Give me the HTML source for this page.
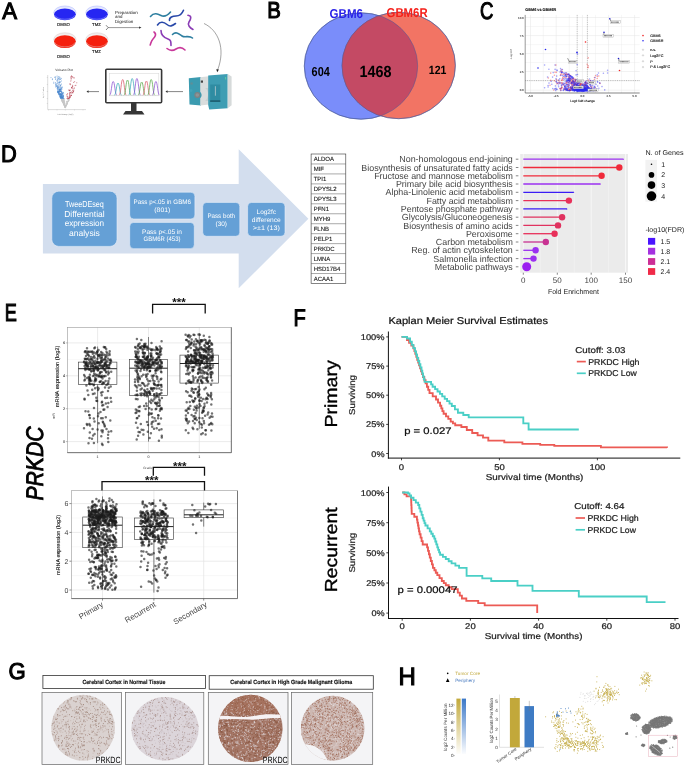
<!DOCTYPE html>
<html><head><meta charset="utf-8"><style>
html,body{margin:0;padding:0;background:#fff;}
body{width:685px;height:768px;overflow:hidden;}
svg{display:block;font-family:"Liberation Sans", sans-serif;will-change:transform;text-rendering:geometricPrecision;}
</style></head><body>
<svg width="685" height="768" viewBox="0 0 685 768">
<rect width="685" height="768" fill="#fff"/>
<text x="2.20" y="18.70" font-size="23.5" fill="#000" textLength="14.8" lengthAdjust="spacingAndGlyphs" stroke="#000" stroke-width="1.1" >A</text>
<text x="267.20" y="18.40" font-size="23" fill="#000" textLength="13.6" lengthAdjust="spacingAndGlyphs" stroke="#000" stroke-width="1.1" >B</text>
<text x="480.00" y="19.00" font-size="24" fill="#000" textLength="13.4" lengthAdjust="spacingAndGlyphs" stroke="#000" stroke-width="1.1" >C</text>
<text x="0.90" y="161.80" font-size="24" fill="#000" textLength="15.8" lengthAdjust="spacingAndGlyphs" stroke="#000" stroke-width="1.1" >D</text>
<text x="4.80" y="321.20" font-size="24.5" fill="#000" textLength="12.1" lengthAdjust="spacingAndGlyphs" stroke="#000" stroke-width="1.1" >E</text>
<text x="293.40" y="326.00" font-size="24" fill="#000" textLength="12.3" lengthAdjust="spacingAndGlyphs" stroke="#000" stroke-width="1.1" >F</text>
<text x="8.60" y="678.90" font-size="23" fill="#000" textLength="17.2" lengthAdjust="spacingAndGlyphs" stroke="#000" stroke-width="1.1" >G</text>
<text x="398.40" y="684.70" font-size="25" fill="#000" textLength="17.3" lengthAdjust="spacingAndGlyphs" stroke="#000" stroke-width="1.1" >H</text>
<ellipse cx="64.9" cy="12.6" rx="11.1" ry="6.6" fill="#e4e8ff" stroke="#b4bcff" stroke-width="0.6"/>
<ellipse cx="64.9" cy="14.4" rx="10.9" ry="5.9" fill="#2626f2"/>
<path d="M54.7 15.200000000000001 A 10.4 5.0 0 0 0 75.10000000000001 15.200000000000001" fill="none" stroke="#b4bcff" stroke-width="0.5" opacity="0.9"/>
<ellipse cx="96.9" cy="12.6" rx="11.1" ry="6.6" fill="#e4e8ff" stroke="#b4bcff" stroke-width="0.6"/>
<ellipse cx="96.9" cy="14.4" rx="10.9" ry="5.9" fill="#2626f2"/>
<path d="M86.7 15.200000000000001 A 10.4 5.0 0 0 0 107.10000000000001 15.200000000000001" fill="none" stroke="#b4bcff" stroke-width="0.5" opacity="0.9"/>
<ellipse cx="64.9" cy="39.4" rx="11.1" ry="6.6" fill="#f2eeee" stroke="#dccfcf" stroke-width="0.6"/>
<ellipse cx="64.9" cy="41.6" rx="10.9" ry="6.4" fill="#f5200e"/>
<path d="M54.7 42.4 A 10.4 5.5 0 0 0 75.10000000000001 42.4" fill="none" stroke="#dccfcf" stroke-width="0.5" opacity="0.9"/>
<ellipse cx="96.9" cy="39.4" rx="11.1" ry="6.6" fill="#f2eeee" stroke="#dccfcf" stroke-width="0.6"/>
<ellipse cx="96.9" cy="41.6" rx="10.9" ry="6.4" fill="#f5200e"/>
<path d="M86.7 42.4 A 10.4 5.5 0 0 0 107.10000000000001 42.4" fill="none" stroke="#dccfcf" stroke-width="0.5" opacity="0.9"/>
<text x="63.50" y="26.30" font-size="4.3" fill="#222" text-anchor="middle" stroke="#222" stroke-width="0.15" >DMSO</text>
<text x="96.50" y="26.30" font-size="4.3" fill="#222" text-anchor="middle" stroke="#222" stroke-width="0.15" >TMZ</text>
<text x="63.50" y="57.70" font-size="4.3" fill="#222" text-anchor="middle" stroke="#222" stroke-width="0.15" >DMSO</text>
<text x="96.50" y="52.80" font-size="4.3" fill="#222" text-anchor="middle" stroke="#222" stroke-width="0.15" >TMZ</text>
<path d="M106 25.2 L108.2 27.6 L106 30" fill="none" stroke="#333" stroke-width="0.6"/>
<line x1="108.2" y1="27.6" x2="139.5" y2="27.6" stroke="#333" stroke-width="0.5"/>
<path d="M139 26.4 L141.5 27.6 L139 28.8 Z" fill="#333"/>
<text x="115.00" y="13.50" font-size="4.4" fill="#111" >Preparation</text>
<text x="115.00" y="18.30" font-size="4.4" fill="#111" >and</text>
<text x="115.00" y="23.10" font-size="4.4" fill="#111" >Digestion</text>
<path d="M150.5 16.5 C154 12, 158 14, 161 15.5 S 167 16, 170.5 12" fill="none" stroke="#2e7fa0" stroke-width="1.6" stroke-linecap="round"/>
<path d="M169.5 20.5 C169 17, 173 16, 176 16 S 182 14, 183.5 10.3" fill="none" stroke="#2747a8" stroke-width="1.6" stroke-linecap="round"/>
<path d="M188 15.3 C192 16, 191 19, 189 22 S 190 28, 193 29.5" fill="none" stroke="#8a3cb5" stroke-width="1.6" stroke-linecap="round"/>
<path d="M157.5 25 C160 21, 164 22, 167 24.5 S 172 26, 175.5 23.5" fill="none" stroke="#2747a8" stroke-width="1.6" stroke-linecap="round"/>
<path d="M154 32 C157 34, 155 37, 153 39 S 151 43, 150.2 45" fill="none" stroke="#c8389a" stroke-width="1.6" stroke-linecap="round"/>
<path d="M161 30.5 C161 36, 165 38, 168 39 S 171 42, 171 45.5" fill="none" stroke="#8a3cb5" stroke-width="1.6" stroke-linecap="round"/>
<path d="M172.5 34.5 C176 31, 179 34, 182 36 S 189 35, 192.5 38" fill="none" stroke="#2e7fa0" stroke-width="1.6" stroke-linecap="round"/>
<path d="M167 48.5 C170 51, 173 51, 176 49 S 182 47, 185 50" fill="none" stroke="#c8389a" stroke-width="1.6" stroke-linecap="round"/>
<path d="M204 23.5 C 218 30, 226 48, 217.6 70" fill="none" stroke="#333" stroke-width="0.45"/>
<path d="M216.2 69.2 L217.3 72.2 L218.9 69.6 Z" fill="#222"/>
<path d="M188.8 78.2 L201 77 L201 105.5 L189.5 104.5 Z" fill="#3b9bb0"/>
<path d="M200.2 77.3 L209 76.2 L209 104.6 L200.2 105.6 Z" fill="#d9dddd"/>
<path d="M205 88 C 209 90, 209 98, 205 101 L 209 101 L 209 88 Z" fill="#c9cfd0"/>
<path d="M208.2 75.4 L227.7 74.0 L227.7 108.2 L209.2 109.4 L208.2 105 Z" fill="#3e9db3"/>
<path d="M227.7 74.0 L231.6 76.6 L231.6 105.2 L227.7 108.2 Z" fill="#d6dada"/>
<rect x="210.2" y="84.5" width="10.1" height="17.5" fill="#2f8ca2"/>
<rect x="214.9" y="86.2" width="0.9" height="9.5" fill="#a9c4ca"/>
<rect x="210.2" y="100.2" width="10.1" height="1.8" fill="#1e6274"/>
<circle cx="197.3" cy="95" r="4.3" fill="#3b9bb0"/>
<circle cx="197.3" cy="95" r="3.0" fill="#7d8284"/>
<circle cx="197.3" cy="95" r="1.8" fill="#8e9496"/>
<circle cx="191.6" cy="83.5" r="1.3" fill="#5e8f99"/>
<circle cx="191" cy="90.5" r="1.5" fill="#43a2b6"/>
<rect x="200.8" y="80.5" width="2.2" height="2.2" fill="#444"/>
<rect x="225.2" y="77" width="0.9" height="2.5" fill="#5fd0a0"/>
<line x1="167" y1="91.6" x2="183" y2="91.6" stroke="#666" stroke-width="0.8"/>
<path d="M167.5 90.3 L165.5 91.6 L167.5 92.9 Z" fill="#333"/>
<line x1="88" y1="91.6" x2="99" y2="91.6" stroke="#666" stroke-width="0.8"/>
<path d="M88.5 90.3 L86.5 91.6 L88.5 92.9 Z" fill="#333"/>
<rect x="105.8" y="69.2" width="55.8" height="33.6" rx="1" fill="#fff" stroke="#363636" stroke-width="1.6"/>
<rect x="109.4" y="73.4" width="49.4" height="22.4" fill="#fff" stroke="#d4d4d4" stroke-width="0.5"/>
<rect x="131" y="103" width="5.5" height="8" fill="#363636"/>
<path d="M123 114.6 L125.5 111 L142 111 L144.5 114.6 Z" fill="#363636"/>
<path d="M109.6 95.2 C 111.4 95.2, 111.6 81.5, 113.2 81.5 S 115.0 95.2, 116.8 95.2" fill="none" stroke="#8a4fd0" stroke-width="0.75"/>
<path d="M114.4 95.2 C 116.2 95.2, 116.4 83.0, 118.0 83.0 S 119.8 95.2, 121.5 95.2" fill="none" stroke="#3aa8b8" stroke-width="0.75"/>
<path d="M119.1 95.2 C 120.9 95.2, 121.1 79.5, 122.7 79.5 S 124.5 95.2, 126.3 95.2" fill="none" stroke="#d85a6a" stroke-width="0.75"/>
<path d="M123.9 95.2 C 125.7 95.2, 125.9 80.0, 127.5 80.0 S 129.2 95.2, 131.1 95.2" fill="none" stroke="#5aa84a" stroke-width="0.75"/>
<path d="M128.6 95.2 C 130.4 95.2, 130.6 78.5, 132.2 78.5 S 134.0 95.2, 135.8 95.2" fill="none" stroke="#3aa8b8" stroke-width="0.75"/>
<path d="M133.3 95.2 C 135.1 95.2, 135.3 78.5, 136.9 78.5 S 138.8 95.2, 140.5 95.2" fill="none" stroke="#8a4fd0" stroke-width="0.75"/>
<path d="M138.1 95.2 C 139.9 95.2, 140.1 82.0, 141.7 82.0 S 143.5 95.2, 145.3 95.2" fill="none" stroke="#5aa84a" stroke-width="0.75"/>
<path d="M142.8 95.2 C 144.6 95.2, 144.8 81.0, 146.4 81.0 S 148.2 95.2, 150.0 95.2" fill="none" stroke="#d85a6a" stroke-width="0.75"/>
<path d="M147.6 95.2 C 149.4 95.2, 149.6 79.5, 151.2 79.5 S 153.0 95.2, 154.8 95.2" fill="none" stroke="#5aa84a" stroke-width="0.75"/>
<path d="M152.3 95.2 C 154.1 95.2, 154.3 81.5, 155.9 81.5 S 157.8 95.2, 159.5 95.2" fill="none" stroke="#8a4fd0" stroke-width="0.75"/>
<line x1="109.6" y1="95.3" x2="158.6" y2="95.3" stroke="#c8c8c8" stroke-width="0.4"/>
<text x="64.10" y="71.20" font-size="3.2" fill="#333" text-anchor="middle" >Volcano Plot</text>
<line x1="47.7" y1="75" x2="47.7" y2="109.6" stroke="#cfcfcf" stroke-width="0.7"/>
<line x1="47.7" y1="109.6" x2="86" y2="109.6" stroke="#cfcfcf" stroke-width="0.7"/>
<line x1="46.8" y1="77.5" x2="47.7" y2="77.5" stroke="#999" stroke-width="0.3"/>
<line x1="46.8" y1="84.5" x2="47.7" y2="84.5" stroke="#999" stroke-width="0.3"/>
<line x1="46.8" y1="91.5" x2="47.7" y2="91.5" stroke="#999" stroke-width="0.3"/>
<line x1="46.8" y1="98.5" x2="47.7" y2="98.5" stroke="#999" stroke-width="0.3"/>
<line x1="46.8" y1="103.5" x2="47.7" y2="103.5" stroke="#999" stroke-width="0.3"/>
<line x1="48.5" y1="109.6" x2="48.5" y2="110.4" stroke="#999" stroke-width="0.3"/>
<line x1="57" y1="109.6" x2="57" y2="110.4" stroke="#999" stroke-width="0.3"/>
<line x1="65.4" y1="109.6" x2="65.4" y2="110.4" stroke="#999" stroke-width="0.3"/>
<line x1="74.5" y1="109.6" x2="74.5" y2="110.4" stroke="#999" stroke-width="0.3"/>
<line x1="83" y1="109.6" x2="83" y2="110.4" stroke="#999" stroke-width="0.3"/>
<text transform="translate(43.80,92.50) rotate(-90)" font-size="1.8" fill="#777" text-anchor="middle" >log10 P value</text>
<text x="65.40" y="114.80" font-size="1.9" fill="#777" text-anchor="middle" >Fold change (log2)</text>
<path d="M56.2 86.2h0M60.7 85.1h0M57.5 91.5h0M63.0 97.4h0M62.5 98.3h0M64.0 98.5h0M53.8 82.2h0M63.2 97.2h0M63.6 96.1h0M61.7 96.4h0M62.6 98.4h0M59.1 89.2h0M63.0 98.5h0M59.9 89.6h0M61.6 97.9h0M61.5 92.7h0M61.9 98.8h0M62.2 98.8h0M61.1 98.1h0M63.0 93.3h0M55.7 85.1h0M56.2 84.3h0M61.2 94.2h0M57.4 88.1h0M55.6 82.7h0M59.5 79.8h0M57.1 88.7h0M58.8 91.7h0M58.4 86.7h0M60.6 98.1h0M62.7 99.0h0M59.0 84.2h0M58.9 92.3h0M61.8 94.7h0M60.8 85.1h0M58.6 88.2h0M60.3 85.6h0M60.1 89.1h0M56.8 80.8h0M60.3 96.5h0M62.1 98.7h0M61.8 97.1h0M62.7 98.5h0M60.2 96.3h0M60.9 90.6h0M61.1 91.8h0M63.3 98.9h0M58.9 78.6h0M57.7 87.1h0M62.0 94.9h0M62.5 97.1h0M58.9 76.5h0M57.4 85.7h0M59.1 91.6h0M61.9 97.5h0M59.2 94.4h0M60.4 88.2h0M58.2 82.2h0M62.6 98.2h0M60.4 93.5h0M60.7 96.5h0M60.9 89.6h0M59.8 94.1h0M57.9 91.7h0M57.7 78.1h0M58.0 91.0h0M59.2 93.1h0M55.8 77.0h0M56.5 85.9h0M55.5 79.1h0M59.1 82.5h0M60.8 94.2h0M60.1 91.6h0M62.2 87.2h0M61.2 98.6h0M58.9 94.1h0M60.3 94.6h0M54.9 77.4h0M59.7 91.5h0M60.5 94.9h0M61.3 98.2h0M61.1 97.8h0M61.4 81.0h0M61.6 98.2h0M60.1 97.3h0M53.8 83.3h0M59.2 79.0h0M61.8 94.8h0M57.6 87.3h0M62.4 99.0h0M58.9 93.4h0M59.1 91.3h0M60.7 95.0h0M58.7 92.4h0M60.2 96.8h0M63.3 96.9h0M60.8 87.1h0M55.6 86.9h0M59.8 91.8h0M60.4 94.7h0M61.0 98.5h0M62.1 89.0h0M60.5 82.0h0M60.5 79.5h0M57.7 86.4h0M59.4 90.6h0M62.0 97.2h0M61.4 95.4h0M56.7 83.8h0M60.4 86.1h0M60.2 96.4h0M56.9 87.0h0M59.8 89.4h0M55.8 79.1h0M62.2 98.7h0M63.1 96.9h0M62.7 98.2h0M55.1 77.1h0M57.9 90.9h0M58.7 91.4h0M59.2 93.8h0M63.7 93.9h0M57.9 92.7h0M59.3 89.0h0M56.4 86.1h0M51.0 77.6h0M60.4 91.3h0M62.4 98.0h0M58.4 92.6h0M57.6 80.9h0M60.1 82.0h0M59.1 90.5h0M63.3 96.1h0M63.2 96.3h0M60.3 89.8h0M58.1 87.3h0M62.9 95.3h0M61.0 96.0h0M61.8 96.1h0M62.4 93.5h0M58.3 91.5h0M60.5 97.5h0M59.2 92.3h0M62.0 92.8h0M61.2 98.3h0M58.4 93.2h0M59.1 91.0h0M62.2 95.3h0M59.6 89.9h0M59.8 96.3h0M61.5 89.2h0M52.5 78.9h0M61.1 94.7h0M62.1 92.2h0M61.0 94.7h0M57.6 91.2h0M60.9 93.8h0M62.1 97.5h0M61.4 97.3h0M59.2 85.1h0M60.7 89.8h0M61.5 97.2h0M60.7 94.2h0M59.9 77.3h0M61.1 97.0h0M61.9 93.9h0M61.8 96.9h0M59.2 77.9h0M59.7 94.0h0M59.2 95.1h0M63.4 95.4h0M58.5 92.4h0M58.1 89.2h0M61.7 98.1h0M62.0 96.4h0M60.4 97.3h0M58.9 93.7h0M61.8 97.8h0M60.3 90.5h0M58.8 93.9h0M59.5 95.3h0M60.3 89.4h0M60.8 94.9h0M61.2 91.8h0M60.8 97.0h0M59.2 82.8h0M60.7 94.8h0M60.7 97.1h0M59.3 82.0h0M62.3 95.0h0M52.3 79.6h0M58.8 89.5h0M62.1 87.2h0M61.5 88.1h0M59.4 90.0h0M62.1 96.0h0M61.8 96.1h0M60.9 95.8h0M62.2 98.3h0M60.1 87.9h0M58.1 77.2h0M59.0 94.4h0M63.2 98.7h0M57.7 92.5h0M62.4 97.1h0M61.1 91.3h0M61.0 91.5h0M57.1 76.1h0M61.3 96.4h0M61.5 84.1h0M61.9 97.4h0M59.9 91.5h0M60.2 95.8h0M59.5 94.5h0M63.0 92.4h0M59.4 86.9h0M60.2 97.1h0M63.0 98.8h0M56.0 85.1h0M63.1 98.6h0M57.5 79.4h0M58.7 87.8h0M62.2 93.7h0M62.1 97.2h0M60.9 78.3h0M61.1 88.8h0M57.5 88.2h0M59.5 89.4h0M61.4 93.9h0M61.5 88.0h0M58.0 80.1h0M60.8 94.7h0M57.4 83.7h0M57.3 82.2h0M61.2 78.7h0M61.6 91.0h0M63.2 92.5h0M61.0 97.6h0M62.5 96.8h0M62.6 93.8h0M62.6 98.1h0M58.2 85.2h0M61.7 92.1h0M59.9 94.8h0M61.8 93.8h0M59.5 82.1h0M60.4 89.5h0M59.0 83.8h0M58.4 91.2h0M62.0 94.6h0M60.4 91.6h0M58.9 92.2h0M57.4 89.6h0M58.5 78.8h0M60.1 93.6h0M60.0 90.7h0M55.5 84.0h0M63.3 98.0h0M59.0 87.1h0M57.8 92.6h0M61.8 97.8h0" stroke="#4a88d0" stroke-width="0.84" stroke-linecap="round" stroke-opacity="0.85" fill="none"/>
<path d="M71.4 95.2h0M73.4 91.5h0M67.1 96.5h0M69.9 90.6h0M67.8 96.7h0M69.0 98.5h0M71.5 76.3h0M69.5 90.4h0M72.9 92.8h0M69.2 97.7h0M69.4 97.0h0M72.1 77.4h0M71.8 87.3h0M70.3 96.8h0M72.0 87.9h0M72.5 92.8h0M69.8 90.4h0M72.4 86.4h0M68.7 98.8h0M69.5 92.3h0M69.3 96.8h0M70.8 78.1h0M74.7 81.7h0M68.2 98.2h0M72.7 76.6h0M73.8 90.7h0M66.9 94.8h0M69.7 98.2h0M70.8 76.9h0M75.1 85.6h0M73.7 82.4h0M67.0 98.4h0M70.3 97.2h0M69.5 95.4h0M68.4 90.1h0M67.8 97.8h0M70.8 81.1h0M69.4 97.3h0M69.8 84.1h0M74.6 88.0h0M70.5 95.8h0M68.4 98.7h0M73.3 77.8h0M72.8 86.3h0M76.8 82.8h0M70.4 92.4h0M74.3 77.9h0M69.9 93.6h0M69.9 94.6h0M69.6 93.9h0M72.8 92.4h0M75.9 85.3h0M72.7 85.3h0M72.8 90.6h0M71.0 95.6h0M70.7 92.8h0M71.9 88.2h0M73.0 90.0h0M71.5 87.5h0M71.4 95.5h0M70.0 89.9h0M70.2 83.8h0M72.8 88.0h0M67.4 98.9h0M68.1 98.4h0M67.7 93.6h0M73.9 88.8h0M70.7 84.7h0M71.4 78.3h0M71.1 79.9h0M71.6 76.0h0M73.2 91.7h0M71.7 91.9h0M67.0 94.9h0M71.3 93.0h0" stroke="#b23444" stroke-width="0.84" stroke-linecap="round" stroke-opacity="0.85" fill="none"/>
<path d="M64.9 106.1h0M66.2 105.4h0M68.2 101.4h0M64.2 103.9h0M65.0 106.5h0M66.6 102.0h0M63.8 104.0h0M63.9 103.4h0M62.5 100.1h0M62.9 99.7h0M64.7 105.2h0M62.2 101.0h0M63.1 103.1h0M64.5 101.2h0M64.7 106.2h0M63.6 102.8h0M65.7 106.7h0M61.3 99.6h0M68.6 101.0h0M65.2 106.9h0M63.1 100.1h0M63.9 104.7h0M64.1 104.7h0M64.7 105.8h0M63.3 101.7h0M63.6 101.4h0M63.1 101.1h0M65.0 106.7h0M67.0 102.2h0M68.2 101.0h0M62.5 99.7h0M65.1 106.8h0M65.7 107.0h0M67.2 104.0h0M66.1 105.6h0M64.2 102.4h0M62.9 102.1h0M66.7 101.6h0M64.1 103.8h0M63.7 101.8h0M63.8 102.8h0M66.9 103.8h0M63.3 102.0h0M67.6 101.8h0M69.3 99.8h0M67.3 103.5h0M64.2 102.1h0M65.8 106.4h0M64.1 105.0h0M65.3 107.4h0M65.2 107.1h0M68.4 99.5h0M64.6 104.3h0M63.9 102.9h0M61.9 99.4h0M62.1 101.1h0M63.5 102.5h0M66.2 105.0h0M66.3 101.8h0M66.1 103.1h0M63.2 102.4h0M65.1 106.4h0M63.4 102.4h0M67.0 103.4h0M64.3 102.1h0M63.7 101.6h0M63.1 101.7h0M64.9 105.7h0M64.2 101.3h0M64.0 104.6h0M63.3 99.9h0M61.9 99.7h0M68.6 99.3h0M64.9 106.6h0M64.9 106.2h0M64.0 104.4h0M68.6 100.6h0M64.3 105.4h0M64.6 105.3h0M63.6 103.0h0M62.7 101.8h0M64.3 105.1h0M64.5 105.0h0M63.5 101.2h0M65.2 106.5h0M64.8 106.3h0M62.8 101.8h0M63.0 102.5h0M63.7 102.8h0M64.4 105.0h0M65.8 106.8h0M62.6 101.8h0M62.5 100.3h0M64.9 106.7h0M64.9 106.1h0M65.4 107.6h0M61.6 99.6h0M64.8 105.4h0M66.6 105.0h0M64.5 105.8h0M63.2 103.0h0M68.6 100.6h0M64.9 106.0h0M63.6 103.7h0M64.2 104.4h0M65.1 106.6h0M64.4 105.5h0M66.1 103.9h0M67.6 103.0h0M64.8 105.5h0M65.3 107.3h0M66.9 104.6h0M63.8 102.7h0M64.3 100.4h0M64.7 105.3h0M68.7 100.0h0M65.1 106.8h0M63.5 101.7h0M64.9 106.1h0M65.3 107.3h0M64.3 104.4h0M66.1 103.6h0M66.3 105.5h0M63.4 100.9h0M63.4 99.8h0M65.3 107.4h0M61.4 99.4h0M63.4 102.0h0M63.3 101.3h0M64.3 105.5h0M62.6 101.2h0M64.8 105.8h0M64.3 105.4h0M63.6 103.1h0M65.2 107.2h0M65.0 105.6h0M65.8 105.4h0M66.2 105.4h0M62.7 100.3h0M64.5 104.8h0M64.6 105.7h0M63.4 103.3h0M62.3 101.2h0M63.7 101.2h0M69.0 100.5h0M61.9 99.3h0M63.8 104.3h0M64.3 102.0h0M62.2 101.1h0M68.7 100.9h0M63.9 104.3h0M63.9 99.3h0M63.4 103.1h0M64.7 104.9h0M64.2 103.8h0M62.6 101.3h0M63.3 103.3h0M64.7 104.4h0M64.1 103.8h0M65.4 107.3h0M67.0 102.8h0M61.9 99.7h0M62.4 99.8h0M63.6 102.9h0M63.1 101.5h0M64.0 104.6h0M61.7 100.2h0M63.7 102.9h0M64.4 105.0h0M64.7 105.3h0M62.3 101.5h0M65.0 106.8h0M64.9 106.3h0M65.0 106.8h0M64.4 99.2h0M64.8 105.9h0M65.7 106.4h0M63.6 103.3h0M64.6 103.5h0M62.9 100.3h0M63.8 101.8h0M62.1 100.6h0M66.4 105.3h0M65.8 106.7h0M64.5 104.7h0M65.4 107.4h0M66.2 105.4h0M67.0 104.1h0M63.7 104.0h0M61.5 99.5h0M67.7 101.2h0M64.5 105.5h0M64.7 105.9h0M64.6 104.7h0M65.4 107.5h0M65.2 107.1h0M63.6 101.7h0M64.4 103.7h0M66.4 105.2h0M63.4 101.1h0M63.4 103.5h0M63.7 103.0h0M69.6 99.3h0M63.9 104.7h0M67.6 101.8h0M65.0 106.5h0M63.3 101.6h0M64.8 106.0h0M62.1 101.1h0M63.1 102.4h0M63.8 101.5h0M64.7 105.6h0M65.4 107.6h0M64.9 106.3h0M65.2 106.8h0M63.6 103.1h0M65.2 107.0h0M62.7 102.4h0M63.1 101.2h0M64.5 104.0h0M64.7 105.6h0M65.2 106.9h0M64.1 104.6h0M65.2 107.2h0M62.3 100.4h0M65.4 107.5h0M67.6 99.4h0M64.8 105.9h0M67.5 102.0h0M62.7 100.2h0M63.8 103.3h0M64.8 106.2h0M68.6 99.5h0M64.1 104.5h0M63.8 100.3h0M62.1 100.2h0M63.9 104.1h0M64.7 103.2h0M62.8 101.9h0M64.4 105.2h0M64.9 106.4h0M62.2 99.1h0M62.6 100.9h0M64.7 106.1h0M62.2 101.2h0M65.3 106.5h0M63.1 102.9h0M63.7 102.9h0M67.0 101.0h0M65.4 107.4h0M67.1 103.4h0M66.5 105.4h0M63.5 102.1h0M67.5 102.7h0M62.4 100.7h0M63.6 103.0h0M64.5 105.8h0M62.7 101.8h0M66.9 103.8h0M62.7 101.9h0M64.9 106.5h0M67.1 101.5h0M65.4 107.5h0M63.6 102.3h0M64.4 105.1h0M63.9 103.9h0M64.1 104.8h0M65.5 107.4h0M65.9 106.5h0M62.7 101.3h0M65.4 107.4h0M64.1 100.4h0M64.6 104.0h0M65.0 106.0h0M62.3 100.4h0M68.7 101.1h0M65.0 106.6h0M64.7 105.0h0M65.1 106.8h0M66.1 105.2h0M64.4 105.2h0M63.6 103.3h0M63.7 100.4h0M64.0 101.2h0M64.7 104.5h0M63.7 99.2h0M65.5 107.3h0M67.2 102.8h0M68.7 100.5h0M63.8 100.1h0M63.0 99.6h0M64.1 104.7h0M64.6 104.5h0M67.1 103.3h0M63.8 104.3h0M65.4 107.6h0M61.8 100.2h0M62.2 100.8h0M64.4 105.3h0M64.9 106.6h0M64.2 101.8h0M64.4 103.4h0M62.0 99.4h0M63.4 103.1h0M64.1 103.4h0M67.0 104.1h0M63.4 103.7h0M64.8 105.8h0M65.0 104.8h0M65.9 105.3h0M64.2 104.1h0M67.4 102.8h0M64.9 105.5h0M64.9 106.0h0M66.7 104.2h0M67.8 102.3h0M63.5 101.1h0" stroke="#c9c9c9" stroke-width="0.84" stroke-linecap="round" stroke-opacity="0.85" fill="none"/>
<ellipse cx="361" cy="66" rx="56.7" ry="53.2" fill="#7a8dfa" stroke="#4b5a9a" stroke-width="0.5"/>
<ellipse cx="398.7" cy="65.5" rx="56.7" ry="53.2" fill="#f27464" stroke="#4b5a9a" stroke-width="0.5"/>
<clipPath id="cpB"><ellipse cx="361" cy="66" rx="56.7" ry="53.2"/></clipPath>
<ellipse cx="398.7" cy="65.5" rx="56.7" ry="53.2" fill="#c44a64" clip-path="url(#cpB)"/>
<ellipse cx="361" cy="66" rx="56.7" ry="53.2" fill="none" stroke="#4b5a9a" stroke-width="0.5"/>
<ellipse cx="398.7" cy="65.5" rx="56.7" ry="53.2" fill="none" stroke="#4b5a9a" stroke-width="0.5"/>
<text x="329.60" y="18.20" font-size="12.8" fill="#2a22e8" font-weight="bold" textLength="33.4" lengthAdjust="spacingAndGlyphs" >GBM6</text>
<text x="386.60" y="17.40" font-size="12.8" fill="#f5201a" font-weight="bold" textLength="41" lengthAdjust="spacingAndGlyphs" >GBM6R</text>
<text x="311.60" y="76.00" font-size="13" fill="#000" font-weight="bold" textLength="18.2" lengthAdjust="spacingAndGlyphs" >604</text>
<text x="359.40" y="76.60" font-size="16.2" fill="#000" font-weight="bold" textLength="32" lengthAdjust="spacingAndGlyphs" >1468</text>
<text x="428.80" y="73.60" font-size="12" fill="#000" font-weight="bold" textLength="17.6" lengthAdjust="spacingAndGlyphs" >121</text>
<rect x="525.2" y="14.9" width="114.5" height="78.1" fill="#fff"/>
<line x1="530.5" y1="14.9" x2="530.5" y2="93.0" stroke="#e4e4e4" stroke-width="0.5"/>
<line x1="543.3" y1="14.9" x2="543.3" y2="93.0" stroke="#e4e4e4" stroke-width="0.3"/>
<line x1="556.2" y1="14.9" x2="556.2" y2="93.0" stroke="#e4e4e4" stroke-width="0.5"/>
<line x1="569.3" y1="14.9" x2="569.3" y2="93.0" stroke="#e4e4e4" stroke-width="0.3"/>
<line x1="582.4" y1="14.9" x2="582.4" y2="93.0" stroke="#e4e4e4" stroke-width="0.5"/>
<line x1="595.5" y1="14.9" x2="595.5" y2="93.0" stroke="#e4e4e4" stroke-width="0.3"/>
<line x1="608.6" y1="14.9" x2="608.6" y2="93.0" stroke="#e4e4e4" stroke-width="0.5"/>
<line x1="621.5" y1="14.9" x2="621.5" y2="93.0" stroke="#e4e4e4" stroke-width="0.3"/>
<line x1="634.6" y1="14.9" x2="634.6" y2="93.0" stroke="#e4e4e4" stroke-width="0.5"/>
<line x1="525.2" y1="17.5" x2="639.7" y2="17.5" stroke="#e4e4e4" stroke-width="0.5"/>
<line x1="525.2" y1="26.5" x2="639.7" y2="26.5" stroke="#e4e4e4" stroke-width="0.3"/>
<line x1="525.2" y1="35.6" x2="639.7" y2="35.6" stroke="#e4e4e4" stroke-width="0.5"/>
<line x1="525.2" y1="44.6" x2="639.7" y2="44.6" stroke="#e4e4e4" stroke-width="0.3"/>
<line x1="525.2" y1="53.6" x2="639.7" y2="53.6" stroke="#e4e4e4" stroke-width="0.5"/>
<line x1="525.2" y1="62.5" x2="639.7" y2="62.5" stroke="#e4e4e4" stroke-width="0.3"/>
<line x1="525.2" y1="71.5" x2="639.7" y2="71.5" stroke="#e4e4e4" stroke-width="0.5"/>
<line x1="525.2" y1="80.8" x2="639.7" y2="80.8" stroke="#e4e4e4" stroke-width="0.3"/>
<line x1="525.2" y1="90.2" x2="639.7" y2="90.2" stroke="#e4e4e4" stroke-width="0.5"/>
<line x1="525.2" y1="14.9" x2="525.2" y2="93.0" stroke="#333" stroke-width="0.5"/>
<line x1="525.2" y1="93.0" x2="639.7" y2="93.0" stroke="#333" stroke-width="0.6"/>
<text x="523.70" y="18.50" font-size="2.9" fill="#333" text-anchor="end" stroke="#333" stroke-width="0.08" >10.0</text>
<text x="523.70" y="36.60" font-size="2.9" fill="#333" text-anchor="end" stroke="#333" stroke-width="0.08" >7.5</text>
<text x="523.70" y="54.60" font-size="2.9" fill="#333" text-anchor="end" stroke="#333" stroke-width="0.08" >5.0</text>
<text x="523.70" y="72.50" font-size="2.9" fill="#333" text-anchor="end" stroke="#333" stroke-width="0.08" >2.5</text>
<text x="523.70" y="91.20" font-size="2.9" fill="#333" text-anchor="end" stroke="#333" stroke-width="0.08" >0.0</text>
<text x="530.50" y="97.20" font-size="2.9" fill="#333" text-anchor="middle" stroke="#333" stroke-width="0.08" >-5.0</text>
<text x="556.20" y="97.20" font-size="2.9" fill="#333" text-anchor="middle" stroke="#333" stroke-width="0.08" >-2.5</text>
<text x="582.40" y="97.20" font-size="2.9" fill="#333" text-anchor="middle" stroke="#333" stroke-width="0.08" >0.0</text>
<text x="608.60" y="97.20" font-size="2.9" fill="#333" text-anchor="middle" stroke="#333" stroke-width="0.08" >2.5</text>
<text x="634.60" y="97.20" font-size="2.9" fill="#333" text-anchor="middle" stroke="#333" stroke-width="0.08" >5.0</text>
<text x="582.50" y="101.80" font-size="3.2" fill="#111" text-anchor="middle" stroke="#111" stroke-width="0.1" >Log2 fold change</text>
<text transform="translate(511.5,54) rotate(-90)" font-size="2.6" fill="#333" text-anchor="middle">-Log10 P</text>
<text x="525.30" y="10.60" font-size="4.0" fill="#111" font-weight="bold" textLength="31" lengthAdjust="spacingAndGlyphs" stroke="#111" stroke-width="0.1" >GBM6 vs GBM6R</text>
<line x1="577.2" y1="14.9" x2="577.2" y2="93.0" stroke="#555" stroke-width="0.4" stroke-dasharray="1,0.8"/>
<line x1="587.4" y1="14.9" x2="587.4" y2="93.0" stroke="#555" stroke-width="0.4" stroke-dasharray="1,0.8"/>
<line x1="525.2" y1="80.6" x2="639.7" y2="80.6" stroke="#555" stroke-width="0.4" stroke-dasharray="1,0.8"/>
<path d="M586.6 90.0h0M591.4 82.0h0M565.9 88.4h0M562.0 80.3h0M572.6 85.0h0M574.0 87.2h0M573.5 81.0h0M578.6 82.9h0M595.2 90.6h0M573.2 80.6h0M579.7 89.9h0M577.6 82.9h0M576.5 82.5h0M582.8 88.9h0M571.3 88.5h0M591.6 87.9h0M600.0 83.4h0M569.3 89.9h0M554.4 75.2h0M566.7 74.2h0M583.2 87.8h0M575.4 89.0h0M569.3 88.9h0M597.2 78.5h0M576.2 88.8h0M585.6 82.9h0M568.0 86.7h0M548.3 78.0h0M586.5 90.1h0M573.2 79.2h0M560.7 90.4h0M572.2 79.3h0M575.2 89.4h0M571.6 84.5h0M573.0 87.6h0M562.3 71.6h0M564.2 74.0h0M556.6 79.5h0M568.7 77.6h0M568.1 88.8h0" stroke="#f02525" stroke-width="1.60" stroke-linecap="round" stroke-opacity="0.42" fill="none"/><path d="M564.3 85.4h0M571.3 82.3h0M573.0 84.0h0M575.9 80.3h0M575.0 88.8h0M572.2 81.5h0M581.8 88.3h0M583.5 84.4h0M570.7 87.4h0M580.2 84.4h0M575.3 79.3h0M573.9 88.7h0M576.4 84.9h0M581.3 83.9h0M562.9 79.0h0M579.6 84.5h0M585.5 89.2h0M598.8 76.0h0M560.8 74.2h0M570.4 90.5h0M562.7 77.5h0M566.8 81.9h0M568.9 74.5h0M574.1 90.2h0M585.7 87.7h0M590.2 81.0h0M574.0 88.1h0M556.4 72.3h0M585.2 82.3h0M571.2 88.2h0M573.5 85.3h0M575.5 83.9h0M565.7 87.5h0M577.0 82.8h0M567.0 76.6h0M586.9 86.9h0M593.0 89.8h0M570.9 79.4h0M579.1 88.5h0M563.4 84.2h0" stroke="#f02525" stroke-width="1.60" stroke-linecap="round" stroke-opacity="0.42" fill="none"/><path d="M561.7 73.8h0M584.7 88.9h0M567.6 84.6h0M590.2 81.1h0M585.8 85.1h0M555.9 81.7h0M575.1 79.8h0M577.5 87.3h0M585.6 90.3h0M586.5 83.5h0M553.7 90.0h0M562.4 87.6h0M576.1 84.5h0M592.0 88.7h0M573.0 78.5h0M575.4 81.5h0M572.2 82.0h0M578.1 88.0h0M574.7 89.9h0M580.4 84.5h0M567.2 74.6h0M570.9 89.8h0M563.8 89.1h0M582.2 90.6h0M560.4 75.4h0M569.7 78.4h0M568.4 86.4h0M561.8 86.1h0M584.8 84.8h0M587.9 83.3h0M569.7 77.9h0M578.3 89.3h0M582.2 90.2h0M561.9 88.0h0M576.7 87.0h0M554.2 80.8h0M575.7 89.7h0M569.4 89.7h0M592.5 83.4h0M597.3 76.5h0" stroke="#f02525" stroke-width="1.60" stroke-linecap="round" stroke-opacity="0.42" fill="none"/><path d="M570.3 90.3h0M572.6 89.1h0M568.4 82.7h0M571.6 83.1h0M572.6 81.9h0M574.6 83.9h0M574.3 84.6h0M570.7 87.7h0M574.9 88.2h0M574.4 87.2h0M590.5 86.3h0M562.1 79.0h0M575.8 80.6h0M579.9 87.1h0M589.4 90.2h0M565.1 77.6h0M565.9 83.3h0M550.0 85.2h0M572.7 88.7h0M586.2 88.9h0M561.9 80.2h0M579.5 85.8h0M574.4 89.9h0M594.4 79.5h0M588.2 80.0h0M578.9 86.5h0M573.8 78.4h0M575.8 84.2h0M576.6 89.4h0M566.7 90.1h0M585.0 87.9h0M578.8 81.7h0M555.9 65.1h0M582.5 84.8h0M576.5 86.9h0M575.6 84.8h0M582.1 90.4h0M584.5 89.6h0M579.4 87.7h0M568.9 79.8h0" stroke="#f02525" stroke-width="1.60" stroke-linecap="round" stroke-opacity="0.42" fill="none"/><path d="M574.2 88.8h0M572.6 86.4h0M566.0 73.4h0M576.3 80.7h0M556.9 83.8h0M585.9 86.3h0M568.1 90.2h0M579.6 85.8h0M570.1 82.9h0M585.2 84.8h0M572.0 89.0h0M565.5 74.6h0M580.6 88.7h0M560.8 71.6h0M550.7 73.1h0M564.6 89.8h0M570.3 80.4h0M561.2 83.1h0M570.7 90.4h0M580.6 83.8h0M572.9 87.1h0M580.7 89.4h0M573.6 82.3h0M588.3 86.9h0M569.9 75.5h0M581.1 89.2h0M571.4 83.8h0M580.7 90.3h0M586.1 82.7h0M577.7 83.8h0M564.0 77.0h0M559.7 88.5h0M570.6 88.4h0M580.3 85.3h0M573.4 82.9h0M561.1 88.7h0M570.5 75.5h0M591.9 86.8h0M562.3 83.8h0M585.3 82.1h0" stroke="#f02525" stroke-width="1.60" stroke-linecap="round" stroke-opacity="0.42" fill="none"/><path d="M569.8 78.4h0M561.5 87.7h0M582.2 87.7h0M571.1 86.6h0M568.9 81.0h0M568.8 90.1h0M580.9 83.9h0M563.2 74.5h0M555.0 72.2h0M581.8 90.5h0M582.1 84.1h0M579.6 82.5h0M574.1 82.1h0M576.6 84.8h0M573.2 86.1h0M557.7 83.2h0M582.6 90.2h0M569.1 79.0h0M573.9 82.4h0M560.7 88.9h0M584.0 87.9h0M595.1 87.8h0M567.9 74.5h0M578.7 81.5h0M584.0 86.0h0M568.7 85.1h0M571.9 80.6h0M578.4 81.2h0M594.5 77.5h0M576.4 87.1h0M568.5 90.2h0M588.3 89.7h0M562.1 82.5h0M569.4 81.2h0M579.8 89.8h0M588.6 87.2h0M573.6 87.2h0M595.6 75.6h0M573.9 85.5h0M559.6 82.1h0" stroke="#f02525" stroke-width="1.60" stroke-linecap="round" stroke-opacity="0.42" fill="none"/><path d="M584.5 85.5h0M569.5 76.5h0M577.6 86.9h0M580.1 85.4h0M558.4 80.5h0M577.2 89.5h0M584.8 84.7h0M596.6 90.4h0M577.8 86.0h0M578.0 83.3h0M577.6 82.2h0M582.9 88.1h0M585.5 90.1h0M550.7 80.4h0M574.4 81.8h0M566.6 82.9h0M580.9 86.8h0M575.4 86.9h0M579.5 86.8h0M574.5 90.5h0M561.8 69.8h0M559.0 83.1h0M579.1 88.8h0M588.3 67.5h0M588.2 65.8h0M587.7 67.4h0M587.2 64.3h0M588.2 57.9h0" stroke="#f02525" stroke-width="1.60" stroke-linecap="round" stroke-opacity="0.42" fill="none"/>
<path d="M561.0 70.4h0M578.7 86.3h0M579.8 85.6h0M585.4 82.1h0M577.5 90.4h0M582.2 88.0h0M558.9 79.9h0M607.6 70.2h0M569.0 75.9h0M585.5 90.2h0M583.0 83.9h0M576.8 85.1h0M581.0 89.9h0M591.2 89.5h0M576.5 80.1h0M583.0 88.8h0M577.2 82.0h0M585.2 90.0h0M586.8 88.7h0M582.3 88.5h0M586.8 85.4h0M563.5 76.2h0M583.4 84.3h0M602.0 86.6h0M581.3 89.1h0M567.0 88.2h0M569.3 85.6h0M572.0 76.7h0M560.9 90.4h0M565.9 90.4h0M547.6 77.0h0M556.8 89.3h0M607.6 73.0h0M573.1 80.4h0M557.4 83.1h0M592.6 85.5h0M561.5 72.2h0M566.9 81.0h0M566.9 89.6h0M573.6 81.5h0" stroke="#2525f0" stroke-width="1.60" stroke-linecap="round" stroke-opacity="0.42" fill="none"/><path d="M554.9 89.1h0M582.2 90.5h0M566.6 78.6h0M575.5 84.0h0M574.5 87.5h0M588.0 86.4h0M565.5 85.4h0M578.2 83.1h0M566.2 88.7h0M569.7 77.7h0M577.1 84.5h0M585.6 88.2h0M570.8 86.7h0M566.3 79.8h0M565.8 76.0h0M567.8 90.5h0M567.8 79.2h0M560.6 82.9h0M590.6 89.4h0M567.3 80.3h0M564.3 73.5h0M584.5 83.0h0M570.2 80.0h0M568.4 80.5h0M579.9 82.4h0M597.6 82.0h0M596.4 89.6h0M576.6 87.5h0M556.9 70.0h0M572.7 77.8h0M579.0 89.0h0M573.1 87.4h0M565.9 75.3h0M587.9 88.9h0M555.0 65.0h0M567.9 82.2h0M587.6 87.0h0M572.0 83.3h0M570.7 76.3h0M573.0 89.4h0" stroke="#2525f0" stroke-width="1.60" stroke-linecap="round" stroke-opacity="0.42" fill="none"/><path d="M586.9 82.8h0M565.0 87.7h0M565.1 89.2h0M586.6 89.7h0M574.5 84.7h0M568.1 87.9h0M573.3 82.7h0M562.3 75.6h0M582.4 88.9h0M569.0 87.8h0M579.0 88.9h0M564.5 83.7h0M581.9 86.1h0M556.0 78.9h0M576.9 85.3h0M577.5 82.3h0M599.6 82.7h0M584.8 88.3h0M573.4 81.9h0M572.6 78.5h0M574.4 82.3h0M566.8 80.6h0M566.4 72.7h0M573.3 81.2h0M592.6 81.4h0M573.8 86.9h0M564.6 87.0h0M562.4 69.5h0M556.7 76.1h0M574.4 84.4h0M598.5 73.0h0M574.0 83.6h0M598.9 88.3h0M581.6 89.7h0M571.6 77.0h0M572.1 83.8h0M568.5 80.3h0M581.3 88.9h0M576.3 89.3h0M589.5 79.0h0" stroke="#2525f0" stroke-width="1.60" stroke-linecap="round" stroke-opacity="0.42" fill="none"/><path d="M596.0 84.4h0M548.9 69.2h0M570.7 75.9h0M570.2 81.6h0M568.9 84.2h0M564.5 75.9h0M568.8 74.2h0M573.7 89.5h0M566.4 76.8h0M569.0 80.0h0M581.3 86.6h0M574.7 88.1h0M567.4 74.7h0M578.3 88.5h0M570.4 89.7h0M573.4 84.0h0M583.5 85.3h0M579.5 83.8h0M578.4 84.8h0M568.2 78.5h0M587.4 85.3h0M566.0 87.5h0M582.7 85.9h0M588.3 83.2h0M597.3 74.9h0M569.9 76.1h0M582.4 89.6h0M578.5 83.0h0M561.4 87.6h0M581.1 90.5h0M568.4 82.3h0M571.2 83.2h0M578.5 83.9h0M576.8 90.0h0M588.9 88.6h0M572.0 76.9h0M560.8 75.3h0M582.1 84.9h0M560.0 72.0h0M589.7 84.9h0" stroke="#2525f0" stroke-width="1.60" stroke-linecap="round" stroke-opacity="0.42" fill="none"/><path d="M570.4 78.7h0M569.1 79.1h0M577.8 88.2h0M585.0 90.3h0M583.2 88.7h0M590.9 80.5h0M597.5 81.8h0M566.8 90.0h0M561.4 85.7h0M587.0 87.4h0M575.4 82.7h0M579.9 83.5h0M551.8 84.3h0M548.1 87.0h0M595.0 77.6h0M573.5 85.0h0M569.6 75.5h0M578.0 85.8h0M567.8 88.5h0M583.3 87.6h0M587.5 86.4h0M563.3 90.5h0M567.7 85.0h0M577.6 84.2h0M571.0 77.0h0M576.9 85.7h0M560.6 68.6h0M584.5 85.6h0M584.3 88.3h0M555.1 69.4h0M573.4 89.0h0M585.9 87.8h0M566.6 88.7h0M587.8 83.5h0M573.4 88.6h0M569.3 82.0h0M562.4 84.0h0M596.8 89.1h0M590.2 84.5h0M603.4 73.2h0" stroke="#2525f0" stroke-width="1.60" stroke-linecap="round" stroke-opacity="0.42" fill="none"/><path d="M556.0 88.3h0M568.9 87.4h0M573.2 77.5h0M569.4 80.4h0M566.6 84.6h0M575.2 88.7h0M572.1 77.2h0M563.4 78.7h0M576.7 82.8h0M544.6 65.0h0M577.7 87.0h0M552.6 77.1h0M564.9 83.2h0M572.9 81.3h0M577.9 83.7h0M565.1 88.9h0M563.4 89.9h0M584.9 83.1h0M563.3 83.0h0M555.4 86.0h0M552.8 88.6h0M564.8 88.8h0M597.7 86.0h0M579.1 82.3h0M567.1 86.2h0M565.7 74.4h0M579.2 89.3h0M573.1 78.7h0M567.5 79.7h0M563.2 72.7h0M589.2 88.0h0M567.3 89.5h0M572.0 88.5h0M556.7 82.2h0M559.6 83.4h0M569.1 78.3h0M553.2 72.6h0M568.0 84.0h0M579.0 88.9h0M555.5 86.0h0" stroke="#2525f0" stroke-width="1.60" stroke-linecap="round" stroke-opacity="0.42" fill="none"/><path d="M571.6 82.6h0M574.5 84.1h0M577.2 90.5h0M580.3 87.5h0M572.9 89.9h0M594.2 82.7h0M564.8 86.4h0M565.2 89.4h0M578.5 89.5h0M582.0 85.0h0M575.8 86.0h0M570.6 90.3h0M576.5 82.6h0M582.9 87.8h0M568.0 73.9h0M572.3 86.5h0M571.4 78.3h0M583.8 88.0h0M566.5 84.6h0M576.7 89.1h0M577.3 87.9h0M586.6 81.0h0M576.6 86.9h0M594.3 86.4h0M558.4 85.0h0M575.2 90.4h0M577.6 85.4h0M583.7 85.9h0M573.1 88.3h0M579.4 88.2h0M573.3 86.0h0M580.9 89.6h0M574.8 87.1h0M579.4 89.6h0M584.9 90.3h0M578.8 85.6h0M582.0 84.6h0M573.3 88.7h0M590.9 83.3h0M565.1 72.7h0" stroke="#2525f0" stroke-width="1.60" stroke-linecap="round" stroke-opacity="0.42" fill="none"/><path d="M585.5 85.4h0M564.8 86.2h0M577.1 89.6h0M574.6 85.2h0M559.8 78.7h0M561.4 84.8h0M593.4 81.0h0M594.6 88.7h0M569.9 83.7h0M568.4 78.5h0M588.3 89.7h0M584.8 84.4h0M593.4 87.6h0M565.2 74.9h0M590.6 84.1h0M570.4 78.2h0M567.5 81.2h0M604.7 89.9h0M571.2 79.2h0M572.2 82.6h0M572.1 88.0h0M580.7 87.2h0M577.8 89.0h0M575.7 90.2h0M566.0 86.4h0M561.7 72.3h0M577.7 87.5h0M577.5 88.0h0M575.0 84.9h0M579.2 87.5h0M557.2 70.5h0M563.4 84.2h0M567.6 90.5h0M548.1 85.5h0M568.2 86.0h0M599.9 83.3h0M572.6 87.5h0M569.8 81.6h0M568.5 76.6h0M560.3 88.7h0" stroke="#2525f0" stroke-width="1.60" stroke-linecap="round" stroke-opacity="0.42" fill="none"/><path d="M574.1 82.4h0M564.6 79.7h0M571.7 82.2h0M574.3 83.7h0M580.3 87.2h0M571.8 85.6h0M544.6 87.7h0M566.5 75.7h0M575.0 79.5h0M561.9 72.3h0M574.4 85.6h0M571.6 89.9h0M590.1 81.3h0M575.5 80.9h0M594.3 82.9h0M558.8 82.6h0M556.9 89.4h0M558.6 86.7h0M587.2 89.0h0M582.6 86.8h0M577.0 83.7h0M569.0 74.4h0M564.1 88.4h0M556.3 81.4h0M583.8 87.1h0M564.7 86.9h0M588.7 88.0h0M569.6 80.4h0M549.0 83.1h0M583.7 86.5h0M555.1 88.7h0M583.4 88.2h0M596.1 90.4h0M565.1 78.5h0M576.6 80.2h0M585.6 83.4h0M574.0 82.2h0M585.7 87.4h0M579.5 89.1h0M582.5 86.8h0" stroke="#2525f0" stroke-width="1.60" stroke-linecap="round" stroke-opacity="0.42" fill="none"/><path d="M588.3 88.3h0M572.2 89.4h0M555.6 90.4h0M566.5 81.7h0M589.4 87.7h0M587.0 89.7h0M571.4 88.1h0M576.4 85.0h0M570.4 75.8h0M561.9 72.4h0M586.1 84.1h0M591.3 89.1h0M579.8 88.5h0M575.5 83.6h0M577.8 89.8h0M568.5 80.3h0M585.8 82.1h0M583.1 87.9h0M594.5 90.0h0M551.2 81.4h0M563.1 85.1h0M565.2 81.7h0M576.1 82.0h0M581.7 88.9h0M565.9 89.5h0M579.3 88.2h0M566.0 76.5h0M576.1 74.9h0M576.1 70.7h0M576.9 79.8h0M577.0 52.7h0M577.5 74.6h0M576.9 52.2h0M577.2 64.6h0M577.1 81.5h0M577.5 54.2h0" stroke="#2525f0" stroke-width="1.60" stroke-linecap="round" stroke-opacity="0.42" fill="none"/>
<path d="M589.6 89.4h0M588.9 89.8h0M584.7 90.3h0M584.5 87.0h0M573.0 90.5h0M579.0 90.1h0M574.1 90.6h0M580.9 88.2h0M581.7 90.1h0M583.1 90.2h0M578.0 89.9h0M573.3 89.3h0M576.7 90.7h0M588.2 89.1h0M586.1 90.5h0M588.4 90.3h0M585.2 89.7h0M586.7 89.9h0M578.2 88.5h0M586.9 90.2h0M578.3 85.9h0M580.2 90.3h0M581.8 90.4h0M579.7 89.2h0M579.7 90.7h0M581.3 88.6h0M577.5 90.1h0M588.1 89.6h0M570.9 87.8h0M578.2 90.0h0M579.5 89.1h0M583.2 90.7h0M579.7 90.8h0M591.5 89.3h0M577.5 90.3h0M580.4 90.6h0M590.6 88.8h0M580.5 90.7h0M583.6 90.5h0M579.7 89.8h0M581.1 89.0h0M581.4 89.7h0M591.6 89.3h0M576.6 90.2h0M590.1 90.4h0M580.6 88.4h0M582.4 90.4h0M579.3 90.8h0M579.4 90.4h0M582.1 90.4h0" stroke="#2a2af0" stroke-width="1.70" stroke-linecap="round" stroke-opacity="0.65" fill="none"/><path d="M586.6 90.4h0M586.9 90.4h0M582.0 88.2h0M588.5 90.6h0M588.8 89.6h0M575.8 89.8h0M582.3 89.5h0M577.1 87.7h0M583.5 90.7h0M579.3 87.4h0M577.5 90.5h0M589.2 90.0h0M577.7 87.2h0M588.5 89.9h0M578.9 90.5h0M581.2 87.1h0M591.6 89.5h0M590.1 90.7h0M584.7 89.8h0M581.7 90.6h0M587.0 88.2h0M582.6 90.7h0M582.0 90.8h0M581.4 89.7h0M590.1 88.4h0M582.2 88.9h0M581.0 89.9h0M582.7 90.5h0M578.6 89.9h0M582.2 90.5h0M581.6 90.0h0M578.2 90.7h0M576.9 86.3h0M583.4 89.8h0M585.6 90.3h0M585.9 89.3h0M594.9 87.1h0M578.1 87.6h0M589.9 90.8h0M574.4 90.0h0M576.9 89.6h0M579.0 89.6h0M584.8 89.9h0M582.1 86.8h0M585.2 88.3h0M583.4 86.9h0M584.1 88.6h0M583.1 89.3h0M576.7 89.0h0M582.2 88.7h0" stroke="#2a2af0" stroke-width="1.70" stroke-linecap="round" stroke-opacity="0.65" fill="none"/><path d="M584.7 88.8h0M582.9 86.2h0M585.3 90.3h0M578.7 90.3h0M591.0 90.4h0M583.7 89.7h0M578.7 89.4h0M582.2 90.0h0M583.9 90.6h0M592.6 90.6h0M582.8 88.9h0M588.3 90.3h0M583.4 90.4h0M589.8 89.9h0M582.6 90.5h0M592.6 90.5h0M581.6 89.2h0M586.9 89.4h0M584.4 90.7h0M577.2 89.0h0M583.0 90.1h0M586.2 85.1h0M579.9 87.8h0M586.1 85.0h0M581.0 88.9h0M584.6 88.9h0M578.5 90.2h0M590.0 90.4h0M576.5 90.0h0M578.6 88.7h0M588.5 90.2h0M583.4 90.7h0M585.2 90.5h0M581.6 88.2h0M593.5 90.3h0M580.2 87.5h0M587.6 87.2h0M588.7 90.5h0M587.6 88.1h0M588.3 89.2h0M587.9 90.2h0M581.3 90.6h0M581.3 90.7h0M594.0 90.5h0M582.1 90.3h0M584.2 90.5h0M587.1 89.8h0M587.0 89.8h0M583.4 87.1h0M577.2 90.7h0" stroke="#2a2af0" stroke-width="1.70" stroke-linecap="round" stroke-opacity="0.65" fill="none"/><path d="M583.2 90.3h0M584.8 89.0h0M587.9 90.6h0M580.4 90.3h0M579.3 88.8h0M581.3 86.3h0M576.7 88.5h0M584.5 90.0h0M587.0 86.0h0M593.5 90.8h0M583.3 90.7h0M578.2 90.6h0M586.5 90.5h0M589.8 90.8h0M584.5 89.9h0M591.2 89.5h0M580.0 90.8h0M583.6 90.3h0M586.5 89.6h0M583.9 90.2h0M576.4 90.3h0M584.0 90.2h0M587.6 90.1h0M578.8 89.8h0M578.8 87.7h0M584.0 90.5h0M591.4 88.1h0M579.3 90.6h0M569.3 90.4h0M582.2 90.6h0M582.3 89.7h0M579.5 90.6h0M586.6 90.7h0M581.7 89.3h0M579.5 89.9h0M587.9 87.6h0M578.3 90.8h0M582.5 89.9h0M582.2 89.6h0M589.1 90.0h0M587.6 90.0h0M585.9 89.5h0M586.7 90.1h0M582.2 90.7h0M584.0 88.6h0M579.6 88.8h0M582.6 89.9h0M593.1 90.1h0M572.2 90.0h0M579.0 90.0h0" stroke="#2a2af0" stroke-width="1.70" stroke-linecap="round" stroke-opacity="0.65" fill="none"/><path d="M580.6 89.9h0M591.7 90.3h0M584.0 88.6h0M586.0 88.8h0M593.4 89.4h0M581.5 88.8h0M580.9 88.8h0M574.6 90.6h0M584.5 90.5h0M579.2 87.6h0M588.5 90.3h0M583.7 88.8h0M574.9 87.4h0M576.3 89.5h0M589.4 90.7h0M585.7 85.8h0M585.7 90.5h0M580.0 89.3h0M583.6 89.6h0M569.2 90.6h0M582.7 88.3h0M581.3 89.0h0M585.0 89.7h0M573.6 87.2h0M579.4 90.2h0M578.7 90.3h0M585.7 88.8h0M583.3 90.5h0M578.3 89.3h0M576.2 89.9h0M581.4 90.5h0M586.4 89.5h0M578.5 90.3h0M572.5 87.5h0M586.3 87.0h0M580.9 89.6h0M590.9 90.3h0M581.0 90.4h0M577.5 90.8h0M582.2 88.3h0M577.7 89.1h0M581.7 90.4h0M584.9 90.5h0M588.8 90.3h0M584.3 90.3h0M583.6 89.9h0M589.3 90.1h0M580.8 90.1h0M583.4 86.8h0M588.3 90.6h0" stroke="#2a2af0" stroke-width="1.70" stroke-linecap="round" stroke-opacity="0.65" fill="none"/><path d="M576.4 89.0h0M585.9 89.8h0M575.9 87.9h0M574.3 90.4h0M567.2 89.9h0M578.8 90.5h0M583.1 90.6h0M581.3 89.8h0M581.9 89.2h0M590.4 90.3h0M583.7 89.3h0M576.1 90.0h0M580.9 90.0h0M583.8 86.9h0M584.2 90.7h0M581.9 90.4h0M581.2 90.6h0M578.2 90.1h0M575.9 90.2h0M579.5 89.5h0M580.2 90.7h0M577.0 89.3h0M584.0 90.0h0M584.1 90.8h0M587.1 90.0h0M585.0 90.7h0M591.8 90.0h0M580.3 89.7h0M577.5 90.6h0M595.3 90.3h0M584.6 89.9h0M592.2 90.1h0M575.0 90.4h0M588.8 88.8h0M581.6 90.2h0M577.9 90.1h0M579.0 89.6h0M584.1 90.1h0M580.2 90.0h0M590.6 90.0h0M586.7 90.2h0M579.4 87.9h0M591.1 90.2h0M581.7 89.4h0M582.7 89.2h0M579.0 87.1h0M579.0 90.1h0M577.1 89.5h0M584.1 89.8h0M590.9 85.9h0" stroke="#2a2af0" stroke-width="1.70" stroke-linecap="round" stroke-opacity="0.65" fill="none"/>
<circle cx="609.8" cy="18.8" r="0.8" fill="#2525f0"/>
<circle cx="604" cy="32.3" r="0.8" fill="#2525f0"/>
<circle cx="618.5" cy="58.5" r="0.8" fill="#2525f0"/>
<circle cx="619.5" cy="70.5" r="0.8" fill="#f02525"/>
<circle cx="545.5" cy="49.5" r="0.8" fill="#2525f0"/>
<circle cx="538" cy="68" r="0.8" fill="#2525f0"/>
<circle cx="585.5" cy="42" r="0.8" fill="#f02525"/>
<circle cx="577" cy="52.5" r="0.8" fill="#2525f0"/>
<line x1="609.8" y1="18.8" x2="611.0" y2="21.400000000000002" stroke="#111" stroke-width="0.45"/>
<rect x="610.2" y="20.8" width="10" height="2.7" fill="#fafafa" stroke="#888" stroke-width="0.3"/>
<line x1="611.1" y1="22.150000000000002" x2="619.0" y2="22.150000000000002" stroke="#444" stroke-width="1.0" stroke-dasharray="0.9,0.3"/>
<line x1="604" y1="32.3" x2="603.8" y2="35.0" stroke="#111" stroke-width="0.45"/>
<rect x="603" y="34.4" width="10.3" height="2.7" fill="#fafafa" stroke="#888" stroke-width="0.3"/>
<line x1="603.9" y1="35.75" x2="612.0999999999999" y2="35.75" stroke="#444" stroke-width="1.0" stroke-dasharray="0.9,0.3"/>
<line x1="618.5" y1="58.5" x2="619.5" y2="61.0" stroke="#111" stroke-width="0.45"/>
<rect x="618.7" y="60.4" width="10.9" height="2.7" fill="#fafafa" stroke="#888" stroke-width="0.3"/>
<line x1="619.6" y1="61.75" x2="628.4" y2="61.75" stroke="#444" stroke-width="1.0" stroke-dasharray="0.9,0.3"/>
<line x1="567.6" y1="58.2" x2="569.0" y2="61.0" stroke="#111" stroke-width="0.45"/>
<rect x="568.2" y="60.4" width="8.7" height="2.7" fill="#fafafa" stroke="#888" stroke-width="0.3"/>
<line x1="569.1" y1="61.75" x2="575.7" y2="61.75" stroke="#444" stroke-width="1.0" stroke-dasharray="0.9,0.3"/>
<rect x="576.2" y="79.7" width="7.3" height="2.7" fill="#fafafa" stroke="#888" stroke-width="0.3"/>
<line x1="577.1" y1="81.05" x2="582.3" y2="81.05" stroke="#444" stroke-width="1.0" stroke-dasharray="0.9,0.3"/>
<rect x="588.3" y="81.3" width="6.9" height="2.7" fill="#fafafa" stroke="#888" stroke-width="0.3"/>
<line x1="589.1999999999999" y1="82.64999999999999" x2="593.9999999999999" y2="82.64999999999999" stroke="#444" stroke-width="1.0" stroke-dasharray="0.9,0.3"/>
<rect x="573.3" y="86" width="10.2" height="2.7" fill="#fafafa" stroke="#888" stroke-width="0.3"/>
<line x1="574.1999999999999" y1="87.35" x2="582.3" y2="87.35" stroke="#444" stroke-width="1.0" stroke-dasharray="0.9,0.3"/>
<rect x="587.9" y="88.9" width="10.2" height="2.7" fill="#fafafa" stroke="#888" stroke-width="0.3"/>
<line x1="588.8" y1="90.25" x2="596.9" y2="90.25" stroke="#444" stroke-width="1.0" stroke-dasharray="0.9,0.3"/>
<circle cx="643" cy="35.6" r="0.8" fill="#f02525"/>
<text x="650.20" y="36.80" font-size="3.7" fill="#111" stroke="#111" stroke-width="0.12" >GBM6</text>
<circle cx="643" cy="40.8" r="0.8" fill="#2525f0"/>
<text x="650.20" y="42.00" font-size="3.7" fill="#111" stroke="#111" stroke-width="0.12" >GBM6R</text>
<circle cx="643" cy="49.7" r="0.7" fill="none" stroke="#888" stroke-width="0.3"/>
<text x="650.20" y="50.90" font-size="3.7" fill="#111" stroke="#111" stroke-width="0.12" >n.s.</text>
<circle cx="643" cy="55.4" r="0.7" fill="none" stroke="#888" stroke-width="0.3"/>
<text x="650.20" y="56.60" font-size="3.7" fill="#111" stroke="#111" stroke-width="0.12" >Log2FC</text>
<circle cx="643" cy="61.3" r="0.7" fill="none" stroke="#888" stroke-width="0.3"/>
<text x="650.20" y="62.50" font-size="3.7" fill="#111" stroke="#111" stroke-width="0.12" >P</text>
<circle cx="643" cy="67.1" r="0.7" fill="none" stroke="#888" stroke-width="0.3"/>
<text x="650.20" y="68.30" font-size="3.7" fill="#111" stroke="#111" stroke-width="0.12" >P &amp; Log2FC</text>
<path d="M42.9 184 L238.7 184 L238.7 149.2 L308.4 218.7 L238.7 288.3 L238.7 253.6 L42.9 253.6 Z" fill="#d3deee"/>
<rect x="51.8" y="191.2" width="65.2" height="55.2" rx="7" fill="#65a0d6" stroke="#e8eef8" stroke-width="0.6"/>
<text x="84.40" y="207.00" font-size="8.6" fill="#fff" text-anchor="middle" textLength="39" lengthAdjust="spacingAndGlyphs" >TweeDEseq</text>
<text x="84.40" y="216.70" font-size="8.6" fill="#fff" text-anchor="middle" textLength="40.5" lengthAdjust="spacingAndGlyphs" >Differential</text>
<text x="84.40" y="226.20" font-size="8.6" fill="#fff" text-anchor="middle" textLength="39.5" lengthAdjust="spacingAndGlyphs" >expression</text>
<text x="84.40" y="235.60" font-size="8.6" fill="#fff" text-anchor="middle" textLength="31" lengthAdjust="spacingAndGlyphs" >analysis</text>
<rect x="129.7" y="192.2" width="65.2" height="26.8" rx="4" fill="#65a0d6" stroke="#e8eef8" stroke-width="0.6"/>
<text x="162.30" y="204.40" font-size="6.5" fill="#fff" text-anchor="middle" textLength="57.4" lengthAdjust="spacingAndGlyphs" >Pass p&lt;.05 in GBM6</text>
<text x="162.30" y="212.20" font-size="6.5" fill="#fff" text-anchor="middle" textLength="16" lengthAdjust="spacingAndGlyphs" >(801)</text>
<rect x="129.7" y="222.4" width="64.6" height="26.3" rx="4" fill="#65a0d6" stroke="#e8eef8" stroke-width="0.6"/>
<text x="162.00" y="233.50" font-size="6.5" fill="#fff" text-anchor="middle" textLength="40" lengthAdjust="spacingAndGlyphs" >Pass p&lt;.05 in</text>
<text x="162.00" y="241.20" font-size="6.5" fill="#fff" text-anchor="middle" textLength="37" lengthAdjust="spacingAndGlyphs" >GBM6R (453)</text>
<rect x="202.7" y="202.4" width="37.1" height="33.9" rx="4" fill="#65a0d6" stroke="#e8eef8" stroke-width="0.6"/>
<text x="221.25" y="218.20" font-size="6.5" fill="#fff" text-anchor="middle" textLength="27.7" lengthAdjust="spacingAndGlyphs" >Pass both</text>
<text x="221.25" y="226.00" font-size="6.5" fill="#fff" text-anchor="middle" textLength="11.5" lengthAdjust="spacingAndGlyphs" >(30)</text>
<rect x="247.6" y="202.4" width="37.4" height="33.9" rx="4" fill="#65a0d6" stroke="#e8eef8" stroke-width="0.6"/>
<text x="266.30" y="214.20" font-size="6.5" fill="#fff" text-anchor="middle" textLength="19.5" lengthAdjust="spacingAndGlyphs" >Log2fc</text>
<text x="266.30" y="222.00" font-size="6.5" fill="#fff" text-anchor="middle" textLength="29" lengthAdjust="spacingAndGlyphs" >difference</text>
<text x="266.30" y="229.80" font-size="6.5" fill="#fff" text-anchor="middle" textLength="27" lengthAdjust="spacingAndGlyphs" >&gt;±1 (13)</text>
<rect x="311.1" y="154.0" width="34.7" height="129.48000000000002" fill="#fff" stroke="#333" stroke-width="0.6"/>
<text x="313.70" y="161.10" font-size="6.0" fill="#111" stroke="#111" stroke-width="0.1" >ALDOA</text>
<line x1="311.1" y1="163.96" x2="345.8" y2="163.96" stroke="#555" stroke-width="0.5"/>
<text x="313.70" y="171.06" font-size="6.0" fill="#111" stroke="#111" stroke-width="0.1" >MIF</text>
<line x1="311.1" y1="173.92" x2="345.8" y2="173.92" stroke="#555" stroke-width="0.5"/>
<text x="313.70" y="181.02" font-size="6.0" fill="#111" stroke="#111" stroke-width="0.1" >TPI1</text>
<line x1="311.1" y1="183.88" x2="345.8" y2="183.88" stroke="#555" stroke-width="0.5"/>
<text x="313.70" y="190.98" font-size="6.0" fill="#111" stroke="#111" stroke-width="0.1" >DPYSL2</text>
<line x1="311.1" y1="193.84" x2="345.8" y2="193.84" stroke="#555" stroke-width="0.5"/>
<text x="313.70" y="200.94" font-size="6.0" fill="#111" stroke="#111" stroke-width="0.1" >DPYSL3</text>
<line x1="311.1" y1="203.80" x2="345.8" y2="203.80" stroke="#555" stroke-width="0.5"/>
<text x="313.70" y="210.90" font-size="6.0" fill="#111" stroke="#111" stroke-width="0.1" >PFN1</text>
<line x1="311.1" y1="213.76" x2="345.8" y2="213.76" stroke="#555" stroke-width="0.5"/>
<text x="313.70" y="220.86" font-size="6.0" fill="#111" stroke="#111" stroke-width="0.1" >MYH9</text>
<line x1="311.1" y1="223.72" x2="345.8" y2="223.72" stroke="#555" stroke-width="0.5"/>
<text x="313.70" y="230.82" font-size="6.0" fill="#111" stroke="#111" stroke-width="0.1" >FLNB</text>
<line x1="311.1" y1="233.68" x2="345.8" y2="233.68" stroke="#555" stroke-width="0.5"/>
<text x="313.70" y="240.78" font-size="6.0" fill="#111" stroke="#111" stroke-width="0.1" >PELP1</text>
<line x1="311.1" y1="243.64" x2="345.8" y2="243.64" stroke="#555" stroke-width="0.5"/>
<text x="313.70" y="250.74" font-size="6.0" fill="#111" stroke="#111" stroke-width="0.1" >PRKDC</text>
<line x1="311.1" y1="253.60" x2="345.8" y2="253.60" stroke="#555" stroke-width="0.5"/>
<text x="313.70" y="260.70" font-size="6.0" fill="#111" stroke="#111" stroke-width="0.1" >LMNA</text>
<line x1="311.1" y1="263.56" x2="345.8" y2="263.56" stroke="#555" stroke-width="0.5"/>
<text x="313.70" y="270.66" font-size="6.0" fill="#111" stroke="#111" stroke-width="0.1" >HSD17B4</text>
<line x1="311.1" y1="273.52" x2="345.8" y2="273.52" stroke="#555" stroke-width="0.5"/>
<text x="313.70" y="280.62" font-size="6.0" fill="#111" stroke="#111" stroke-width="0.1" >ACAA1</text>
<rect x="520.2" y="154.0" width="107.79999999999995" height="118.69999999999999" fill="#ebebeb"/>
<line x1="523.3" y1="154.0" x2="523.3" y2="272.7" stroke="#fff" stroke-width="0.6"/>
<line x1="557.3" y1="154.0" x2="557.3" y2="272.7" stroke="#fff" stroke-width="0.6"/>
<line x1="591.2" y1="154.0" x2="591.2" y2="272.7" stroke="#fff" stroke-width="0.6"/>
<line x1="625.5" y1="154.0" x2="625.5" y2="272.7" stroke="#fff" stroke-width="0.6"/>
<line x1="540.3" y1="154.0" x2="540.3" y2="272.7" stroke="#fff" stroke-width="0.3"/>
<line x1="574.3" y1="154.0" x2="574.3" y2="272.7" stroke="#fff" stroke-width="0.3"/>
<line x1="608.4" y1="154.0" x2="608.4" y2="272.7" stroke="#fff" stroke-width="0.3"/>
<line x1="523.3" y1="159.2" x2="623.4" y2="159.2" stroke="#9b30f0" stroke-width="1.3"/>
<circle cx="623.4" cy="159.2" r="0.5" fill="#9b30f0"/>
<line x1="515.8" y1="159.2" x2="518.4" y2="159.2" stroke="#333" stroke-width="0.6"/>
<text x="512.80" y="162.30" font-size="8.9" fill="#444" text-anchor="end" >Non-homologous end-joining</text>
<line x1="523.3" y1="167.5" x2="619.3" y2="167.5" stroke="#f02a3a" stroke-width="1.3"/>
<circle cx="619.3" cy="167.5" r="3.2" fill="#f02a3a"/>
<line x1="515.8" y1="167.5" x2="518.4" y2="167.5" stroke="#333" stroke-width="0.6"/>
<text x="512.80" y="170.58" font-size="8.9" fill="#444" text-anchor="end" >Biosynthesis of unsaturated fatty acids</text>
<line x1="523.3" y1="175.8" x2="601.6" y2="175.8" stroke="#f02a3a" stroke-width="1.3"/>
<circle cx="601.6" cy="175.8" r="3.2" fill="#f02a3a"/>
<line x1="515.8" y1="175.8" x2="518.4" y2="175.8" stroke="#333" stroke-width="0.6"/>
<text x="512.80" y="178.86" font-size="8.9" fill="#444" text-anchor="end" >Fructose and mannose metabolism</text>
<line x1="523.3" y1="184.0" x2="600.3" y2="184.0" stroke="#9b30f0" stroke-width="1.3"/>
<circle cx="600.3" cy="184.0" r="0.5" fill="#9b30f0"/>
<line x1="515.8" y1="184.0" x2="518.4" y2="184.0" stroke="#333" stroke-width="0.6"/>
<text x="512.80" y="187.14" font-size="8.9" fill="#444" text-anchor="end" >Primary bile acid biosynthesis</text>
<line x1="523.3" y1="192.3" x2="573.7" y2="192.3" stroke="#3a1cf5" stroke-width="1.3"/>
<circle cx="573.7" cy="192.3" r="0.5" fill="#3a1cf5"/>
<line x1="515.8" y1="192.3" x2="518.4" y2="192.3" stroke="#333" stroke-width="0.6"/>
<text x="512.80" y="195.42" font-size="8.9" fill="#444" text-anchor="end" >Alpha-Linolenic acid metabolism</text>
<line x1="523.3" y1="200.6" x2="568.9" y2="200.6" stroke="#e8305a" stroke-width="1.3"/>
<circle cx="568.9" cy="200.6" r="3.2" fill="#e8305a"/>
<line x1="515.8" y1="200.6" x2="518.4" y2="200.6" stroke="#333" stroke-width="0.6"/>
<text x="512.80" y="203.70" font-size="8.9" fill="#444" text-anchor="end" >Fatty acid metabolism</text>
<line x1="523.3" y1="208.9" x2="566.9" y2="208.9" stroke="#3a1cf5" stroke-width="1.3"/>
<circle cx="566.9" cy="208.9" r="0.5" fill="#3a1cf5"/>
<line x1="515.8" y1="208.9" x2="518.4" y2="208.9" stroke="#333" stroke-width="0.6"/>
<text x="512.80" y="211.98" font-size="8.9" fill="#444" text-anchor="end" >Pentose phosphate pathway</text>
<line x1="523.3" y1="217.2" x2="562.1" y2="217.2" stroke="#e0325f" stroke-width="1.3"/>
<circle cx="562.1" cy="217.2" r="3.2" fill="#e0325f"/>
<line x1="515.8" y1="217.2" x2="518.4" y2="217.2" stroke="#333" stroke-width="0.6"/>
<text x="512.80" y="220.26" font-size="8.9" fill="#444" text-anchor="end" >Glycolysis/Gluconeogenesis</text>
<line x1="523.3" y1="225.4" x2="558.0" y2="225.4" stroke="#e0325f" stroke-width="1.3"/>
<circle cx="558.0" cy="225.4" r="3.2" fill="#e0325f"/>
<line x1="515.8" y1="225.4" x2="518.4" y2="225.4" stroke="#333" stroke-width="0.6"/>
<text x="512.80" y="228.54" font-size="8.9" fill="#444" text-anchor="end" >Biosynthesis of amino acids</text>
<line x1="523.3" y1="233.7" x2="554.6" y2="233.7" stroke="#e8305a" stroke-width="1.3"/>
<circle cx="554.6" cy="233.7" r="3.2" fill="#e8305a"/>
<line x1="515.8" y1="233.7" x2="518.4" y2="233.7" stroke="#333" stroke-width="0.6"/>
<text x="512.80" y="236.82" font-size="8.9" fill="#444" text-anchor="end" >Peroxisome</text>
<line x1="523.3" y1="242.0" x2="545.8" y2="242.0" stroke="#c83292" stroke-width="1.3"/>
<circle cx="545.8" cy="242.0" r="3.2" fill="#c83292"/>
<line x1="515.8" y1="242.0" x2="518.4" y2="242.0" stroke="#333" stroke-width="0.6"/>
<text x="512.80" y="245.10" font-size="8.9" fill="#444" text-anchor="end" >Carbon metabolism</text>
<line x1="523.3" y1="250.3" x2="535.6" y2="250.3" stroke="#9b30f0" stroke-width="1.3"/>
<circle cx="535.6" cy="250.3" r="3.2" fill="#9b30f0"/>
<line x1="515.8" y1="250.3" x2="518.4" y2="250.3" stroke="#333" stroke-width="0.6"/>
<text x="512.80" y="253.38" font-size="8.9" fill="#444" text-anchor="end" >Reg. of actin cytoskeleton</text>
<line x1="523.3" y1="258.6" x2="533.5" y2="258.6" stroke="#9b30f0" stroke-width="1.3"/>
<circle cx="533.5" cy="258.6" r="3.2" fill="#9b30f0"/>
<line x1="515.8" y1="258.6" x2="518.4" y2="258.6" stroke="#333" stroke-width="0.6"/>
<text x="512.80" y="261.66" font-size="8.9" fill="#444" text-anchor="end" >Salmonella infection</text>
<line x1="523.3" y1="266.8" x2="526.7" y2="266.8" stroke="#9b1ef0" stroke-width="1.3"/>
<circle cx="526.7" cy="266.8" r="4.5" fill="#9b1ef0"/>
<line x1="515.8" y1="266.8" x2="518.4" y2="266.8" stroke="#333" stroke-width="0.6"/>
<text x="512.80" y="269.94" font-size="8.9" fill="#444" text-anchor="end" >Metabolic pathways</text>
<line x1="523.3" y1="272.7" x2="523.3" y2="274.7" stroke="#333" stroke-width="0.6"/>
<text x="523.30" y="283.40" font-size="8" fill="#444" text-anchor="middle" >0</text>
<line x1="557.3" y1="272.7" x2="557.3" y2="274.7" stroke="#333" stroke-width="0.6"/>
<text x="557.30" y="283.40" font-size="8" fill="#444" text-anchor="middle" >50</text>
<line x1="591.2" y1="272.7" x2="591.2" y2="274.7" stroke="#333" stroke-width="0.6"/>
<text x="591.20" y="283.40" font-size="8" fill="#444" text-anchor="middle" >100</text>
<line x1="625.5" y1="272.7" x2="625.5" y2="274.7" stroke="#333" stroke-width="0.6"/>
<text x="625.50" y="283.40" font-size="8" fill="#444" text-anchor="middle" >150</text>
<text x="573.40" y="293.70" font-size="7.1" fill="#222" text-anchor="middle" textLength="51" lengthAdjust="spacingAndGlyphs" >Fold Enrichment</text>
<text x="645.40" y="155.40" font-size="7.0" fill="#222" textLength="38.3" lengthAdjust="spacingAndGlyphs" >N. of Genes</text>
<rect x="645.4" y="159.8" width="11.6" height="41.9" fill="#f2f2f2"/>
<circle cx="651.5" cy="164.2" r="0.8" fill="#000"/>
<text x="661.30" y="166.70" font-size="7.0" fill="#222" >1</text>
<circle cx="651.5" cy="174.9" r="2.8" fill="#000"/>
<text x="661.30" y="177.40" font-size="7.0" fill="#222" >2</text>
<circle cx="651.5" cy="185.1" r="3.8" fill="#000"/>
<text x="661.30" y="187.60" font-size="7.0" fill="#222" >3</text>
<circle cx="651.5" cy="196.1" r="4.8" fill="#000"/>
<text x="661.30" y="198.60" font-size="7.0" fill="#222" >4</text>
<text x="645.40" y="231.70" font-size="7.0" fill="#222" textLength="39" lengthAdjust="spacingAndGlyphs" >-log10(FDR)</text>
<rect x="648" y="237.9" width="7.2" height="6.8" fill="#4a14ff"/>
<text x="660.50" y="243.80" font-size="7.0" fill="#222" >1.5</text>
<rect x="648" y="247.79999999999998" width="7.2" height="6.8" fill="#a432e0"/>
<text x="660.50" y="253.70" font-size="7.0" fill="#222" >1.8</text>
<rect x="648" y="258.1" width="7.2" height="6.8" fill="#cc2e96"/>
<text x="660.50" y="264.00" font-size="7.0" fill="#222" >2.1</text>
<rect x="648" y="268.1" width="7.2" height="6.8" fill="#f02a48"/>
<text x="660.50" y="274.00" font-size="7.0" fill="#222" >2.4</text>
<rect x="67.4" y="327.4" width="163.9" height="125.30000000000001" fill="#fff"/>
<line x1="67.4" y1="425.2" x2="231.3" y2="425.2" stroke="#f0f0f0" stroke-width="0.5"/>
<line x1="67.4" y1="392.2" x2="231.3" y2="392.2" stroke="#f0f0f0" stroke-width="0.5"/>
<line x1="67.4" y1="359.4" x2="231.3" y2="359.4" stroke="#f0f0f0" stroke-width="0.5"/>
<line x1="67.4" y1="441.6" x2="231.3" y2="441.6" stroke="#e2e2e2" stroke-width="0.7"/>
<line x1="67.4" y1="408.7" x2="231.3" y2="408.7" stroke="#e2e2e2" stroke-width="0.7"/>
<line x1="67.4" y1="375.8" x2="231.3" y2="375.8" stroke="#e2e2e2" stroke-width="0.7"/>
<line x1="67.4" y1="342.9" x2="231.3" y2="342.9" stroke="#e2e2e2" stroke-width="0.7"/>
<line x1="97.6" y1="327.4" x2="97.6" y2="452.7" stroke="#e2e2e2" stroke-width="0.7"/>
<line x1="148.5" y1="327.4" x2="148.5" y2="452.7" stroke="#e2e2e2" stroke-width="0.7"/>
<line x1="199.3" y1="327.4" x2="199.3" y2="452.7" stroke="#e2e2e2" stroke-width="0.7"/>
<line x1="97.6" y1="346.5" x2="97.6" y2="443.2" stroke="#333" stroke-width="0.6"/>
<rect x="78.3" y="362.1" width="38.6" height="22.4" fill="#fff" stroke="#333" stroke-width="0.6"/>
<line x1="78.3" y1="368.7" x2="116.89999999999999" y2="368.7" stroke="#222" stroke-width="1.0"/>
<line x1="148.5" y1="337.0" x2="148.5" y2="441.6" stroke="#333" stroke-width="0.6"/>
<rect x="129.5" y="359.5" width="38.0" height="35.9" fill="#fff" stroke="#333" stroke-width="0.6"/>
<line x1="129.5" y1="368.2" x2="167.5" y2="368.2" stroke="#222" stroke-width="1.0"/>
<line x1="199.3" y1="333.0" x2="199.3" y2="428.9" stroke="#333" stroke-width="0.6"/>
<rect x="179.95000000000002" y="355.1" width="38.7" height="28.0" fill="#fff" stroke="#333" stroke-width="0.6"/>
<line x1="179.95000000000002" y1="363.5" x2="218.65" y2="363.5" stroke="#222" stroke-width="1.0"/>
<path d="M194.4 362.7h0M149.2 391.8h0M146.8 363.9h0M155.6 403.3h0M158.0 423.9h0M90.0 380.8h0M200.2 363.3h0M139.1 362.7h0M193.6 345.6h0M205.7 350.4h0M210.7 349.0h0M136.1 386.2h0M89.0 380.7h0M193.4 370.2h0M158.5 415.6h0M152.7 390.8h0M156.8 385.6h0M208.8 350.1h0M198.6 407.6h0M84.9 368.6h0" stroke="#1c1c1c" stroke-width="2.50" stroke-linecap="round" stroke-opacity="0.62" fill="none"/><path d="M207.6 414.4h0M135.6 362.2h0M153.8 383.2h0M193.5 378.2h0M161.4 393.0h0M92.8 353.8h0M196.5 408.3h0M101.8 357.5h0M142.6 363.7h0M203.8 335.8h0M203.1 399.0h0M145.6 409.0h0M155.3 370.6h0M200.0 365.0h0M142.7 350.0h0M154.2 399.2h0M103.1 422.5h0M95.5 367.3h0M98.6 355.3h0M185.9 366.1h0" stroke="#1c1c1c" stroke-width="2.50" stroke-linecap="round" stroke-opacity="0.62" fill="none"/><path d="M105.6 375.9h0M206.9 365.1h0M87.0 358.9h0M143.3 346.1h0M146.8 357.6h0M84.8 358.8h0M189.2 380.3h0M203.3 349.4h0M161.9 366.5h0M88.7 377.0h0M106.0 371.7h0M197.6 360.1h0M188.7 346.1h0M187.5 370.5h0M152.8 363.2h0M98.2 366.2h0M207.7 381.5h0M98.7 423.2h0M208.3 374.4h0M206.7 356.7h0" stroke="#1c1c1c" stroke-width="2.50" stroke-linecap="round" stroke-opacity="0.62" fill="none"/><path d="M100.7 376.9h0M95.2 378.0h0M197.5 360.1h0M104.8 426.4h0M158.4 361.8h0M201.8 427.5h0M109.7 351.2h0M193.0 362.4h0M206.7 362.2h0M85.8 363.7h0M84.0 428.2h0M207.7 344.0h0M139.3 363.6h0M202.0 348.8h0M137.3 395.3h0M191.6 415.0h0M194.9 419.1h0M204.0 355.4h0M144.9 346.3h0M202.8 370.8h0" stroke="#1c1c1c" stroke-width="2.50" stroke-linecap="round" stroke-opacity="0.62" fill="none"/><path d="M199.5 365.1h0M155.6 373.3h0M97.3 351.6h0M149.7 393.3h0M101.7 354.7h0M203.6 356.7h0M146.2 377.0h0M209.0 424.7h0M147.6 356.7h0M208.3 395.6h0M188.9 382.2h0M160.9 368.4h0M159.3 423.8h0M147.3 385.5h0M191.6 367.1h0M209.8 349.6h0M188.4 433.0h0M212.6 373.3h0M207.0 402.5h0M98.3 362.4h0" stroke="#1c1c1c" stroke-width="2.50" stroke-linecap="round" stroke-opacity="0.62" fill="none"/><path d="M137.8 349.1h0M149.9 367.6h0M138.5 344.3h0M206.0 356.9h0M156.2 363.7h0M99.8 365.5h0M194.3 355.7h0M146.8 370.3h0M105.1 359.1h0M94.0 384.4h0M145.7 374.7h0M187.4 357.2h0M147.6 357.2h0M208.0 343.6h0M139.0 416.0h0M195.8 362.3h0M93.8 362.2h0M147.7 362.7h0M194.3 360.3h0M154.6 361.2h0" stroke="#1c1c1c" stroke-width="2.50" stroke-linecap="round" stroke-opacity="0.62" fill="none"/><path d="M150.9 387.9h0M91.8 363.9h0M161.9 398.0h0M104.2 375.9h0M137.2 369.9h0M207.2 393.5h0M92.9 368.5h0M155.8 370.7h0M101.3 361.4h0M185.9 415.6h0M157.1 353.6h0M155.5 350.2h0M210.1 361.4h0M138.5 358.7h0M205.6 434.6h0M205.9 430.2h0M94.6 434.1h0M91.4 380.8h0M203.7 411.3h0M107.1 361.2h0" stroke="#1c1c1c" stroke-width="2.50" stroke-linecap="round" stroke-opacity="0.62" fill="none"/><path d="M144.6 365.5h0M156.3 408.8h0M205.2 366.4h0M205.4 430.2h0M143.1 365.1h0M212.0 413.4h0M212.9 357.3h0M209.1 358.5h0M110.3 363.3h0M195.6 377.6h0M158.6 397.0h0M149.4 366.9h0M144.0 384.6h0M135.0 381.9h0M161.5 408.1h0M96.4 400.7h0M187.3 359.1h0M92.0 384.1h0M138.8 407.1h0M195.9 361.3h0" stroke="#1c1c1c" stroke-width="2.50" stroke-linecap="round" stroke-opacity="0.62" fill="none"/><path d="M147.2 367.4h0M190.7 360.2h0M186.1 362.6h0M211.1 377.6h0M198.5 334.6h0M196.1 344.2h0M93.8 418.5h0M160.8 350.8h0M144.1 357.5h0M102.2 405.4h0M136.8 371.6h0M89.6 351.7h0M201.3 381.2h0M86.9 365.6h0M138.4 345.6h0M201.3 341.9h0M101.7 395.3h0M141.3 340.1h0M206.2 342.3h0M197.6 341.6h0" stroke="#1c1c1c" stroke-width="2.50" stroke-linecap="round" stroke-opacity="0.62" fill="none"/><path d="M141.7 346.3h0M151.8 388.9h0M151.5 364.9h0M203.1 349.5h0M92.0 438.8h0M199.0 348.7h0M97.4 358.8h0M90.5 361.6h0M138.5 377.9h0M199.2 394.2h0M84.4 380.5h0M151.5 355.4h0M137.4 418.1h0M151.7 409.6h0M186.9 420.9h0M96.2 366.1h0M207.6 399.1h0M89.0 379.1h0M207.4 351.8h0M100.0 355.8h0" stroke="#1c1c1c" stroke-width="2.50" stroke-linecap="round" stroke-opacity="0.62" fill="none"/><path d="M158.0 385.4h0M210.8 372.1h0M198.1 379.8h0M111.2 371.8h0M102.5 378.6h0M135.8 357.1h0M102.1 365.4h0M204.3 373.6h0M147.3 392.0h0M94.5 421.5h0M198.6 386.9h0M136.0 422.8h0M86.4 385.5h0M147.6 373.9h0M140.3 361.5h0M204.5 362.6h0M198.1 363.0h0M85.0 379.5h0M100.0 354.6h0M209.6 368.5h0" stroke="#1c1c1c" stroke-width="2.50" stroke-linecap="round" stroke-opacity="0.62" fill="none"/><path d="M193.7 367.1h0M196.7 347.8h0M151.9 413.5h0M141.7 365.2h0M185.9 348.9h0M93.1 357.4h0M161.1 354.4h0M90.8 351.7h0M92.0 359.6h0M147.6 362.5h0M194.3 350.4h0M150.7 355.5h0M103.0 367.7h0M139.5 411.2h0M209.3 346.2h0M209.5 366.3h0M160.3 352.1h0M206.7 378.0h0M93.9 443.1h0M84.6 365.9h0" stroke="#1c1c1c" stroke-width="2.50" stroke-linecap="round" stroke-opacity="0.62" fill="none"/><path d="M202.3 340.7h0M86.8 353.3h0M191.8 388.5h0M192.4 369.9h0M206.4 347.4h0M160.4 360.2h0M148.8 414.7h0M95.5 360.8h0M199.1 355.5h0M106.7 365.6h0M206.5 397.7h0M88.1 363.5h0M141.2 360.9h0M210.9 374.9h0M161.5 348.6h0M156.1 360.5h0M88.4 355.1h0M138.7 410.9h0M186.7 366.6h0M85.4 363.5h0" stroke="#1c1c1c" stroke-width="2.50" stroke-linecap="round" stroke-opacity="0.62" fill="none"/><path d="M144.9 390.9h0M89.7 378.3h0M109.3 378.4h0M199.3 367.1h0M147.8 356.3h0M199.9 334.7h0M200.4 373.1h0M211.9 399.3h0M102.5 432.3h0M140.6 389.5h0M149.7 348.8h0M196.3 354.0h0M135.6 413.1h0M147.0 346.6h0M104.7 347.6h0M105.9 356.7h0M86.0 363.8h0M202.0 361.6h0M94.2 375.6h0M101.5 376.6h0" stroke="#1c1c1c" stroke-width="2.50" stroke-linecap="round" stroke-opacity="0.62" fill="none"/><path d="M94.1 355.9h0M87.1 377.9h0M146.4 392.5h0M159.8 400.8h0M196.1 389.0h0M191.1 361.6h0M157.3 349.1h0M144.3 354.4h0M102.7 418.3h0M152.5 377.9h0M144.9 353.0h0M86.3 368.6h0M141.4 363.1h0M161.2 361.7h0M202.2 383.1h0M155.7 409.2h0M92.3 351.4h0M99.9 381.7h0M195.7 360.9h0M203.7 408.3h0" stroke="#1c1c1c" stroke-width="2.50" stroke-linecap="round" stroke-opacity="0.62" fill="none"/><path d="M205.7 343.3h0M159.3 399.5h0M152.7 361.8h0M90.0 384.3h0M205.1 415.8h0M205.7 340.3h0M203.7 351.8h0M101.8 376.9h0M193.4 402.0h0M108.9 365.0h0M197.6 380.5h0M201.1 340.2h0M156.3 353.3h0M207.3 366.8h0M154.7 362.2h0M189.1 366.5h0M194.7 353.0h0M144.6 352.9h0M105.0 387.4h0M98.0 416.2h0" stroke="#1c1c1c" stroke-width="2.50" stroke-linecap="round" stroke-opacity="0.62" fill="none"/><path d="M141.3 365.4h0M106.6 365.7h0M147.4 347.9h0M188.6 407.8h0M150.2 393.7h0M201.2 380.8h0M188.0 336.5h0M212.0 343.8h0M194.4 367.3h0M146.7 405.9h0M144.7 395.6h0M140.8 423.9h0M107.6 407.1h0M156.5 348.7h0M195.5 346.8h0M111.1 360.9h0M156.6 393.2h0M185.6 356.2h0M142.3 361.0h0M94.7 367.6h0" stroke="#1c1c1c" stroke-width="2.50" stroke-linecap="round" stroke-opacity="0.62" fill="none"/><path d="M137.7 359.1h0M210.0 367.9h0M149.1 364.0h0M185.8 430.2h0M155.7 420.8h0M103.9 359.4h0M154.2 384.3h0M93.2 360.7h0M161.3 378.7h0M153.1 376.1h0M161.8 435.8h0M200.1 353.0h0M208.6 359.3h0M97.6 429.6h0M97.6 362.8h0M202.3 373.3h0M193.3 428.9h0M202.5 418.3h0M89.5 437.9h0M138.9 376.5h0" stroke="#1c1c1c" stroke-width="2.50" stroke-linecap="round" stroke-opacity="0.62" fill="none"/><path d="M208.0 381.4h0M158.6 381.6h0M198.0 391.9h0M187.8 373.5h0M149.4 412.9h0M203.6 356.3h0M208.3 370.2h0M140.8 360.6h0M147.4 389.2h0M189.8 401.9h0M102.1 384.0h0M101.3 436.2h0M110.7 398.0h0M147.8 431.8h0M200.8 356.8h0M102.6 366.5h0M204.0 349.7h0M194.4 335.0h0M150.4 353.5h0M97.5 354.4h0" stroke="#1c1c1c" stroke-width="2.50" stroke-linecap="round" stroke-opacity="0.62" fill="none"/><path d="M157.4 406.0h0M150.1 364.5h0M199.2 369.3h0M87.3 369.1h0M199.8 356.9h0M189.7 337.6h0M105.5 360.1h0M198.2 369.6h0M106.7 364.9h0M193.5 334.7h0M188.0 368.8h0M138.1 353.2h0M136.8 418.2h0M101.5 430.6h0M146.6 375.8h0M90.2 380.6h0M148.4 381.0h0M199.1 394.8h0M143.2 357.0h0M110.5 359.5h0" stroke="#1c1c1c" stroke-width="2.50" stroke-linecap="round" stroke-opacity="0.62" fill="none"/><path d="M195.8 359.3h0M198.1 349.8h0M211.4 430.6h0M194.2 358.5h0M137.6 427.8h0M157.2 363.5h0M195.2 362.8h0M136.9 390.7h0M142.5 363.7h0M198.6 372.3h0M135.0 379.5h0M108.1 374.4h0M212.3 424.3h0M96.1 379.0h0M149.6 438.1h0M101.3 360.9h0M150.2 359.5h0M159.3 430.0h0M145.4 358.8h0M202.4 376.2h0" stroke="#1c1c1c" stroke-width="2.50" stroke-linecap="round" stroke-opacity="0.62" fill="none"/><path d="M148.1 367.9h0M95.0 347.6h0M190.3 382.1h0M102.8 421.7h0M87.8 364.6h0M189.4 362.2h0M195.9 339.3h0M212.3 360.4h0M95.5 367.2h0M106.3 372.4h0M104.6 425.5h0M212.2 356.3h0M103.3 405.1h0M97.6 374.9h0M194.7 423.3h0M207.0 380.2h0M187.7 392.3h0M210.8 397.3h0M188.1 341.4h0M135.8 356.8h0" stroke="#1c1c1c" stroke-width="2.50" stroke-linecap="round" stroke-opacity="0.62" fill="none"/><path d="M157.1 395.9h0M194.8 389.2h0M101.7 372.1h0M157.9 354.3h0M198.0 373.6h0M206.1 367.4h0M152.8 364.2h0M84.9 376.6h0M108.4 380.9h0M196.8 361.0h0M95.7 374.6h0M137.0 363.2h0M201.2 347.2h0M97.3 367.4h0M200.4 371.6h0M201.6 401.1h0M193.9 344.1h0M93.6 368.9h0M156.9 359.7h0M93.5 366.6h0" stroke="#1c1c1c" stroke-width="2.50" stroke-linecap="round" stroke-opacity="0.62" fill="none"/><path d="M91.2 357.1h0M90.6 368.7h0M137.3 377.3h0M148.2 366.5h0M203.8 359.0h0M140.5 362.2h0M105.2 398.1h0M156.4 360.0h0M212.1 371.9h0M144.3 343.9h0M155.0 402.7h0M196.0 417.7h0M107.1 397.8h0M188.8 356.9h0M191.9 357.0h0M99.1 362.3h0M154.2 394.6h0M158.2 362.9h0M97.4 351.8h0M148.8 364.8h0" stroke="#1c1c1c" stroke-width="2.50" stroke-linecap="round" stroke-opacity="0.62" fill="none"/><path d="M159.4 402.9h0M201.4 370.0h0M196.5 349.0h0M138.5 365.9h0M137.2 365.7h0M186.7 410.7h0M211.1 357.6h0M136.2 354.6h0M161.4 390.1h0M100.7 362.7h0M161.0 385.0h0M186.1 357.0h0M159.9 365.2h0M160.5 408.9h0M207.6 347.9h0M98.2 368.3h0M192.4 400.5h0M144.1 369.8h0M198.9 391.1h0M110.7 386.6h0" stroke="#1c1c1c" stroke-width="2.50" stroke-linecap="round" stroke-opacity="0.62" fill="none"/><path d="M94.6 381.5h0M142.2 367.2h0M145.7 346.5h0M197.5 392.8h0M92.9 366.1h0M98.5 350.1h0M196.0 357.1h0M189.3 341.6h0M194.8 406.8h0M146.2 403.4h0M153.8 388.6h0M145.5 343.8h0M97.9 370.0h0M142.8 363.3h0M193.4 416.5h0M87.9 351.6h0M101.1 392.7h0M186.2 374.0h0M196.1 358.9h0M135.5 361.5h0" stroke="#1c1c1c" stroke-width="2.50" stroke-linecap="round" stroke-opacity="0.62" fill="none"/><path d="M97.1 362.3h0M144.3 390.1h0M211.3 374.6h0M193.1 370.2h0M157.5 402.5h0M88.9 369.6h0M194.0 356.4h0M105.2 347.3h0M144.7 344.7h0M150.3 366.5h0M99.8 382.0h0M201.4 363.1h0M152.8 388.3h0M201.2 355.7h0M101.1 352.0h0M205.7 367.7h0M91.6 370.8h0M135.7 353.6h0M106.5 351.7h0M92.6 429.0h0" stroke="#1c1c1c" stroke-width="2.50" stroke-linecap="round" stroke-opacity="0.62" fill="none"/><path d="M143.8 346.7h0M204.1 358.8h0M158.1 418.2h0M155.4 384.9h0M154.6 418.3h0M191.3 381.9h0M189.2 343.7h0M89.3 424.1h0M192.3 361.5h0M138.6 351.6h0M149.9 401.5h0M144.4 367.0h0M106.4 385.1h0M93.4 371.0h0M204.1 423.3h0M208.2 412.5h0M186.3 364.7h0M148.9 392.8h0M150.1 370.7h0M143.2 352.6h0" stroke="#1c1c1c" stroke-width="2.50" stroke-linecap="round" stroke-opacity="0.62" fill="none"/><path d="M161.4 367.0h0M151.6 424.0h0M135.7 347.7h0M193.3 392.3h0M194.3 341.5h0M151.0 356.3h0M108.3 383.1h0M203.0 367.8h0M141.8 393.6h0M85.5 368.4h0M196.3 407.9h0M159.7 367.3h0M147.0 363.7h0M191.2 382.7h0M135.6 395.1h0M98.4 376.4h0M147.3 357.5h0M141.0 347.6h0M212.2 351.0h0M142.8 356.8h0" stroke="#1c1c1c" stroke-width="2.50" stroke-linecap="round" stroke-opacity="0.62" fill="none"/><path d="M200.6 347.7h0M188.1 355.3h0M206.3 352.4h0M191.1 355.1h0M101.1 381.2h0M195.3 398.5h0M138.1 435.8h0M160.0 360.5h0M209.7 341.1h0M89.4 383.8h0M149.6 371.2h0M147.2 379.3h0M157.2 370.2h0M203.8 421.0h0M149.3 408.2h0M203.6 357.5h0M108.3 371.5h0M102.6 445.1h0M94.2 369.8h0M145.1 363.2h0" stroke="#1c1c1c" stroke-width="2.50" stroke-linecap="round" stroke-opacity="0.62" fill="none"/><path d="M148.0 424.9h0M200.8 340.6h0M194.3 400.8h0M202.8 412.0h0M88.8 369.0h0M191.5 390.7h0M90.0 425.4h0M140.5 371.0h0M141.2 395.3h0M190.9 354.7h0M197.4 429.3h0M157.0 367.7h0M160.6 379.4h0M89.3 415.1h0M153.8 375.5h0M100.3 357.7h0M195.6 413.1h0M137.7 346.3h0M213.0 365.2h0M201.8 362.8h0" stroke="#1c1c1c" stroke-width="2.50" stroke-linecap="round" stroke-opacity="0.62" fill="none"/><path d="M105.7 354.9h0M158.8 384.7h0M189.3 395.8h0M158.1 415.3h0M205.4 372.5h0M207.9 366.0h0M190.5 336.1h0M187.7 335.8h0M143.9 393.7h0M90.8 366.6h0M95.7 353.4h0M89.3 382.9h0M209.1 363.4h0M145.2 392.3h0M201.6 358.1h0M188.1 351.6h0M191.1 343.9h0M135.9 399.1h0M195.6 351.2h0M204.6 377.9h0" stroke="#1c1c1c" stroke-width="2.50" stroke-linecap="round" stroke-opacity="0.62" fill="none"/><path d="M203.4 410.5h0M161.5 429.3h0M104.6 370.2h0M137.6 399.3h0M204.6 339.8h0M158.9 440.8h0M159.8 355.2h0M94.6 364.3h0M106.2 349.1h0M207.6 377.2h0M196.9 405.7h0M135.2 351.4h0M205.6 399.3h0M94.0 408.1h0M143.2 374.7h0M147.1 359.4h0M156.5 404.2h0M100.2 372.7h0M147.4 349.7h0M135.0 385.3h0" stroke="#1c1c1c" stroke-width="2.50" stroke-linecap="round" stroke-opacity="0.62" fill="none"/><path d="M198.1 350.3h0M201.0 340.8h0M191.1 360.9h0M110.5 360.6h0M148.2 363.6h0M151.3 366.9h0M194.8 359.1h0M105.6 380.9h0M193.0 420.9h0M158.2 364.8h0M148.1 361.2h0M154.0 428.8h0M210.8 376.9h0M199.6 404.3h0M137.1 357.5h0M143.4 434.4h0M154.3 365.6h0M88.5 443.2h0M207.7 348.6h0M192.6 427.8h0" stroke="#1c1c1c" stroke-width="2.50" stroke-linecap="round" stroke-opacity="0.62" fill="none"/><path d="M90.5 359.0h0M144.7 367.4h0M211.2 394.7h0M209.5 340.5h0M200.8 379.7h0M151.5 343.0h0M206.9 343.4h0M158.2 385.0h0M154.5 384.3h0M197.6 340.7h0M186.0 362.2h0M103.4 409.7h0M140.0 406.4h0M96.3 397.8h0M90.1 379.0h0M96.5 369.3h0M147.3 369.1h0M107.6 355.6h0M105.7 361.9h0M137.7 375.2h0" stroke="#1c1c1c" stroke-width="2.50" stroke-linecap="round" stroke-opacity="0.62" fill="none"/><path d="M206.6 358.5h0M185.8 418.6h0M108.3 442.0h0M105.3 357.2h0M153.7 363.1h0M192.9 367.6h0M102.9 359.9h0M89.5 415.3h0M197.4 360.6h0M108.8 387.8h0M106.2 367.4h0M198.1 396.8h0M149.9 361.5h0M195.8 365.2h0M211.2 352.0h0M203.9 372.0h0M138.2 381.9h0M147.1 396.3h0M88.3 395.1h0M212.6 353.6h0" stroke="#1c1c1c" stroke-width="2.50" stroke-linecap="round" stroke-opacity="0.62" fill="none"/><path d="M202.2 355.3h0M108.3 402.9h0M209.2 352.0h0M147.4 347.5h0M191.2 361.4h0M99.7 364.9h0M186.8 339.9h0M101.9 361.7h0M212.1 344.7h0M159.3 388.4h0M196.6 410.5h0M211.4 344.7h0M138.0 374.1h0M202.2 361.9h0M94.7 357.8h0M105.4 363.4h0M156.7 428.3h0M186.8 418.9h0M86.0 355.9h0M156.4 376.2h0" stroke="#1c1c1c" stroke-width="2.50" stroke-linecap="round" stroke-opacity="0.62" fill="none"/><path d="M192.6 389.3h0M151.3 357.1h0M208.5 343.0h0M195.1 398.6h0M86.8 424.1h0M102.1 355.5h0M199.4 369.6h0M92.9 394.1h0M96.0 380.6h0M211.2 422.9h0M187.8 408.9h0M91.2 366.3h0M157.3 378.9h0M88.0 358.4h0M103.8 376.4h0M204.7 368.1h0M145.1 358.9h0M89.8 380.0h0M161.7 362.3h0M102.1 375.7h0" stroke="#1c1c1c" stroke-width="2.50" stroke-linecap="round" stroke-opacity="0.62" fill="none"/><path d="M103.1 367.4h0M151.7 364.7h0M146.4 364.8h0M210.2 365.5h0M161.8 409.2h0M142.0 383.1h0M156.1 362.9h0M104.0 354.7h0M185.6 334.8h0M194.0 350.2h0M94.3 363.5h0M88.3 411.6h0M103.9 365.4h0M105.5 363.5h0M144.1 367.4h0M89.8 362.6h0M109.3 367.8h0M187.0 358.8h0M143.4 429.9h0M186.1 391.3h0" stroke="#1c1c1c" stroke-width="2.50" stroke-linecap="round" stroke-opacity="0.62" fill="none"/><path d="M154.5 388.3h0M152.4 417.3h0M151.7 350.2h0M212.5 359.8h0M206.9 398.4h0M157.0 394.4h0M158.4 357.6h0M207.0 362.0h0M155.6 359.7h0M95.0 380.2h0M157.2 349.4h0M102.0 443.7h0M84.0 362.2h0M191.6 342.4h0M202.0 424.7h0M97.6 368.1h0M188.5 360.9h0M151.2 389.0h0M187.1 359.0h0M92.2 389.8h0" stroke="#1c1c1c" stroke-width="2.50" stroke-linecap="round" stroke-opacity="0.62" fill="none"/><path d="M209.0 346.9h0M99.7 373.8h0M195.4 353.0h0M195.0 353.2h0M147.0 422.0h0M84.8 352.1h0M204.6 350.0h0M200.2 355.0h0M188.7 374.6h0M204.2 363.8h0M201.2 349.6h0M102.9 382.6h0M86.4 361.7h0M150.2 381.1h0M146.1 360.3h0M111.2 431.2h0M100.5 412.1h0M144.5 348.7h0M188.4 347.1h0M209.0 349.1h0" stroke="#1c1c1c" stroke-width="2.50" stroke-linecap="round" stroke-opacity="0.62" fill="none"/><path d="M204.6 406.3h0M88.2 366.5h0M92.3 351.9h0M99.8 376.0h0M87.0 348.2h0M195.7 356.2h0M212.2 349.2h0M151.8 349.3h0M197.5 365.3h0M85.4 370.1h0M160.2 365.6h0M205.7 357.2h0M136.6 356.5h0M200.8 423.9h0M145.0 362.8h0M202.8 410.5h0M138.9 356.8h0M210.5 396.0h0M159.1 356.9h0M200.3 368.1h0" stroke="#1c1c1c" stroke-width="2.50" stroke-linecap="round" stroke-opacity="0.62" fill="none"/><path d="M212.3 357.6h0M159.1 394.2h0M200.7 354.9h0M140.4 393.8h0M198.0 373.4h0M96.4 375.7h0M154.4 396.4h0M137.1 372.5h0M202.7 340.2h0M199.1 359.7h0M146.7 367.2h0M160.0 352.0h0M200.9 397.8h0M141.6 429.8h0M97.1 400.9h0M143.1 353.4h0M186.4 361.8h0M149.9 371.1h0M160.9 408.8h0M110.3 420.4h0" stroke="#1c1c1c" stroke-width="2.50" stroke-linecap="round" stroke-opacity="0.62" fill="none"/><path d="M211.0 368.6h0M138.2 360.4h0M159.2 353.6h0M197.1 360.1h0M103.6 369.2h0M206.2 358.0h0M202.9 359.2h0M137.8 367.6h0M161.6 341.2h0M151.4 353.6h0M189.4 409.1h0M149.1 366.4h0M142.5 362.1h0M98.0 389.9h0M86.2 358.9h0M84.1 374.9h0M108.0 391.1h0M159.9 410.8h0M143.8 361.4h0M161.8 437.5h0" stroke="#1c1c1c" stroke-width="2.50" stroke-linecap="round" stroke-opacity="0.62" fill="none"/><path d="M160.0 367.2h0M89.2 356.3h0M89.1 360.0h0M104.5 365.7h0M138.4 362.2h0M151.2 350.1h0M192.9 362.1h0M149.5 391.6h0M102.4 352.9h0M153.0 357.8h0M93.1 435.4h0M204.4 345.2h0M140.4 347.7h0M144.3 347.1h0M142.7 352.5h0M211.1 392.9h0M207.5 367.8h0M151.1 403.1h0M151.7 375.7h0M151.9 422.3h0" stroke="#1c1c1c" stroke-width="2.50" stroke-linecap="round" stroke-opacity="0.62" fill="none"/><path d="M137.0 387.6h0M200.1 363.9h0M207.7 359.2h0M191.4 343.1h0M144.6 346.6h0M202.2 361.1h0M137.3 394.4h0M210.6 364.6h0M186.6 360.9h0M191.6 356.1h0M111.2 401.7h0M188.0 367.4h0M211.1 384.7h0M104.5 364.1h0M97.5 387.5h0M98.7 369.3h0M104.1 382.8h0M90.2 364.0h0M100.3 372.0h0M152.7 400.9h0" stroke="#1c1c1c" stroke-width="2.50" stroke-linecap="round" stroke-opacity="0.62" fill="none"/><path d="M101.1 418.2h0M205.8 387.8h0M152.4 362.2h0M186.1 419.9h0M96.5 362.7h0M210.9 416.6h0M188.3 367.8h0M109.4 360.0h0M199.5 400.8h0M143.2 366.6h0M154.5 381.2h0M191.7 339.4h0M94.6 393.5h0M84.5 398.8h0M136.7 439.5h0M87.3 425.0h0M92.9 376.0h0M93.7 385.2h0M200.0 344.4h0M89.9 374.7h0" stroke="#1c1c1c" stroke-width="2.50" stroke-linecap="round" stroke-opacity="0.62" fill="none"/><path d="M141.0 369.0h0M209.5 355.3h0M108.4 368.0h0M210.3 373.3h0M160.0 393.9h0M186.6 360.2h0M207.0 372.7h0M150.3 359.4h0M109.3 365.3h0M194.5 416.0h0M188.9 335.1h0M201.2 361.1h0M106.5 428.9h0M161.0 418.6h0M149.1 363.2h0M204.4 389.2h0M208.0 354.7h0M149.9 394.2h0M101.8 402.6h0M186.1 339.9h0" stroke="#1c1c1c" stroke-width="2.50" stroke-linecap="round" stroke-opacity="0.62" fill="none"/><path d="M102.5 391.9h0M188.0 413.0h0M159.8 349.8h0M148.2 364.2h0M109.4 353.5h0M209.6 417.8h0M206.6 378.4h0M101.6 358.3h0M138.6 432.0h0M85.8 365.2h0M158.2 367.1h0M195.8 350.1h0M87.9 366.3h0M156.9 353.7h0M137.1 357.4h0M145.0 386.0h0M92.9 365.9h0M159.8 405.4h0M142.5 349.0h0M98.5 356.3h0" stroke="#1c1c1c" stroke-width="2.50" stroke-linecap="round" stroke-opacity="0.62" fill="none"/><path d="M140.2 348.2h0M198.8 359.9h0M192.9 376.2h0M209.3 346.2h0M208.5 354.0h0M157.3 377.0h0M107.2 353.2h0M94.3 348.2h0M160.7 348.5h0M195.2 362.8h0M205.8 351.3h0M136.9 339.1h0M199.5 400.4h0M89.9 369.7h0M104.1 424.1h0M135.6 370.4h0M103.8 346.9h0M189.3 362.0h0M205.4 348.4h0M199.3 422.3h0" stroke="#1c1c1c" stroke-width="2.50" stroke-linecap="round" stroke-opacity="0.62" fill="none"/><path d="M188.5 365.3h0M135.2 365.4h0M204.5 403.7h0M161.5 386.7h0M195.1 357.9h0M199.4 418.1h0M193.9 356.6h0M156.1 369.7h0M156.9 348.2h0M207.2 374.0h0M143.1 383.2h0M105.2 370.0h0M94.2 352.6h0M193.3 401.2h0M191.5 396.7h0M200.6 357.8h0M212.0 358.6h0M198.2 360.8h0M85.2 351.3h0M189.1 421.4h0" stroke="#1c1c1c" stroke-width="2.50" stroke-linecap="round" stroke-opacity="0.62" fill="none"/><path d="M89.6 377.2h0M208.4 360.8h0M205.4 351.3h0M199.2 369.2h0M196.7 420.1h0M146.7 358.2h0M186.3 362.8h0M210.0 357.4h0M86.2 363.0h0M186.2 383.6h0M187.9 381.0h0M189.8 372.7h0M212.6 367.6h0M85.2 358.9h0M100.2 363.2h0M197.8 395.3h0M110.3 363.2h0M105.8 417.3h0M137.1 410.4h0M201.3 360.4h0" stroke="#1c1c1c" stroke-width="2.50" stroke-linecap="round" stroke-opacity="0.62" fill="none"/><path d="M97.9 370.6h0M198.4 342.7h0M186.3 347.2h0M190.2 345.1h0M87.5 390.6h0M193.9 409.7h0M161.4 372.2h0M136.5 412.4h0M153.0 380.3h0M96.1 367.4h0M84.6 399.5h0M87.4 366.6h0M144.6 346.5h0M140.5 385.5h0M208.4 394.9h0M201.8 357.8h0M135.1 347.0h0M208.5 342.3h0M96.9 352.5h0M104.3 409.4h0" stroke="#1c1c1c" stroke-width="2.50" stroke-linecap="round" stroke-opacity="0.62" fill="none"/><path d="M95.6 363.9h0M207.7 349.4h0M156.4 396.4h0M108.1 434.8h0M199.3 352.7h0M155.7 397.5h0M139.8 379.3h0M202.8 433.2h0M139.2 367.8h0M210.6 360.3h0M145.2 366.3h0M210.9 342.9h0M108.9 372.9h0M154.3 394.3h0M139.8 347.3h0M150.9 433.2h0M197.0 354.8h0M91.3 359.2h0M199.8 342.7h0M145.9 363.7h0" stroke="#1c1c1c" stroke-width="2.50" stroke-linecap="round" stroke-opacity="0.62" fill="none"/><path d="M210.6 368.3h0M91.2 371.6h0M150.9 413.9h0M101.3 360.1h0M107.7 384.3h0M204.0 356.5h0M161.7 363.5h0M186.9 347.4h0M101.0 368.0h0M153.9 363.5h0M99.1 375.9h0M108.0 438.2h0M139.6 360.2h0M107.1 367.1h0M139.7 343.6h0M190.3 405.9h0M108.6 431.7h0M211.0 356.4h0M144.3 356.2h0M147.0 359.4h0" stroke="#1c1c1c" stroke-width="2.50" stroke-linecap="round" stroke-opacity="0.62" fill="none"/><path d="M98.4 363.0h0M98.0 363.2h0M109.6 354.9h0M161.3 385.1h0M193.9 392.7h0M200.6 356.2h0M89.9 418.1h0M190.4 382.2h0M202.1 412.7h0M148.5 383.7h0M194.7 418.8h0M200.5 405.9h0M86.5 365.5h0M193.6 380.0h0M95.2 379.8h0M136.7 366.3h0M140.0 432.3h0M151.4 399.8h0M206.4 380.1h0M198.2 361.3h0" stroke="#1c1c1c" stroke-width="2.50" stroke-linecap="round" stroke-opacity="0.62" fill="none"/><path d="M152.2 426.7h0M212.5 416.7h0M198.9 362.2h0M197.7 352.4h0M146.7 394.6h0M206.5 359.6h0M153.3 421.5h0M136.3 355.3h0M156.8 403.5h0M95.1 388.3h0M108.7 367.4h0M98.5 413.5h0M203.7 407.4h0M92.2 363.4h0M158.6 369.2h0M202.4 381.9h0M191.9 355.9h0M210.4 423.9h0M147.9 366.9h0M86.1 351.5h0" stroke="#1c1c1c" stroke-width="2.50" stroke-linecap="round" stroke-opacity="0.62" fill="none"/><path d="M158.4 356.4h0M138.6 385.3h0M190.5 395.8h0M138.2 362.5h0M187.5 361.6h0M204.8 346.0h0M200.8 361.4h0M212.9 355.5h0M146.0 364.5h0M187.8 423.3h0M103.4 383.3h0M209.4 337.1h0M159.2 357.6h0M192.6 371.3h0M151.4 359.7h0M159.8 346.4h0M200.4 376.5h0M206.4 360.7h0M105.0 363.9h0M102.8 430.5h0" stroke="#1c1c1c" stroke-width="2.50" stroke-linecap="round" stroke-opacity="0.62" fill="none"/><path d="M205.1 356.9h0M93.9 371.1h0M201.2 434.3h0M152.3 359.5h0M207.1 357.4h0M191.5 359.0h0M136.8 362.0h0M98.7 388.4h0M137.8 380.6h0M159.1 405.9h0M189.2 356.6h0M140.3 360.7h0M196.9 340.9h0M88.4 352.2h0M153.5 349.7h0M94.2 373.4h0M157.0 358.2h0M87.6 354.6h0M147.1 393.7h0M186.7 402.2h0" stroke="#1c1c1c" stroke-width="2.50" stroke-linecap="round" stroke-opacity="0.62" fill="none"/><path d="M144.4 394.1h0M190.8 348.0h0M135.8 409.4h0M211.3 404.6h0M101.3 365.9h0M196.2 363.4h0M199.1 377.5h0M89.8 432.4h0M197.5 381.8h0M105.9 403.5h0M205.1 356.1h0M212.1 380.5h0M199.5 389.4h0M139.7 378.3h0M196.2 353.5h0M107.8 358.5h0M85.5 411.2h0M161.4 363.2h0M190.6 363.6h0M141.6 376.2h0" stroke="#1c1c1c" stroke-width="2.50" stroke-linecap="round" stroke-opacity="0.62" fill="none"/><path d="M193.2 381.7h0M98.6 355.5h0M156.7 388.5h0M84.2 361.5h0M156.2 347.0h0M161.0 371.4h0M202.7 377.9h0M144.1 406.1h0M157.9 349.9h0M192.6 361.6h0M149.2 361.1h0M185.7 410.5h0M136.9 351.8h0M141.9 388.4h0M195.3 363.2h0M137.5 379.2h0M102.1 401.8h0M104.5 366.1h0M137.8 363.6h0M188.3 360.1h0" stroke="#1c1c1c" stroke-width="2.50" stroke-linecap="round" stroke-opacity="0.62" fill="none"/>
<rect x="67.4" y="327.4" width="163.9" height="125.30000000000001" fill="none" stroke="#999" stroke-width="0.6"/>
<line x1="231.3" y1="327.4" x2="231.3" y2="452.7" stroke="#555" stroke-width="0.7"/>
<line x1="67.4" y1="452.7" x2="231.3" y2="452.7" stroke="#555" stroke-width="0.7"/>
<text x="65.10" y="443.00" font-size="3.9" fill="#444" text-anchor="end" stroke="#444" stroke-width="0.08" >0</text>
<line x1="65.9" y1="441.6" x2="67.4" y2="441.6" stroke="#555" stroke-width="0.4"/>
<text x="65.10" y="410.10" font-size="3.9" fill="#444" text-anchor="end" stroke="#444" stroke-width="0.08" >2</text>
<line x1="65.9" y1="408.7" x2="67.4" y2="408.7" stroke="#555" stroke-width="0.4"/>
<text x="65.10" y="377.20" font-size="3.9" fill="#444" text-anchor="end" stroke="#444" stroke-width="0.08" >4</text>
<line x1="65.9" y1="375.8" x2="67.4" y2="375.8" stroke="#555" stroke-width="0.4"/>
<text x="65.10" y="344.30" font-size="3.9" fill="#444" text-anchor="end" stroke="#444" stroke-width="0.08" >6</text>
<line x1="65.9" y1="342.9" x2="67.4" y2="342.9" stroke="#555" stroke-width="0.4"/>
<text x="97.60" y="457.80" font-size="3.6" fill="#444" text-anchor="middle" stroke="#444" stroke-width="0.06" >1</text>
<text x="148.50" y="457.80" font-size="3.6" fill="#444" text-anchor="middle" stroke="#444" stroke-width="0.06" >0</text>
<text x="199.30" y="457.80" font-size="3.6" fill="#444" text-anchor="middle" stroke="#444" stroke-width="0.06" >1</text>
<text x="147.70" y="468.80" font-size="3.4" fill="#555" text-anchor="middle" >Grade</text>
<text transform="translate(59.00,376.50) rotate(-90)" font-size="5.4" fill="#111" text-anchor="middle" textLength="61.7" lengthAdjust="spacingAndGlyphs" stroke="#111" stroke-width="0.1" >mRNA expression (log2)</text>
<text transform="translate(55.00,416.00) rotate(-90)" font-size="3.6" fill="#333" text-anchor="middle" >mR</text>
<path d="M152.6 313.4 L152.6 304.4 L205.2 304.4 L205.2 313.4" fill="none" stroke="#111" stroke-width="1.3"/>
<text x="179.00" y="306.30" font-size="11.5" fill="#111" text-anchor="middle" font-weight="bold" >***</text>
<rect x="71.4" y="490.7" width="166.1" height="107.90000000000003" fill="#fff"/>
<line x1="71.4" y1="575.6" x2="237.5" y2="575.6" stroke="#f0f0f0" stroke-width="0.5"/>
<line x1="71.4" y1="546.8" x2="237.5" y2="546.8" stroke="#f0f0f0" stroke-width="0.5"/>
<line x1="71.4" y1="518.0" x2="237.5" y2="518.0" stroke="#f0f0f0" stroke-width="0.5"/>
<line x1="71.4" y1="590.0" x2="237.5" y2="590.0" stroke="#e2e2e2" stroke-width="0.7"/>
<line x1="71.4" y1="561.2" x2="237.5" y2="561.2" stroke="#e2e2e2" stroke-width="0.7"/>
<line x1="71.4" y1="532.4" x2="237.5" y2="532.4" stroke="#e2e2e2" stroke-width="0.7"/>
<line x1="71.4" y1="503.6" x2="237.5" y2="503.6" stroke="#e2e2e2" stroke-width="0.7"/>
<line x1="102.5" y1="490.7" x2="102.5" y2="598.6" stroke="#e2e2e2" stroke-width="0.7"/>
<line x1="153.9" y1="490.7" x2="153.9" y2="598.6" stroke="#e2e2e2" stroke-width="0.7"/>
<line x1="203.7" y1="490.7" x2="203.7" y2="598.6" stroke="#e2e2e2" stroke-width="0.7"/>
<line x1="102.5" y1="496.4" x2="102.5" y2="589.3" stroke="#333" stroke-width="0.6"/>
<rect x="82.75" y="517.0" width="39.5" height="30.7" fill="#fff" stroke="#333" stroke-width="0.6"/>
<line x1="82.75" y1="525.2" x2="122.25" y2="525.2" stroke="#222" stroke-width="1.0"/>
<line x1="153.9" y1="499.3" x2="153.9" y2="592.6" stroke="#333" stroke-width="0.6"/>
<rect x="134.45000000000002" y="518.0" width="38.9" height="21.6" fill="#fff" stroke="#333" stroke-width="0.6"/>
<line x1="134.45000000000002" y1="526.6" x2="173.35" y2="526.6" stroke="#222" stroke-width="1.0"/>
<line x1="203.7" y1="502.6" x2="203.7" y2="526.6" stroke="#333" stroke-width="0.6"/>
<rect x="184.1" y="509.9" width="39.2" height="7.8" fill="#fff" stroke="#333" stroke-width="0.6"/>
<line x1="184.1" y1="514.8" x2="223.29999999999998" y2="514.8" stroke="#222" stroke-width="1.0"/>
<path d="M149.1 542.3h0M142.8 501.4h0M150.4 534.1h0M105.9 520.3h0M163.8 517.5h0M155.9 526.2h0M110.8 561.2h0M115.1 509.7h0M190.3 515.7h0M100.5 583.7h0M162.0 529.4h0M106.2 546.7h0M144.0 545.2h0M99.2 528.9h0M89.0 534.1h0M96.2 517.2h0M95.8 567.1h0M159.9 522.8h0M89.2 582.8h0M159.9 552.5h0" stroke="#1c1c1c" stroke-width="2.50" stroke-linecap="round" stroke-opacity="0.62" fill="none"/><path d="M161.4 536.0h0M101.1 521.2h0M115.8 518.1h0M103.0 521.0h0M214.8 512.7h0M110.5 514.5h0M112.7 518.3h0M165.2 505.1h0M89.4 523.6h0M104.3 554.7h0M164.3 525.7h0M153.2 537.2h0M114.1 514.7h0M93.5 562.0h0M108.1 538.6h0M154.9 578.4h0M94.6 542.6h0M99.6 515.8h0M115.1 588.6h0M90.0 533.0h0" stroke="#1c1c1c" stroke-width="2.50" stroke-linecap="round" stroke-opacity="0.62" fill="none"/><path d="M155.8 520.7h0M96.7 544.1h0M156.1 580.3h0M158.2 537.3h0M97.8 520.8h0M105.4 588.7h0M108.2 512.3h0M91.0 541.4h0M96.1 511.7h0M115.5 514.1h0M107.6 545.8h0M112.6 521.1h0M112.4 522.5h0M93.2 541.2h0M111.7 551.8h0M153.4 570.5h0M165.3 505.5h0M163.4 511.7h0M207.6 517.2h0M95.7 567.8h0" stroke="#1c1c1c" stroke-width="2.50" stroke-linecap="round" stroke-opacity="0.62" fill="none"/><path d="M95.0 544.7h0M153.7 553.3h0M114.9 513.8h0M108.1 582.9h0M158.5 565.2h0M159.5 564.3h0M197.8 513.7h0M109.7 513.8h0M104.6 580.8h0M98.8 538.6h0M97.2 555.1h0M107.0 536.0h0M155.5 537.0h0M99.3 510.0h0M99.5 544.8h0M91.1 532.9h0M94.8 567.1h0M145.4 515.2h0M107.6 523.9h0M147.4 513.4h0" stroke="#1c1c1c" stroke-width="2.50" stroke-linecap="round" stroke-opacity="0.62" fill="none"/><path d="M106.2 502.6h0M101.8 542.2h0M140.2 523.6h0M150.5 532.9h0M100.1 523.7h0M95.8 540.0h0M103.5 501.2h0M155.5 506.0h0M89.9 520.3h0M103.2 517.2h0M167.7 522.1h0M157.9 526.3h0M93.1 507.2h0M101.3 542.0h0M145.2 529.6h0M92.1 556.2h0M105.2 531.1h0M100.8 514.6h0M110.5 559.9h0M162.4 546.9h0" stroke="#1c1c1c" stroke-width="2.50" stroke-linecap="round" stroke-opacity="0.62" fill="none"/><path d="M142.7 513.6h0M113.2 515.9h0M92.5 517.7h0M110.1 548.7h0M95.5 523.8h0M106.3 508.8h0M94.5 518.2h0M116.1 528.8h0M109.4 545.3h0M88.6 534.7h0M111.3 520.0h0M102.4 574.4h0M157.2 513.8h0M212.8 516.8h0M95.2 528.5h0M91.1 512.1h0M112.9 512.3h0M95.3 507.2h0M103.4 500.3h0M105.0 551.6h0" stroke="#1c1c1c" stroke-width="2.50" stroke-linecap="round" stroke-opacity="0.62" fill="none"/><path d="M162.3 511.2h0M162.6 546.4h0M165.7 540.3h0M167.2 526.7h0M145.2 534.2h0M107.9 512.2h0M167.5 516.4h0M147.4 528.6h0M146.1 539.2h0M92.5 501.3h0M91.2 529.7h0M103.8 542.8h0M163.9 513.9h0M110.8 516.4h0M196.4 514.9h0M93.4 537.4h0M163.4 539.6h0M141.6 555.7h0M93.2 524.0h0M161.8 537.1h0" stroke="#1c1c1c" stroke-width="2.50" stroke-linecap="round" stroke-opacity="0.62" fill="none"/><path d="M99.7 512.4h0M90.3 526.9h0M101.7 551.8h0M107.5 515.0h0M106.7 550.3h0M151.7 554.6h0M88.6 531.8h0M107.3 526.8h0M149.4 531.2h0M92.3 539.1h0M141.6 513.5h0M106.7 556.8h0M164.3 516.3h0M147.4 569.8h0M152.7 536.7h0M106.8 508.3h0M94.2 523.3h0M157.9 529.1h0M108.3 542.5h0M98.2 510.3h0" stroke="#1c1c1c" stroke-width="2.50" stroke-linecap="round" stroke-opacity="0.62" fill="none"/><path d="M95.2 522.1h0M143.4 551.4h0M148.1 562.7h0M146.5 552.1h0M92.1 523.2h0M115.2 556.5h0M113.7 516.6h0M162.6 530.6h0M108.0 542.9h0M93.6 505.3h0M96.3 517.0h0M94.4 520.2h0M96.0 517.9h0M157.5 538.7h0M147.1 526.3h0M90.4 570.9h0M110.9 511.7h0M157.3 581.5h0M104.0 576.7h0M149.3 525.5h0" stroke="#1c1c1c" stroke-width="2.50" stroke-linecap="round" stroke-opacity="0.62" fill="none"/><path d="M102.6 561.3h0M109.1 511.7h0M111.7 541.8h0M106.0 507.0h0M157.6 590.9h0M102.0 501.4h0M101.3 514.8h0M107.2 544.2h0M97.8 523.5h0M108.9 515.6h0M110.6 518.5h0M94.8 505.0h0M101.2 569.3h0M163.5 504.9h0M95.1 512.5h0M148.9 544.7h0M94.0 535.7h0M92.8 525.6h0M97.8 518.5h0M98.9 568.3h0" stroke="#1c1c1c" stroke-width="2.50" stroke-linecap="round" stroke-opacity="0.62" fill="none"/><path d="M93.2 545.4h0M98.0 521.9h0M91.5 513.6h0M105.0 578.8h0M106.2 520.3h0M97.7 538.1h0M91.7 529.3h0M107.9 562.1h0M154.4 535.2h0M109.5 523.7h0M93.9 521.2h0M100.6 515.9h0M156.5 524.7h0M162.4 511.6h0M108.7 559.3h0M98.4 517.0h0M101.5 515.6h0M94.4 573.0h0M157.2 520.0h0M93.0 523.6h0" stroke="#1c1c1c" stroke-width="2.50" stroke-linecap="round" stroke-opacity="0.62" fill="none"/><path d="M165.2 514.7h0M154.5 514.4h0M89.4 540.3h0M99.1 535.9h0M93.8 522.6h0M111.2 540.5h0M98.6 540.8h0M147.2 570.1h0M96.2 519.3h0M94.4 522.9h0M113.6 542.3h0M110.8 540.6h0M95.6 511.3h0M160.8 521.9h0M161.1 514.5h0M155.0 517.2h0M114.8 522.8h0M107.8 552.0h0M142.3 541.9h0M89.6 541.7h0" stroke="#1c1c1c" stroke-width="2.50" stroke-linecap="round" stroke-opacity="0.62" fill="none"/><path d="M113.6 536.8h0M106.4 534.2h0M104.6 543.5h0M100.6 505.9h0M146.8 521.0h0M154.8 537.9h0M106.8 585.6h0M192.3 516.1h0M156.2 513.0h0M149.3 541.1h0M163.7 522.3h0M196.3 515.9h0M161.8 518.6h0M92.5 528.3h0M149.3 522.6h0M115.4 524.8h0M106.0 552.9h0M154.1 519.7h0M99.1 516.6h0M150.4 523.3h0" stroke="#1c1c1c" stroke-width="2.50" stroke-linecap="round" stroke-opacity="0.62" fill="none"/><path d="M155.0 514.7h0M152.8 510.9h0M102.5 535.8h0M146.1 516.3h0M159.1 559.7h0M101.6 565.2h0M111.5 514.7h0M154.7 530.2h0M114.9 513.3h0M160.3 523.3h0M95.4 512.2h0M88.9 510.6h0M105.5 586.9h0M88.9 513.1h0M102.7 584.9h0M158.4 542.2h0M115.7 521.9h0M113.8 545.2h0M88.6 519.3h0M97.2 533.2h0" stroke="#1c1c1c" stroke-width="2.50" stroke-linecap="round" stroke-opacity="0.62" fill="none"/><path d="M107.2 559.6h0M102.5 510.9h0M156.3 523.4h0M94.0 520.7h0M154.0 512.5h0M91.3 508.5h0M90.6 516.1h0M94.0 575.1h0M111.3 585.6h0M95.9 558.0h0M208.1 503.8h0M157.7 514.9h0M146.7 520.4h0M145.0 515.3h0M99.1 554.7h0M89.5 516.1h0M111.8 557.8h0M147.5 566.1h0M111.1 520.2h0M93.6 536.8h0" stroke="#1c1c1c" stroke-width="2.50" stroke-linecap="round" stroke-opacity="0.62" fill="none"/><path d="M114.6 537.8h0M110.0 540.3h0M150.9 511.4h0M99.7 509.3h0M103.7 530.1h0M160.3 523.6h0M147.0 506.6h0M160.2 500.5h0M111.6 548.0h0M111.9 540.9h0M97.5 515.8h0M141.4 551.2h0M156.6 569.0h0M164.2 557.9h0M149.4 503.2h0M155.6 537.0h0M101.4 516.8h0M116.3 545.7h0M99.1 526.7h0M105.0 552.7h0" stroke="#1c1c1c" stroke-width="2.50" stroke-linecap="round" stroke-opacity="0.62" fill="none"/><path d="M149.6 525.3h0M90.3 561.9h0M113.1 502.0h0M105.6 517.3h0M109.1 524.2h0M95.7 521.5h0M159.0 551.5h0M106.4 540.1h0M111.1 510.7h0M107.0 518.6h0M98.1 512.4h0M115.4 506.5h0M101.2 586.5h0M96.5 512.8h0M154.7 526.6h0M110.6 531.0h0M93.9 530.7h0M153.6 513.5h0M92.6 514.9h0M103.5 511.6h0" stroke="#1c1c1c" stroke-width="2.50" stroke-linecap="round" stroke-opacity="0.62" fill="none"/><path d="M210.2 504.0h0M92.6 586.2h0M106.2 509.0h0M94.1 510.2h0M144.9 513.8h0M95.3 515.7h0M92.0 519.7h0M157.9 512.8h0M96.0 510.2h0M97.5 518.8h0M94.6 524.4h0M106.5 517.0h0M115.9 575.3h0M158.9 523.6h0M108.9 524.5h0M162.8 570.0h0M102.5 582.9h0M163.1 522.8h0M103.0 581.4h0M91.3 535.1h0" stroke="#1c1c1c" stroke-width="2.50" stroke-linecap="round" stroke-opacity="0.62" fill="none"/><path d="M98.5 527.0h0M100.9 517.3h0M106.3 585.5h0M99.8 567.9h0M114.9 589.4h0M94.9 511.3h0M95.1 528.3h0M93.2 528.3h0M111.0 566.6h0M143.2 528.9h0M144.9 505.1h0M140.9 538.6h0M93.9 517.9h0M145.3 538.3h0M209.4 504.5h0M94.0 581.2h0M102.8 512.7h0M102.1 513.3h0M144.7 534.9h0M102.5 519.5h0" stroke="#1c1c1c" stroke-width="2.50" stroke-linecap="round" stroke-opacity="0.62" fill="none"/><path d="M155.5 566.1h0M166.4 508.2h0M88.9 544.9h0M157.5 515.1h0M101.2 566.5h0M103.0 520.4h0M149.4 524.2h0M114.7 576.7h0M92.6 533.7h0M114.4 563.8h0M163.6 528.1h0M148.8 534.6h0M111.9 578.5h0M112.6 516.7h0M162.8 514.1h0M103.7 535.5h0M98.3 555.3h0M102.2 572.1h0M165.8 518.9h0M116.2 522.5h0" stroke="#1c1c1c" stroke-width="2.50" stroke-linecap="round" stroke-opacity="0.62" fill="none"/><path d="M162.8 521.8h0M145.1 538.7h0M145.6 523.0h0M106.9 514.0h0M115.3 512.1h0M146.3 505.7h0M151.3 533.5h0M158.3 523.7h0M167.0 535.4h0M159.2 526.1h0M111.7 520.7h0M103.3 581.0h0M114.2 507.6h0M107.2 530.3h0M141.1 516.4h0M151.7 513.9h0M92.5 529.7h0M148.5 515.4h0M147.5 519.8h0M141.1 520.5h0" stroke="#1c1c1c" stroke-width="2.50" stroke-linecap="round" stroke-opacity="0.62" fill="none"/><path d="M92.9 588.4h0M104.7 547.1h0M107.5 511.1h0M160.0 510.3h0M151.5 532.0h0M140.7 511.4h0M115.4 520.6h0M109.7 530.0h0M98.1 520.1h0M164.2 513.4h0M167.6 574.7h0M90.8 513.1h0M110.2 538.4h0M99.7 510.6h0M91.8 514.8h0M106.6 506.4h0M101.7 507.7h0M114.8 524.3h0M145.2 520.9h0M161.5 543.7h0" stroke="#1c1c1c" stroke-width="2.50" stroke-linecap="round" stroke-opacity="0.62" fill="none"/><path d="M165.7 514.5h0M98.2 569.6h0M104.6 517.1h0M100.9 583.5h0M167.6 515.8h0M152.7 533.6h0M108.4 584.3h0M106.0 510.2h0M91.3 531.5h0M165.0 573.3h0M95.9 529.1h0M196.1 533.0h0M156.9 522.8h0M165.6 564.0h0M147.5 522.3h0M112.8 523.6h0M162.2 534.2h0M116.5 559.7h0M161.4 512.7h0M110.8 574.5h0" stroke="#1c1c1c" stroke-width="2.50" stroke-linecap="round" stroke-opacity="0.62" fill="none"/><path d="M95.9 569.3h0M114.1 516.0h0M151.0 526.9h0M106.0 510.7h0M161.8 512.3h0M104.7 576.3h0M94.8 504.4h0M141.1 515.1h0M101.8 588.5h0M99.7 523.7h0M96.6 511.8h0M101.1 545.1h0M141.8 534.0h0M115.3 512.3h0M115.8 577.4h0M91.8 506.4h0M111.4 510.6h0M106.6 504.4h0M112.9 552.1h0M113.1 521.4h0" stroke="#1c1c1c" stroke-width="2.50" stroke-linecap="round" stroke-opacity="0.62" fill="none"/><path d="M158.3 537.0h0M145.3 519.1h0M157.9 535.4h0M162.5 536.0h0M158.4 524.5h0M92.4 502.2h0M150.7 582.1h0M162.1 531.6h0M97.0 505.8h0M115.0 539.0h0M166.7 562.2h0M107.0 570.7h0M107.7 518.7h0M99.8 536.1h0M140.5 567.0h0M89.1 518.2h0M145.3 533.0h0M145.7 527.8h0M158.8 537.7h0M92.8 511.2h0" stroke="#1c1c1c" stroke-width="2.50" stroke-linecap="round" stroke-opacity="0.62" fill="none"/><path d="M116.3 510.8h0M113.7 513.9h0M151.5 516.9h0M158.6 515.4h0M167.6 538.1h0M92.4 509.3h0M106.1 506.5h0M201.3 520.4h0M145.5 519.3h0M91.1 518.1h0M106.7 546.2h0M89.2 542.8h0M96.8 527.6h0M158.5 539.0h0M142.0 539.4h0M115.5 557.0h0M92.0 533.1h0M97.4 515.1h0M89.1 559.8h0M108.8 514.3h0" stroke="#1c1c1c" stroke-width="2.50" stroke-linecap="round" stroke-opacity="0.62" fill="none"/><path d="M106.6 583.3h0M146.3 529.0h0M162.7 514.8h0M91.2 514.1h0M151.2 517.3h0M96.9 552.3h0M148.7 581.6h0M167.5 522.8h0M111.2 569.9h0M106.2 511.9h0M93.5 510.9h0M112.8 505.6h0M106.1 521.7h0M96.2 544.4h0M109.7 542.4h0M109.6 514.7h0M108.7 522.4h0M113.8 537.8h0M106.1 566.8h0M99.4 517.2h0" stroke="#1c1c1c" stroke-width="2.50" stroke-linecap="round" stroke-opacity="0.62" fill="none"/><path d="M103.5 539.6h0M146.1 535.5h0M115.3 508.8h0M93.8 524.5h0M148.2 517.2h0M165.5 577.7h0M112.5 512.1h0M153.5 531.8h0M108.2 515.4h0M142.5 516.5h0M98.1 574.4h0M111.7 527.0h0M147.3 510.9h0M97.9 534.2h0M91.7 531.5h0M164.6 567.9h0M116.3 566.5h0M106.7 568.5h0M113.3 572.9h0M142.6 521.3h0" stroke="#1c1c1c" stroke-width="2.50" stroke-linecap="round" stroke-opacity="0.62" fill="none"/><path d="M165.3 571.4h0M152.1 525.9h0M105.0 520.9h0M114.4 547.4h0M154.8 528.0h0M92.8 505.8h0M114.5 522.5h0M166.6 537.2h0M165.8 528.9h0M162.6 521.2h0M98.4 518.5h0M92.5 542.3h0M166.8 521.1h0M89.7 539.8h0M97.9 576.7h0M112.0 520.2h0M113.6 522.1h0M164.4 548.0h0M90.2 516.4h0M141.3 542.7h0" stroke="#1c1c1c" stroke-width="2.50" stroke-linecap="round" stroke-opacity="0.62" fill="none"/><path d="M112.3 515.4h0M107.9 589.6h0M89.1 519.6h0M148.2 554.1h0M100.2 577.6h0M105.1 521.3h0M143.6 512.9h0M108.4 516.7h0M112.3 521.9h0M93.0 517.0h0M152.1 583.5h0M91.5 511.4h0M157.5 518.0h0M88.7 573.7h0M107.1 540.9h0M96.1 573.9h0M101.5 565.9h0M148.3 519.2h0M159.0 541.3h0M112.4 589.7h0" stroke="#1c1c1c" stroke-width="2.50" stroke-linecap="round" stroke-opacity="0.62" fill="none"/><path d="M91.5 521.7h0M101.4 555.6h0M154.4 541.3h0M165.6 508.7h0M95.0 521.4h0M91.0 514.2h0M145.1 531.1h0M113.0 544.6h0M108.0 584.6h0M141.9 522.9h0M161.5 511.0h0M105.0 543.0h0M146.9 525.6h0M102.7 551.2h0M105.7 553.5h0M148.0 513.2h0M146.6 536.2h0M89.3 515.5h0M104.6 515.4h0M142.5 543.0h0" stroke="#1c1c1c" stroke-width="2.50" stroke-linecap="round" stroke-opacity="0.62" fill="none"/><path d="M103.5 510.9h0M114.5 512.8h0M107.0 515.7h0M166.4 542.4h0M99.9 517.5h0M105.6 555.6h0M153.1 535.2h0M94.8 542.2h0M114.2 519.1h0M112.9 534.9h0M147.6 538.4h0M95.7 549.7h0M146.4 529.5h0M143.5 526.1h0M106.1 565.4h0M108.3 531.3h0M111.9 574.9h0M98.1 588.1h0M153.3 521.9h0M166.0 519.0h0" stroke="#1c1c1c" stroke-width="2.50" stroke-linecap="round" stroke-opacity="0.62" fill="none"/><path d="M192.3 505.0h0M154.8 511.3h0M158.6 558.0h0M110.2 517.5h0M211.1 510.0h0M141.9 533.6h0M142.2 527.1h0M92.3 554.2h0M93.1 536.2h0M97.8 511.5h0M106.2 569.7h0M92.7 546.8h0M89.3 541.7h0M88.9 515.7h0M103.2 537.3h0M197.4 513.8h0M142.7 504.0h0M114.4 524.2h0M116.2 522.4h0M91.0 568.4h0" stroke="#1c1c1c" stroke-width="2.50" stroke-linecap="round" stroke-opacity="0.62" fill="none"/><path d="M140.5 512.7h0M100.5 541.9h0M142.5 521.5h0M95.5 514.4h0M160.5 525.5h0M94.9 524.8h0M116.0 539.8h0M92.5 519.3h0M93.1 517.1h0M161.8 535.1h0M98.4 519.4h0M110.0 520.9h0M116.4 509.1h0M101.1 533.9h0M152.8 503.3h0M98.6 523.4h0M116.2 526.4h0M144.5 515.6h0M102.9 538.0h0M144.4 535.0h0" stroke="#1c1c1c" stroke-width="2.50" stroke-linecap="round" stroke-opacity="0.62" fill="none"/><path d="M99.4 519.1h0M111.7 499.9h0M144.3 526.6h0M94.4 542.9h0M98.1 535.7h0M161.7 547.1h0M102.8 525.0h0M105.3 540.0h0M112.7 507.6h0M152.6 524.5h0M111.2 565.6h0M112.0 523.9h0M142.9 517.5h0M104.5 563.6h0M151.6 514.9h0M161.0 549.5h0M95.4 576.3h0M113.9 520.8h0M206.9 516.7h0M166.6 529.9h0" stroke="#1c1c1c" stroke-width="2.50" stroke-linecap="round" stroke-opacity="0.62" fill="none"/><path d="M109.8 545.2h0M110.2 520.0h0M149.9 529.9h0M96.6 524.1h0M96.6 516.1h0M94.6 550.1h0M104.4 518.9h0M104.7 513.0h0M107.6 550.1h0M103.5 518.6h0M109.4 583.1h0M112.5 525.8h0M215.9 503.9h0M108.8 539.7h0M146.6 537.6h0M141.8 534.1h0M114.2 517.7h0M102.2 516.1h0M99.9 543.1h0M94.4 532.0h0" stroke="#1c1c1c" stroke-width="2.50" stroke-linecap="round" stroke-opacity="0.62" fill="none"/><path d="M96.7 522.3h0M116.4 510.8h0M92.1 561.5h0M89.2 521.1h0M103.6 515.0h0M142.0 512.4h0M110.3 557.0h0M109.8 587.5h0M106.1 581.0h0M100.5 522.3h0M158.7 523.5h0M151.0 504.6h0M153.1 503.7h0M159.3 526.3h0M101.0 532.2h0M113.2 535.7h0M88.6 531.2h0M88.9 522.4h0M102.4 548.8h0M113.0 541.7h0" stroke="#1c1c1c" stroke-width="2.50" stroke-linecap="round" stroke-opacity="0.62" fill="none"/><path d="M98.1 517.7h0M99.2 520.6h0M150.2 535.7h0M99.1 500.6h0M163.1 529.2h0M197.9 515.9h0M97.4 557.9h0M110.9 506.3h0M115.3 521.5h0M102.9 511.2h0M99.7 516.6h0M149.9 529.7h0M106.2 531.8h0M167.1 568.3h0M147.1 538.5h0M90.0 525.5h0M105.9 577.4h0M201.0 516.0h0M163.5 521.7h0M159.6 518.6h0" stroke="#1c1c1c" stroke-width="2.50" stroke-linecap="round" stroke-opacity="0.62" fill="none"/><path d="M100.0 518.6h0M162.3 535.8h0M110.7 579.3h0M150.5 526.9h0M100.3 515.1h0M104.5 522.9h0M147.8 518.9h0M100.7 568.5h0M97.9 522.8h0M112.5 560.6h0M98.5 535.9h0M91.8 582.5h0M116.1 532.9h0M110.3 519.8h0M103.2 512.6h0M163.5 503.5h0M103.0 510.3h0M106.7 570.0h0M98.6 516.8h0M105.4 539.1h0" stroke="#1c1c1c" stroke-width="2.50" stroke-linecap="round" stroke-opacity="0.62" fill="none"/><path d="M109.5 498.5h0M97.9 586.8h0M101.3 561.6h0M109.0 539.8h0M104.8 519.8h0M152.4 532.7h0M144.5 535.2h0M92.9 581.1h0M102.3 514.9h0M89.5 568.9h0M105.5 512.2h0M99.4 520.5h0M97.4 533.1h0M148.0 521.2h0M166.9 524.2h0M105.5 515.3h0M103.8 528.6h0M104.4 544.2h0M162.3 512.1h0M159.5 515.8h0" stroke="#1c1c1c" stroke-width="2.50" stroke-linecap="round" stroke-opacity="0.62" fill="none"/><path d="M113.0 521.0h0M104.4 549.5h0M104.6 517.9h0M98.8 530.2h0M112.6 511.9h0M90.5 536.7h0M109.2 500.9h0M151.9 503.6h0M93.9 524.4h0M112.9 511.4h0M94.2 537.0h0M166.0 533.3h0M165.4 532.4h0M146.6 521.3h0M104.4 516.1h0M165.4 513.8h0M110.1 512.9h0M146.2 511.8h0M101.2 504.2h0M166.1 520.7h0" stroke="#1c1c1c" stroke-width="2.50" stroke-linecap="round" stroke-opacity="0.62" fill="none"/><path d="M99.1 572.8h0M155.9 520.5h0M98.3 555.7h0M97.9 520.4h0M89.4 545.4h0M101.2 516.6h0M100.4 539.6h0M96.4 499.1h0M156.9 558.5h0M109.6 572.1h0M103.5 530.6h0M103.2 525.1h0M106.7 555.6h0M107.1 512.3h0M98.6 501.5h0M98.3 558.0h0M154.9 519.0h0M151.0 526.3h0M90.1 520.2h0M162.8 534.7h0" stroke="#1c1c1c" stroke-width="2.50" stroke-linecap="round" stroke-opacity="0.62" fill="none"/><path d="M89.2 521.2h0M93.9 562.3h0M102.0 517.4h0M96.6 525.8h0M108.5 521.0h0M159.2 539.6h0M98.2 554.7h0M150.9 534.2h0M141.9 545.5h0M116.3 510.6h0M165.6 558.7h0M90.9 516.8h0M115.1 544.6h0M95.9 545.6h0M105.7 523.2h0M164.2 546.2h0M144.4 522.3h0M94.6 510.6h0M143.3 541.8h0M110.7 515.8h0" stroke="#1c1c1c" stroke-width="2.50" stroke-linecap="round" stroke-opacity="0.62" fill="none"/><path d="M104.2 544.4h0M163.4 536.4h0M145.1 517.8h0M142.5 529.4h0M149.1 544.7h0M97.8 534.4h0M105.8 534.4h0M161.0 525.7h0M153.2 514.2h0M147.7 519.8h0M162.5 512.0h0M154.1 511.6h0M113.4 517.5h0M107.1 536.9h0M98.8 569.4h0M159.6 541.2h0M103.4 510.8h0M93.6 522.5h0M111.1 514.1h0M101.4 586.3h0" stroke="#1c1c1c" stroke-width="2.50" stroke-linecap="round" stroke-opacity="0.62" fill="none"/><path d="M151.2 521.3h0M97.7 515.5h0M144.6 538.3h0M111.2 519.2h0M160.5 543.3h0M155.2 516.7h0M107.3 530.4h0M146.8 533.0h0M100.1 555.2h0M111.3 518.0h0M109.4 525.8h0M156.6 529.7h0M112.9 548.6h0M88.5 507.5h0M100.0 516.7h0M96.7 515.2h0M97.6 512.5h0M100.1 578.6h0M91.6 551.7h0M141.2 524.2h0" stroke="#1c1c1c" stroke-width="2.50" stroke-linecap="round" stroke-opacity="0.62" fill="none"/><path d="M110.4 517.6h0M96.1 541.4h0M102.2 529.0h0M102.4 559.8h0M98.1 523.2h0M140.5 537.6h0M153.1 531.0h0M99.0 566.4h0M94.4 558.6h0M89.4 514.4h0M98.3 520.2h0M88.7 546.5h0M96.2 527.3h0M157.4 524.0h0M102.6 515.0h0M99.6 560.5h0M93.6 512.1h0M111.7 521.1h0M115.7 521.1h0M97.1 518.2h0" stroke="#1c1c1c" stroke-width="2.50" stroke-linecap="round" stroke-opacity="0.62" fill="none"/><path d="M113.9 516.9h0M112.6 509.9h0M149.6 519.4h0M141.2 561.6h0M147.0 531.7h0M101.2 548.7h0M104.9 521.3h0M112.8 512.9h0M165.0 536.1h0M101.6 525.4h0M92.2 510.8h0M95.9 505.6h0M97.8 557.5h0M110.5 512.0h0M145.1 523.1h0M151.0 524.9h0M94.9 514.7h0M93.1 536.5h0M194.4 510.3h0M149.1 517.4h0" stroke="#1c1c1c" stroke-width="2.50" stroke-linecap="round" stroke-opacity="0.62" fill="none"/><path d="M100.9 523.3h0M161.6 514.7h0M144.2 507.2h0M95.2 537.6h0M158.5 535.7h0M143.2 521.3h0M109.3 536.2h0M97.0 555.9h0M115.4 522.1h0M95.5 557.5h0M110.4 505.7h0M167.1 525.4h0M95.5 538.6h0M106.3 511.3h0M93.3 514.4h0M104.2 521.3h0M100.0 510.1h0M111.3 510.8h0M157.2 530.0h0M105.2 522.2h0" stroke="#1c1c1c" stroke-width="2.50" stroke-linecap="round" stroke-opacity="0.62" fill="none"/><path d="M142.8 544.1h0M104.8 588.6h0M99.2 546.5h0M165.5 531.1h0M144.2 558.9h0M103.3 510.6h0M112.1 561.1h0M158.7 548.4h0M95.3 517.5h0M96.7 542.2h0M167.0 575.5h0M102.5 532.9h0M97.0 558.0h0M108.8 528.6h0M161.2 525.8h0M155.7 515.8h0M101.2 515.8h0M102.6 554.0h0M105.4 561.4h0M101.5 568.8h0" stroke="#1c1c1c" stroke-width="2.50" stroke-linecap="round" stroke-opacity="0.62" fill="none"/><path d="M104.0 516.1h0M95.8 509.7h0M101.8 551.2h0M113.4 541.1h0M114.8 540.4h0M95.8 537.7h0M146.3 520.9h0M158.5 587.6h0M103.5 518.1h0M151.6 543.8h0M140.8 539.0h0M154.1 575.5h0M154.9 540.7h0M140.6 521.2h0M112.9 580.3h0M154.1 536.0h0M92.8 516.8h0M115.7 587.5h0M199.4 512.6h0M94.7 547.0h0" stroke="#1c1c1c" stroke-width="2.50" stroke-linecap="round" stroke-opacity="0.62" fill="none"/><path d="M90.4 524.7h0M142.6 502.4h0M115.2 525.6h0M113.6 520.2h0M141.1 586.7h0M115.0 508.2h0M98.9 514.2h0M145.9 530.3h0M116.1 542.1h0M94.0 515.3h0M163.3 512.7h0M108.1 525.7h0M150.0 521.0h0M166.3 518.3h0M94.8 513.8h0M104.2 565.5h0M100.5 571.6h0M148.5 514.5h0M148.4 546.1h0M95.5 531.3h0" stroke="#1c1c1c" stroke-width="2.50" stroke-linecap="round" stroke-opacity="0.62" fill="none"/><path d="M147.8 513.3h0M110.8 514.0h0M114.5 537.3h0M205.2 506.5h0M99.0 517.7h0M165.7 521.1h0M97.4 540.5h0M101.6 543.0h0M94.3 584.9h0M91.0 571.9h0M151.2 516.2h0M158.7 567.2h0M91.2 542.5h0M101.2 512.4h0M110.5 510.9h0M100.4 519.0h0M116.3 576.5h0M157.0 520.9h0M159.9 528.7h0M156.2 579.8h0" stroke="#1c1c1c" stroke-width="2.50" stroke-linecap="round" stroke-opacity="0.62" fill="none"/><path d="M116.5 504.3h0M92.3 574.8h0M114.7 583.3h0M103.4 514.0h0M91.9 520.2h0M149.1 534.9h0M151.9 511.3h0M88.5 573.7h0M113.2 581.7h0M104.3 534.4h0M107.8 523.2h0M88.9 511.1h0M90.1 515.1h0M167.3 533.3h0M159.3 526.2h0M90.8 577.7h0M164.3 536.7h0M150.9 527.1h0M89.0 514.7h0M107.7 512.5h0" stroke="#1c1c1c" stroke-width="2.50" stroke-linecap="round" stroke-opacity="0.62" fill="none"/><path d="M102.1 509.6h0M91.9 507.1h0M115.3 517.4h0M115.9 560.6h0M95.8 524.3h0M161.5 533.3h0M165.9 527.6h0M99.9 517.8h0M152.8 536.2h0M99.4 547.2h0M98.9 510.1h0M94.4 511.5h0M109.7 520.6h0M92.1 532.6h0M109.5 513.7h0M165.9 556.9h0M162.4 540.0h0M142.9 511.9h0M97.6 529.8h0M193.0 524.6h0" stroke="#1c1c1c" stroke-width="2.50" stroke-linecap="round" stroke-opacity="0.62" fill="none"/><path d="M216.1 513.8h0M148.5 539.3h0M88.9 537.9h0M114.6 547.3h0M89.2 511.9h0M163.9 529.8h0M104.1 571.6h0M92.5 510.9h0M99.0 514.0h0M153.0 533.6h0M152.8 509.8h0M101.7 537.2h0M143.2 522.0h0M149.8 554.7h0M104.5 529.7h0M105.8 513.7h0M212.9 517.3h0M110.4 531.6h0M105.5 548.3h0M89.7 525.0h0" stroke="#1c1c1c" stroke-width="2.50" stroke-linecap="round" stroke-opacity="0.62" fill="none"/><path d="M140.2 531.4h0M160.2 513.6h0M154.6 531.8h0M92.7 575.1h0M92.8 512.8h0M89.3 549.9h0M114.5 577.7h0M113.8 516.3h0M145.0 518.1h0M154.8 527.5h0M106.9 523.8h0M103.2 544.3h0M147.7 533.2h0M111.8 563.8h0M153.6 528.7h0M162.5 541.9h0M90.7 536.3h0M153.1 524.1h0M93.3 529.0h0M101.9 514.2h0" stroke="#1c1c1c" stroke-width="2.50" stroke-linecap="round" stroke-opacity="0.62" fill="none"/><path d="M161.8 521.3h0M140.5 516.1h0M91.9 544.7h0M158.9 539.5h0M110.2 558.9h0M110.8 535.6h0" stroke="#1c1c1c" stroke-width="2.50" stroke-linecap="round" stroke-opacity="0.62" fill="none"/>
<rect x="71.4" y="490.7" width="166.1" height="107.90000000000003" fill="none" stroke="#999" stroke-width="0.6"/>
<line x1="237.5" y1="490.7" x2="237.5" y2="598.6" stroke="#555" stroke-width="0.7"/>
<line x1="71.4" y1="598.6" x2="237.5" y2="598.6" stroke="#555" stroke-width="0.7"/>
<text x="68.50" y="592.50" font-size="7.0" fill="#444" text-anchor="end" >0</text>
<line x1="69.4" y1="590.0" x2="71.4" y2="590.0" stroke="#444" stroke-width="0.6"/>
<text x="68.50" y="563.70" font-size="7.0" fill="#444" text-anchor="end" >2</text>
<line x1="69.4" y1="561.2" x2="71.4" y2="561.2" stroke="#444" stroke-width="0.6"/>
<text x="68.50" y="534.90" font-size="7.0" fill="#444" text-anchor="end" >4</text>
<line x1="69.4" y1="532.4" x2="71.4" y2="532.4" stroke="#444" stroke-width="0.6"/>
<text x="68.50" y="506.10" font-size="7.0" fill="#444" text-anchor="end" >6</text>
<line x1="69.4" y1="503.6" x2="71.4" y2="503.6" stroke="#444" stroke-width="0.6"/>
<line x1="102.5" y1="598.6" x2="102.5" y2="600.6" stroke="#444" stroke-width="0.6"/>
<line x1="153.9" y1="598.6" x2="153.9" y2="600.6" stroke="#444" stroke-width="0.6"/>
<line x1="203.7" y1="598.6" x2="203.7" y2="600.6" stroke="#444" stroke-width="0.6"/>
<text transform="translate(104.00,606.00) rotate(-30)" font-size="7.8" fill="#444" text-anchor="end" >Primary</text>
<text transform="translate(156.50,606.00) rotate(-30)" font-size="7.8" fill="#444" text-anchor="end" >Recurrent</text>
<text transform="translate(207.60,606.00) rotate(-30)" font-size="7.8" fill="#444" text-anchor="end" >Secondary</text>
<text transform="translate(60.00,545.00) rotate(-90)" font-size="5.4" fill="#111" text-anchor="middle" textLength="60.2" lengthAdjust="spacingAndGlyphs" stroke="#111" stroke-width="0.1" >mRNA expression (log2)</text>
<path d="M153.3 475.7 L153.3 467.3 L204.5 467.3 L204.5 475.7" fill="none" stroke="#111" stroke-width="1.3"/>
<text x="179.70" y="469.50" font-size="11.5" fill="#111" text-anchor="middle" font-weight="bold" >***</text>
<path d="M102.0 490.6 L102.0 481.6 L204.5 481.6 L204.5 490.6" fill="none" stroke="#111" stroke-width="1.3"/>
<text x="151.80" y="484.40" font-size="11.5" fill="#111" text-anchor="middle" font-weight="bold" >***</text>
<text transform="translate(42.60,500.50) rotate(-90)" font-size="24.0" fill="#000" font-style="italic" textLength="74" lengthAdjust="spacingAndGlyphs" stroke="#000" stroke-width="0.9" >PRKDC</text>
<text x="388.40" y="324.10" font-size="9.9" fill="#111" textLength="159.55" lengthAdjust="spacingAndGlyphs" stroke="#111" stroke-width="0.22" >Kaplan Meier Survival Estimates</text>
<line x1="388.4" y1="331.5" x2="388.4" y2="458.6" stroke="#111" stroke-width="1.0"/>
<line x1="387.9" y1="458.1" x2="680.3" y2="458.1" stroke="#111" stroke-width="1.0"/>
<line x1="386.2" y1="336.9" x2="388.4" y2="336.9" stroke="#111" stroke-width="0.8"/>
<text x="384.50" y="340.00" font-size="8.3" fill="#222" text-anchor="end" textLength="23.73" lengthAdjust="spacingAndGlyphs" stroke="#222" stroke-width="0.22" >100%</text>
<line x1="386.2" y1="366.1" x2="388.4" y2="366.1" stroke="#111" stroke-width="0.8"/>
<text x="384.50" y="369.15" font-size="8.3" fill="#222" text-anchor="end" textLength="18.45" lengthAdjust="spacingAndGlyphs" stroke="#222" stroke-width="0.22" >75%</text>
<line x1="386.2" y1="395.2" x2="388.4" y2="395.2" stroke="#111" stroke-width="0.8"/>
<text x="384.50" y="398.30" font-size="8.3" fill="#222" text-anchor="end" textLength="18.45" lengthAdjust="spacingAndGlyphs" stroke="#222" stroke-width="0.22" >50%</text>
<line x1="386.2" y1="424.4" x2="388.4" y2="424.4" stroke="#111" stroke-width="0.8"/>
<text x="384.50" y="427.45" font-size="8.3" fill="#222" text-anchor="end" textLength="18.45" lengthAdjust="spacingAndGlyphs" stroke="#222" stroke-width="0.22" >25%</text>
<line x1="386.2" y1="453.5" x2="388.4" y2="453.5" stroke="#111" stroke-width="0.8"/>
<text x="384.50" y="456.60" font-size="8.3" fill="#222" text-anchor="end" textLength="13.17" lengthAdjust="spacingAndGlyphs" stroke="#222" stroke-width="0.22" >0%</text>
<line x1="401.5" y1="458.1" x2="401.5" y2="460.3" stroke="#111" stroke-width="0.8"/>
<text x="401.50" y="469.50" font-size="8.3" fill="#222" text-anchor="middle" textLength="5.28" lengthAdjust="spacingAndGlyphs" stroke="#222" stroke-width="0.22" >0</text>
<line x1="499.4" y1="458.1" x2="499.4" y2="460.3" stroke="#111" stroke-width="0.8"/>
<text x="499.45" y="469.50" font-size="8.3" fill="#222" text-anchor="middle" textLength="10.56" lengthAdjust="spacingAndGlyphs" stroke="#222" stroke-width="0.22" >50</text>
<line x1="597.4" y1="458.1" x2="597.4" y2="460.3" stroke="#111" stroke-width="0.8"/>
<text x="597.40" y="469.50" font-size="8.3" fill="#222" text-anchor="middle" textLength="15.84" lengthAdjust="spacingAndGlyphs" stroke="#222" stroke-width="0.22" >100</text>
<text x="534.50" y="479.50" font-size="8.6" fill="#222" text-anchor="middle" textLength="97.71" lengthAdjust="spacingAndGlyphs" stroke="#222" stroke-width="0.22" >Survival time (Months)</text>
<path d="M401.5 336.9 H407.0 V340.0 H409.1 V342.8 H411.3 V345.5 H413.4 V348.2 H414.4 V351.1 H415.3 V353.9 H416.3 V356.8 H417.2 V359.7 H418.2 V362.6 H419.1 V365.4 H420.1 V368.3 H421.1 V371.2 H422.1 V374.1 H423.0 V377.0 H424.3 V380.2 H425.6 V383.4 H426.9 V386.7 H428.2 V389.9 H429.5 V393.1 H432.7 V396.3 H436.0 V399.5 H438.0 V402.6 H440.1 V405.7 H441.3 V408.4 H442.4 V411.1 H443.6 V413.7 H446.0 V416.3 H448.3 V418.9 H450.7 V421.6 H452.9 V423.4 H455.2 V425.2 H461.4 V427.0 H466.8 V430.0 H472.2 V433.0 H477.6 V435.3 H483.0 V437.6 H488.3 V440.6 H504.3 V442.3 H522.4 V443.8 H540.2 V444.8 H554.3 V445.9 H600.9 V447.4 H667.1 V447.7" fill="none" stroke="#ec5b55" stroke-width="1.85"/>
<path d="M401.5 336.9 H407.0 V338.5 H410.1 V341.7 H411.8 V344.9 H413.4 V348.1 H415.0 V351.4 H416.1 V354.6 H417.1 V357.8 H418.2 V361.0 H419.3 V364.2 H420.4 V367.4 H421.5 V370.6 H422.3 V373.4 H423.0 V376.3 H423.8 V379.1 H424.6 V381.9 H429.5 H431.1 V384.3 H432.6 V386.7 H435.1 V389.1 H437.5 V391.5 H439.9 V393.9 H442.2 V396.4 H444.7 V398.8 H447.1 V401.1 H449.5 V403.6 H451.8 V406.0 H454.9 V409.4 H457.9 V412.7 H463.3 V415.0 H468.7 V417.4 H523.3 H523.3 V420.4 H523.3 V423.4 H528.6 H528.6 V426.4 H528.6 V429.5 H578.8" fill="none" stroke="#4acfc6" stroke-width="1.85"/>
<text x="404.20" y="434.20" font-size="9.5" fill="#111" textLength="47.23" lengthAdjust="spacingAndGlyphs" stroke="#111" stroke-width="0.22" >p = 0.027</text>
<text x="575.30" y="352.60" font-size="8.5" fill="#222" textLength="50.2" lengthAdjust="spacingAndGlyphs" stroke="#222" stroke-width="0.22" >Cutoff: 3.03</text>
<line x1="576.8" y1="361.6" x2="585.8" y2="361.6" stroke="#ec5b55" stroke-width="1.7"/>
<text x="588.20" y="364.80" font-size="8.5" fill="#222" textLength="51.32" lengthAdjust="spacingAndGlyphs" stroke="#222" stroke-width="0.22" >PRKDC High</text>
<line x1="576.8" y1="373.3" x2="585.8" y2="373.3" stroke="#4acfc6" stroke-width="1.7"/>
<text x="588.20" y="376.40" font-size="8.5" fill="#222" textLength="48.53" lengthAdjust="spacingAndGlyphs" stroke="#222" stroke-width="0.22" >PRKDC Low</text>
<text transform="translate(337.00,393.90) rotate(-90)" font-size="17.4" fill="#000" text-anchor="middle" textLength="67.24" lengthAdjust="spacingAndGlyphs" stroke="#000" stroke-width="0.35" >Primary</text>
<text transform="translate(354.50,395.00) rotate(-90)" font-size="8.5" fill="#222" text-anchor="middle" textLength="39.85" lengthAdjust="spacingAndGlyphs" stroke="#222" stroke-width="0.22" >Surviving</text>
<line x1="388.5" y1="486.6" x2="388.5" y2="619.0" stroke="#111" stroke-width="1.0"/>
<line x1="388.0" y1="618.5" x2="678.5" y2="618.5" stroke="#111" stroke-width="1.0"/>
<line x1="386.3" y1="492.5" x2="388.5" y2="492.5" stroke="#111" stroke-width="0.8"/>
<text x="384.60" y="495.60" font-size="8.3" fill="#222" text-anchor="end" textLength="23.73" lengthAdjust="spacingAndGlyphs" stroke="#222" stroke-width="0.22" >100%</text>
<line x1="386.3" y1="522.7" x2="388.5" y2="522.7" stroke="#111" stroke-width="0.8"/>
<text x="384.60" y="525.75" font-size="8.3" fill="#222" text-anchor="end" textLength="18.45" lengthAdjust="spacingAndGlyphs" stroke="#222" stroke-width="0.22" >75%</text>
<line x1="386.3" y1="552.8" x2="388.5" y2="552.8" stroke="#111" stroke-width="0.8"/>
<text x="384.60" y="555.90" font-size="8.3" fill="#222" text-anchor="end" textLength="18.45" lengthAdjust="spacingAndGlyphs" stroke="#222" stroke-width="0.22" >50%</text>
<line x1="386.3" y1="583.0" x2="388.5" y2="583.0" stroke="#111" stroke-width="0.8"/>
<text x="384.60" y="586.05" font-size="8.3" fill="#222" text-anchor="end" textLength="18.45" lengthAdjust="spacingAndGlyphs" stroke="#222" stroke-width="0.22" >25%</text>
<line x1="386.3" y1="613.1" x2="388.5" y2="613.1" stroke="#111" stroke-width="0.8"/>
<text x="384.60" y="616.20" font-size="8.3" fill="#222" text-anchor="end" textLength="13.17" lengthAdjust="spacingAndGlyphs" stroke="#222" stroke-width="0.22" >0%</text>
<line x1="402.2" y1="618.5" x2="402.2" y2="620.7" stroke="#111" stroke-width="0.8"/>
<text x="402.20" y="629.30" font-size="8.3" fill="#222" text-anchor="middle" textLength="5.28" lengthAdjust="spacingAndGlyphs" stroke="#222" stroke-width="0.22" >0</text>
<line x1="470.4" y1="618.5" x2="470.4" y2="620.7" stroke="#111" stroke-width="0.8"/>
<text x="470.40" y="629.30" font-size="8.3" fill="#222" text-anchor="middle" textLength="10.56" lengthAdjust="spacingAndGlyphs" stroke="#222" stroke-width="0.22" >20</text>
<line x1="538.6" y1="618.5" x2="538.6" y2="620.7" stroke="#111" stroke-width="0.8"/>
<text x="538.60" y="629.30" font-size="8.3" fill="#222" text-anchor="middle" textLength="10.56" lengthAdjust="spacingAndGlyphs" stroke="#222" stroke-width="0.22" >40</text>
<line x1="606.8" y1="618.5" x2="606.8" y2="620.7" stroke="#111" stroke-width="0.8"/>
<text x="606.80" y="629.30" font-size="8.3" fill="#222" text-anchor="middle" textLength="10.56" lengthAdjust="spacingAndGlyphs" stroke="#222" stroke-width="0.22" >60</text>
<line x1="675.0" y1="618.5" x2="675.0" y2="620.7" stroke="#111" stroke-width="0.8"/>
<text x="675.00" y="629.30" font-size="8.3" fill="#222" text-anchor="middle" textLength="10.56" lengthAdjust="spacingAndGlyphs" stroke="#222" stroke-width="0.22" >80</text>
<text x="533.60" y="638.90" font-size="8.6" fill="#222" text-anchor="middle" textLength="97.71" lengthAdjust="spacingAndGlyphs" stroke="#222" stroke-width="0.22" >Survival time (Months)</text>
<path d="M402.2 492.5 H404.4 V494.4 H406.6 V496.4 H411.1 V499.3 H411.2 V502.2 H411.3 V505.1 H411.5 V508.0 H411.6 V510.9 H411.7 V513.8 H414.3 V516.7 H416.9 V519.6 H417.4 V522.6 H418.0 V525.5 H418.5 V528.4 H419.0 V531.3 H419.6 V534.2 H420.6 V537.6 H421.6 V541.1 H422.7 V544.5 H427.1 V547.4 H428.0 V550.8 H428.9 V554.2 H429.8 V557.6 H430.8 V561.0 H431.9 V564.4 H432.9 V567.8 H434.4 V570.2 H435.8 V572.7 H437.3 V575.1 H439.5 V578.1 H441.8 V581.0 H443.8 V583.1 H445.8 V585.2 H448.7 V587.2 H451.6 V589.1 H457.8 V592.6 H459.8 V595.6 H461.9 V598.5 H466.3 V600.8 H478.2 H478.2 V603.1 H484.7 H484.7 V605.3 H537.2 H537.2 V607.9 H537.2 V610.5 H537.2 V613.1" fill="none" stroke="#ec5b55" stroke-width="1.85"/>
<path d="M402.2 492.5 H408.0 V493.3 H409.5 V495.5 H411.1 V497.7 H413.5 V500.1 H415.8 V502.6 H418.2 V505.0 H419.3 V508.3 H420.4 V511.6 H421.6 V514.9 H422.7 V518.2 H423.6 V520.6 H424.5 V523.1 H425.4 V525.5 H427.6 V528.4 H429.8 V531.3 H431.3 V533.7 H432.8 V536.2 H434.3 V538.6 H435.3 V541.5 H436.3 V544.4 H437.3 V547.4 H438.2 V549.8 H439.1 V552.3 H440.1 V554.7 H442.9 V556.8 H445.8 V559.0 H448.7 V561.2 H451.6 V563.4 H455.4 V565.6 H459.1 V567.8 H466.6 V568.6 H466.6 V572.2 H466.6 V575.8 H482.3 H482.3 V578.4 H491.2 H491.2 V581.0 H517.5 H517.5 V583.3 H517.5 V585.6 H532.5 H532.5 V588.3 H532.5 V590.9 H578.8 H578.8 V593.7 H578.8 V596.5 H646.7 H646.7 V599.3 H646.7 V602.1 H665.5" fill="none" stroke="#4acfc6" stroke-width="1.85"/>
<text x="397.50" y="592.80" font-size="9.6" fill="#111" textLength="59.94" lengthAdjust="spacingAndGlyphs" stroke="#111" stroke-width="0.22" >p = 0.00047</text>
<text x="574.20" y="508.80" font-size="8.5" fill="#222" textLength="50.2" lengthAdjust="spacingAndGlyphs" stroke="#222" stroke-width="0.22" >Cutoff: 4.64</text>
<line x1="575.6" y1="518.0" x2="585.0" y2="518.0" stroke="#ec5b55" stroke-width="1.7"/>
<text x="587.40" y="520.90" font-size="8.5" fill="#222" textLength="51.32" lengthAdjust="spacingAndGlyphs" stroke="#222" stroke-width="0.22" >PRKDC High</text>
<line x1="575.6" y1="529.8" x2="585.0" y2="529.8" stroke="#4acfc6" stroke-width="1.7"/>
<text x="587.40" y="533.30" font-size="8.5" fill="#222" textLength="48.53" lengthAdjust="spacingAndGlyphs" stroke="#222" stroke-width="0.22" >PRKDC Low</text>
<text transform="translate(337.30,549.80) rotate(-90)" font-size="17.4" fill="#000" text-anchor="middle" textLength="84.78" lengthAdjust="spacingAndGlyphs" stroke="#000" stroke-width="0.35" >Recurrent</text>
<text transform="translate(354.70,552.70) rotate(-90)" font-size="8.5" fill="#222" text-anchor="middle" textLength="39.85" lengthAdjust="spacingAndGlyphs" stroke="#222" stroke-width="0.22" >Surviving</text>
<rect x="42.9" y="675.4" width="162.5" height="13.1" fill="#fff" stroke="#333" stroke-width="0.8"/>
<text x="82.40" y="683.70" font-size="6.0" fill="#111" font-weight="bold" textLength="83" lengthAdjust="spacingAndGlyphs" stroke="#111" stroke-width="0.15" >Cerebral Cortex in Normal Tissue</text>
<rect x="209.2" y="675.7" width="164.1" height="13.5" fill="#fff" stroke="#333" stroke-width="0.8"/>
<text x="230.30" y="683.90" font-size="6.0" fill="#111" font-weight="bold" textLength="121.8" lengthAdjust="spacingAndGlyphs" stroke="#111" stroke-width="0.15" >Cerebral Cortex in High Grade Malignant Glioma</text>
<rect x="42" y="692.4" width="79.4" height="72.1" fill="#f4f4f6" stroke="#666" stroke-width="0.7"/>
<rect x="125.6" y="692.4" width="78.20000000000002" height="72.1" fill="#f4f4f6" stroke="#666" stroke-width="0.7"/>
<rect x="208.3" y="692.4" width="79.69999999999999" height="72.1" fill="#f4f4f6" stroke="#666" stroke-width="0.7"/>
<rect x="291.5" y="692.4" width="81.19999999999999" height="72.1" fill="#f4f4f6" stroke="#666" stroke-width="0.7"/>
<clipPath id="cp101"><ellipse cx="83.1" cy="727.8" rx="31.9" ry="33.0"/></clipPath>
<ellipse cx="83.1" cy="727.8" rx="31.9" ry="33.0" fill="#dad2d0"/>
<g clip-path="url(#cp101)"><path d="M95.8 734.0h0M86.2 712.3h0M61.6 743.0h0M93.4 716.7h0M92.3 717.5h0M114.1 722.7h0M65.3 706.0h0M107.9 723.7h0M82.6 697.2h0M112.1 734.6h0M52.2 734.0h0M101.4 742.5h0M62.5 709.9h0M79.7 717.1h0M59.7 705.9h0M72.8 710.7h0M63.2 729.2h0M78.6 743.0h0M93.0 731.4h0M105.5 744.9h0M81.3 699.0h0M62.5 749.1h0M57.3 718.7h0M82.3 724.4h0M85.8 714.4h0M75.4 748.2h0M64.6 738.3h0M76.8 709.5h0M66.2 726.0h0M92.2 719.5h0M85.1 698.7h0M112.6 722.8h0M98.0 729.6h0M99.3 737.4h0M56.3 719.3h0M68.6 748.7h0M68.9 703.9h0M92.9 698.9h0M111.8 738.7h0M102.7 703.2h0M92.0 698.9h0M107.7 711.7h0M65.6 705.3h0M58.6 740.6h0M82.8 756.7h0M101.6 718.1h0M90.8 724.8h0M93.2 701.9h0M54.5 726.2h0M76.5 701.7h0M75.1 750.1h0M106.6 741.0h0M88.1 756.5h0M111.4 729.2h0M98.6 748.7h0M85.7 734.9h0M69.3 754.8h0M59.0 739.1h0M109.4 712.1h0M98.8 740.4h0M80.7 721.2h0M95.0 701.8h0M87.5 760.1h0M73.9 741.1h0M83.7 721.6h0M78.6 746.9h0M85.7 712.2h0M106.4 743.0h0M57.2 727.0h0M109.1 738.8h0M53.8 734.8h0M104.4 704.5h0M104.5 710.9h0M85.0 730.3h0M85.0 707.9h0M101.7 737.9h0M71.4 698.8h0M77.6 698.3h0M79.8 707.3h0M71.7 746.4h0M107.1 717.3h0M93.2 741.1h0M110.4 710.8h0M108.9 745.4h0M107.0 744.1h0M103.2 712.4h0M89.9 696.0h0M61.7 745.8h0M71.0 736.0h0M101.0 727.9h0M99.9 707.3h0M74.7 733.8h0M105.3 714.7h0M58.9 745.9h0M80.4 737.4h0M99.1 715.7h0M95.9 723.7h0M108.1 739.2h0M98.4 745.5h0M80.8 703.7h0M74.1 726.5h0M100.7 750.4h0M82.3 733.8h0M88.4 714.0h0M84.1 714.7h0M94.9 743.3h0M90.5 718.5h0M81.0 707.0h0M68.5 745.6h0M85.6 757.3h0M68.6 751.3h0M87.4 757.9h0M98.4 723.9h0M97.5 709.9h0M83.9 720.2h0M89.7 698.8h0M54.2 740.7h0M67.7 737.4h0M80.0 740.1h0M79.8 752.6h0M65.9 722.2h0M58.4 738.3h0M53.8 729.4h0M106.2 737.5h0M76.8 722.5h0M107.4 737.9h0M66.8 735.7h0M93.2 731.2h0M96.2 719.5h0M100.7 751.2h0M92.2 713.5h0M97.6 743.4h0M99.4 753.6h0M76.4 734.5h0M68.2 724.4h0M57.6 714.6h0M102.8 753.2h0M64.9 706.8h0M66.5 737.7h0M69.3 744.1h0M101.6 712.2h0M84.0 720.2h0M57.6 726.1h0M97.0 735.1h0M82.1 745.1h0M94.3 750.8h0M107.8 719.9h0M58.8 736.6h0M109.4 736.1h0M73.8 700.7h0M79.6 725.0h0M64.8 710.5h0M86.8 711.7h0M79.3 718.2h0M110.6 714.5h0M93.0 741.5h0M90.4 704.0h0M81.2 711.9h0M55.5 735.9h0M55.2 739.0h0M75.4 721.2h0M74.2 755.9h0" stroke="#9c8074" stroke-width="0.90" stroke-linecap="round" fill="none"/><path d="M57.7 733.3h0M61.1 736.0h0M107.0 729.3h0M102.2 712.7h0M86.2 715.9h0M83.7 745.3h0M84.3 745.0h0M88.6 754.1h0M57.9 725.6h0M110.4 723.2h0M76.4 730.6h0M68.6 751.7h0M81.6 743.8h0M68.8 708.9h0M80.4 701.3h0M80.0 702.7h0M77.2 729.8h0M107.7 708.4h0M67.8 755.4h0M63.5 717.2h0M103.3 727.0h0M100.4 726.2h0M100.6 714.3h0M84.5 699.1h0M66.3 733.0h0M84.6 728.4h0M79.2 760.1h0M65.4 709.3h0M68.5 745.0h0M87.6 735.6h0M99.2 729.1h0M59.2 723.2h0M85.6 734.8h0M88.2 717.7h0M51.9 731.4h0M99.1 731.8h0M95.6 725.8h0M54.6 722.6h0M83.0 749.8h0M85.6 725.3h0M63.2 709.7h0M59.1 749.5h0M93.6 748.4h0M72.3 738.6h0M93.8 749.3h0M82.7 706.5h0M63.1 749.5h0M72.2 734.1h0M72.5 728.6h0M104.0 714.4h0M66.9 755.8h0M112.9 735.9h0M93.8 717.8h0M56.0 730.7h0M69.9 704.7h0M88.9 741.3h0M93.0 738.6h0M72.0 729.1h0M81.0 719.1h0M63.5 707.1h0M86.2 709.1h0M77.3 698.6h0M55.5 719.1h0M73.3 740.9h0M111.3 714.3h0M83.0 759.5h0M56.6 734.5h0M92.5 748.9h0M101.7 718.9h0M108.4 720.9h0M77.5 699.2h0M62.0 721.6h0M65.4 746.2h0M100.3 736.6h0M94.7 708.4h0M78.2 722.8h0M96.3 727.3h0M66.0 723.3h0M87.1 750.7h0M95.7 715.3h0M60.4 711.8h0M61.1 727.6h0M76.1 716.7h0M98.9 748.5h0M82.1 713.8h0M64.3 701.7h0M82.0 744.2h0M56.1 740.1h0M100.4 728.0h0M52.0 735.0h0M76.1 752.6h0M102.2 729.9h0M80.2 731.0h0M64.9 716.5h0M77.5 737.8h0M58.4 745.0h0M83.4 704.5h0M60.9 730.8h0M83.0 714.9h0M81.0 696.7h0M61.1 711.2h0M67.6 743.7h0M64.0 748.7h0M94.6 740.4h0M80.8 747.9h0M112.3 724.4h0M68.4 731.2h0M69.5 738.5h0M76.8 712.8h0M96.7 720.7h0M83.8 737.1h0M78.1 747.4h0M62.5 745.1h0M104.7 743.6h0M69.2 732.8h0M81.3 750.0h0M68.7 708.8h0M102.4 725.5h0M80.6 710.4h0M66.3 735.7h0M92.9 715.6h0M108.1 747.1h0M103.0 725.9h0M70.0 737.9h0M73.6 734.6h0M68.3 743.1h0M84.0 739.5h0M57.1 738.5h0M76.1 707.9h0M81.5 724.7h0M53.8 716.7h0M110.1 737.9h0M65.0 737.2h0M81.8 737.5h0M80.1 700.5h0M87.2 720.3h0M114.3 732.9h0M73.5 722.2h0M98.2 712.9h0M67.6 746.4h0M67.6 754.2h0M82.8 745.6h0M88.6 751.4h0M96.5 698.7h0M57.9 716.2h0M58.3 747.6h0M79.9 733.8h0M87.0 742.7h0M86.5 716.0h0M67.0 741.5h0M106.2 713.2h0M95.0 720.3h0M61.4 735.6h0M54.2 721.4h0M74.2 701.4h0M78.5 751.3h0M78.6 712.1h0M96.9 704.7h0M66.2 727.8h0M62.3 714.6h0M70.2 706.3h0M79.3 738.3h0M106.9 749.3h0M111.5 715.4h0M80.2 710.6h0M108.9 734.7h0M111.6 731.6h0M68.3 704.7h0M76.9 755.4h0M69.9 706.0h0M64.9 708.1h0M69.0 735.6h0M84.6 726.4h0M78.4 751.3h0M66.3 753.1h0M100.6 718.9h0M75.8 741.1h0M68.9 726.1h0M74.3 751.9h0M108.6 738.7h0M65.0 749.8h0M72.6 723.3h0M71.3 740.0h0M96.8 717.2h0M105.1 721.6h0" stroke="#b49c94" stroke-width="0.90" stroke-linecap="round" fill="none"/><path d="M70.8 720.7h0M79.5 738.2h0M80.4 731.8h0M104.0 725.8h0M94.4 732.9h0M53.2 728.1h0M90.9 725.4h0M112.0 719.5h0M77.6 733.5h0M69.5 731.1h0M109.1 745.0h0M62.8 732.3h0M79.4 722.0h0M61.0 720.0h0M94.7 729.2h0M92.3 716.4h0M99.5 745.3h0M77.7 745.0h0M113.7 730.4h0M100.2 752.6h0M54.6 739.7h0M80.1 733.5h0M100.1 746.2h0M94.9 711.4h0M59.6 723.3h0M75.4 728.8h0M86.1 719.3h0M84.0 729.8h0M83.8 758.4h0M101.6 753.1h0M72.9 750.5h0M108.0 738.2h0M88.8 703.9h0M78.3 712.7h0M89.2 708.8h0M105.9 717.4h0M67.0 716.4h0M75.9 731.1h0M77.2 743.9h0M92.6 732.4h0M94.5 733.9h0M95.3 735.4h0M65.7 737.2h0M95.5 709.8h0M84.8 711.7h0M59.5 731.0h0M99.6 742.3h0M70.7 735.5h0M94.4 751.7h0M112.1 731.6h0M71.1 707.0h0M102.3 727.7h0M66.7 707.6h0M103.8 731.4h0M82.7 705.0h0M83.1 695.4h0M78.0 716.0h0M53.5 731.9h0M64.1 702.7h0M68.8 749.4h0M80.2 728.9h0M67.2 755.6h0M98.1 730.4h0M54.8 725.1h0M113.5 737.6h0M112.2 716.0h0M94.1 735.5h0M95.3 721.2h0M101.7 742.9h0M67.8 714.7h0M73.5 744.6h0M100.5 717.3h0M72.9 724.6h0M59.1 723.0h0M75.1 714.3h0M100.6 729.9h0M86.1 700.6h0M97.3 701.5h0M87.3 716.3h0M90.7 710.3h0M72.1 727.0h0M88.7 757.0h0M56.0 724.4h0M61.3 723.0h0M56.6 710.0h0M70.7 744.5h0M53.9 718.2h0M90.5 719.5h0M90.2 726.1h0M58.8 728.5h0M64.9 725.6h0M106.0 743.8h0M104.9 744.3h0M59.4 705.8h0M66.1 724.3h0M87.9 710.4h0M101.2 742.0h0M68.6 720.0h0M98.4 709.9h0M93.1 753.2h0M60.8 732.2h0M109.5 726.3h0M69.9 732.4h0M108.4 731.6h0M66.2 739.4h0M96.1 744.6h0M84.0 733.9h0M69.3 746.0h0M68.4 734.0h0M55.8 737.9h0M91.6 730.9h0M105.0 730.8h0M53.5 719.1h0M70.7 698.5h0M98.7 738.6h0M55.8 717.8h0M93.3 728.9h0M111.3 733.9h0M98.1 754.3h0M71.3 708.2h0M75.3 728.1h0M66.1 739.8h0M82.1 723.3h0M65.5 745.8h0M109.9 737.4h0M53.8 723.6h0M108.1 712.2h0M99.6 749.9h0M98.1 711.4h0M80.0 731.5h0M109.7 734.2h0M77.2 713.3h0M108.5 733.2h0M102.0 716.2h0M87.2 752.1h0M71.9 734.4h0M63.6 719.9h0M103.0 732.2h0M92.7 743.1h0M67.8 723.4h0M77.8 730.2h0M104.2 708.6h0M79.7 757.7h0M66.3 716.1h0M90.1 734.6h0M109.1 735.6h0M89.0 718.1h0M87.2 714.5h0M79.9 710.6h0M103.7 752.3h0M92.9 756.6h0M84.0 754.1h0M52.6 724.4h0M72.4 716.5h0M105.6 728.2h0M83.3 710.0h0M88.6 733.6h0M63.4 703.4h0M77.0 728.9h0M88.3 731.0h0M75.3 743.5h0M65.5 744.3h0M77.8 712.0h0M106.9 730.0h0M84.0 745.3h0M73.8 719.7h0M74.3 709.2h0" stroke="#c4b2ac" stroke-width="0.90" stroke-linecap="round" fill="none"/><path d="M58.6 708.9h0M77.9 713.6h0M65.2 731.1h0M76.0 731.7h0M67.8 701.1h0M57.0 721.9h0M88.9 718.1h0M95.8 721.0h0M108.4 729.8h0M70.1 699.7h0M72.4 744.6h0M84.3 749.5h0M113.4 737.9h0M109.8 719.0h0M87.0 695.8h0M71.7 697.4h0M107.6 748.7h0M97.8 753.7h0M78.0 712.5h0M62.4 741.8h0M77.3 726.8h0M87.8 696.9h0M95.0 720.7h0M76.3 711.7h0M91.5 738.0h0M83.4 704.7h0M86.6 699.6h0M91.0 727.7h0M80.5 747.0h0M102.8 705.1h0M91.2 738.0h0M112.7 726.7h0M65.4 752.9h0M105.2 721.5h0M89.5 734.4h0M66.5 712.0h0M90.3 702.5h0M90.6 726.2h0M66.3 724.6h0M58.6 746.0h0M79.1 709.1h0M82.9 698.0h0M61.5 742.9h0M62.8 726.0h0M75.9 712.9h0M79.6 714.2h0M63.6 710.7h0M93.9 750.9h0M109.6 722.7h0M76.9 718.9h0M77.8 739.3h0M85.1 721.7h0M78.8 737.4h0M90.3 696.1h0M103.5 737.3h0M99.2 723.1h0M71.0 697.5h0M97.7 714.7h0M101.3 720.9h0M74.4 752.0h0M96.3 717.5h0M66.5 745.0h0M93.3 706.5h0M66.8 746.5h0M60.9 728.4h0M92.0 732.3h0M83.9 745.1h0M82.8 753.1h0M57.8 715.0h0M97.9 702.9h0M74.4 717.3h0M68.9 727.6h0M95.0 702.0h0M92.5 758.9h0M88.2 755.3h0M109.9 720.9h0M55.4 737.0h0M81.9 698.8h0M69.5 726.7h0M76.1 712.7h0M67.1 702.9h0M70.4 747.3h0M66.2 752.1h0M68.0 700.6h0M97.6 742.0h0M53.7 723.0h0M71.4 716.6h0M51.9 725.3h0M54.9 728.2h0M59.9 715.6h0M96.6 715.3h0M67.9 721.4h0M74.6 729.3h0M73.4 744.9h0M78.7 709.2h0M80.9 727.0h0M68.1 702.0h0M95.1 724.6h0M69.3 753.2h0M67.5 708.8h0M93.2 725.1h0M108.6 732.1h0M83.1 713.1h0M66.9 742.9h0M95.9 710.0h0M69.6 729.1h0M84.7 716.8h0M112.6 721.5h0M57.7 708.7h0M81.3 741.5h0M73.2 732.9h0M100.1 743.3h0M109.6 736.2h0M103.3 723.6h0M91.5 740.1h0M84.0 742.0h0M73.5 731.2h0M65.2 716.2h0M102.8 707.7h0M82.5 709.6h0M84.0 745.8h0M96.8 734.8h0M86.8 701.5h0M72.2 732.2h0M105.0 726.1h0M61.7 707.6h0M56.0 719.6h0M111.8 721.4h0M90.0 742.0h0M109.5 714.2h0M87.3 702.1h0M62.3 740.6h0M81.3 733.8h0M92.1 698.8h0M67.5 748.5h0M86.9 707.8h0M54.5 732.6h0M77.7 735.3h0M92.7 721.7h0M75.6 701.8h0M111.4 723.7h0M72.3 755.0h0M96.5 725.4h0M78.8 747.8h0M79.9 757.6h0M68.3 739.1h0M84.2 741.5h0M59.1 745.8h0M94.8 714.4h0M87.4 712.5h0M98.5 726.5h0M108.4 721.9h0M57.1 732.0h0M74.9 710.9h0M79.7 707.4h0M83.9 731.1h0M95.5 698.1h0M66.5 707.9h0M83.8 716.7h0M104.3 720.0h0M69.6 714.7h0M100.8 704.8h0M80.0 696.0h0M65.9 754.5h0M90.3 713.5h0M52.2 723.6h0M76.9 706.6h0M96.0 721.5h0M104.1 743.3h0M78.3 746.1h0M89.6 714.8h0M82.2 746.1h0M83.0 709.9h0M65.0 724.5h0M97.9 709.6h0M97.2 732.3h0M99.2 755.4h0M100.8 709.1h0M83.3 738.0h0M73.8 734.2h0M81.3 704.7h0M110.3 718.6h0M63.2 719.6h0M70.0 707.3h0M74.8 723.7h0M59.0 729.0h0" stroke="#94786c" stroke-width="0.90" stroke-linecap="round" fill="none"/></g>
<clipPath id="cp102"><ellipse cx="165.0" cy="728.9" rx="33.7" ry="31.8"/></clipPath>
<ellipse cx="165.0" cy="728.9" rx="33.7" ry="31.8" fill="#dcd5da"/>
<g clip-path="url(#cp102)"><path d="M145.2 745.5h0M155.2 728.3h0M157.0 715.1h0M132.5 722.3h0M145.1 715.3h0M187.2 747.5h0M155.8 699.0h0M152.5 703.2h0M189.3 722.9h0M172.1 703.2h0M150.8 748.0h0M132.3 723.2h0M161.6 706.9h0M168.4 759.8h0M177.0 704.6h0M190.7 712.6h0M161.4 754.6h0M134.9 735.8h0M175.9 700.1h0M151.0 730.6h0M188.7 707.2h0M169.9 745.4h0M158.0 710.2h0M134.3 730.9h0M173.3 701.9h0M175.5 715.6h0M171.1 752.4h0M183.0 707.3h0M150.6 751.7h0M173.9 717.4h0M167.8 729.6h0M143.6 747.2h0M194.0 727.6h0M174.7 702.4h0M163.5 712.7h0M145.8 751.0h0M182.6 739.6h0M141.3 719.6h0M148.2 734.6h0M166.0 713.2h0M182.4 754.4h0M172.9 758.9h0M147.2 736.1h0M138.9 724.2h0M162.5 755.1h0M150.0 709.6h0M162.9 707.9h0M185.9 714.6h0M169.2 738.3h0M142.9 731.5h0M180.2 740.7h0M179.8 749.4h0M193.8 732.5h0M144.2 704.8h0M158.7 702.4h0M173.5 726.8h0M170.3 717.1h0M191.0 726.8h0M182.1 740.6h0M185.5 712.4h0M170.7 721.8h0M164.3 733.3h0M173.6 743.4h0M136.4 738.8h0M141.5 711.1h0M179.9 713.7h0M134.7 735.8h0M137.3 742.7h0M194.1 717.2h0M154.7 731.5h0M153.4 700.6h0M160.7 751.6h0M175.2 727.7h0M140.3 727.7h0M164.8 702.9h0M171.7 698.8h0M167.1 707.5h0M179.8 703.2h0M136.9 729.1h0M169.7 759.5h0M173.1 751.5h0M162.9 749.4h0M135.8 734.8h0M167.8 726.7h0M175.5 711.7h0M177.1 756.2h0M133.9 728.9h0M188.3 751.4h0M170.1 714.2h0M155.6 721.0h0M155.7 728.6h0M181.6 749.0h0M187.4 747.0h0M195.4 733.5h0M184.9 711.6h0M148.5 732.6h0M152.3 705.8h0M174.4 714.3h0M160.2 740.7h0M137.6 713.3h0M188.4 723.3h0M154.5 699.5h0M174.8 701.5h0M153.6 718.3h0M151.5 700.2h0M131.8 730.4h0M170.8 741.1h0M140.5 748.3h0M162.6 706.1h0M192.8 715.7h0M134.2 720.8h0M174.6 723.9h0M139.6 748.9h0M173.3 746.6h0M139.6 716.2h0M136.2 730.8h0M162.1 698.0h0M187.6 708.3h0M144.0 712.8h0M165.8 722.2h0M159.2 749.6h0M164.1 736.4h0M133.7 717.7h0M161.5 752.2h0M195.6 731.1h0M165.2 728.4h0M184.7 704.6h0M164.8 711.8h0M183.3 736.6h0M140.9 738.5h0M166.4 698.8h0M151.1 727.4h0M177.5 735.0h0M146.8 714.8h0M166.1 706.8h0M192.0 719.0h0M137.1 735.9h0M159.9 747.1h0M150.9 710.4h0M175.9 713.4h0M157.8 713.8h0M165.7 703.5h0M152.4 713.3h0M145.7 707.5h0M151.9 757.5h0M139.7 716.1h0M145.8 747.3h0M193.9 738.7h0M184.7 732.7h0M187.3 741.3h0M145.5 739.2h0M140.8 737.8h0M182.0 715.0h0M157.8 748.7h0M192.4 711.1h0M166.7 748.3h0M139.8 746.5h0M187.0 721.8h0M155.4 714.6h0M143.8 712.5h0" stroke="#a48a86" stroke-width="0.90" stroke-linecap="round" fill="none"/><path d="M180.8 748.9h0M139.2 720.2h0M161.0 705.8h0M163.1 709.5h0M189.8 711.6h0M174.8 711.7h0M171.6 719.1h0M159.1 735.3h0M149.1 711.1h0M142.5 746.3h0M138.8 747.2h0M161.8 708.6h0M170.2 749.6h0M169.0 749.0h0M183.4 738.5h0M150.7 736.9h0M153.0 702.2h0M151.2 722.6h0M170.3 754.0h0M160.0 717.0h0M170.6 723.1h0M149.3 702.2h0M162.7 760.3h0M185.9 718.8h0M191.8 740.2h0M164.7 738.9h0M165.1 703.3h0M191.0 715.3h0M166.4 751.0h0M197.6 725.3h0M163.8 700.2h0M159.0 751.0h0M166.4 733.6h0M176.7 704.9h0M161.8 713.5h0M132.3 728.2h0M138.2 727.3h0M149.7 754.4h0M176.2 754.9h0M161.7 697.6h0M179.3 757.6h0M135.9 744.5h0M151.7 727.2h0M195.9 732.1h0M178.4 722.7h0M156.4 752.2h0M167.6 751.1h0M187.5 747.4h0M138.9 713.1h0M136.1 732.1h0M178.7 756.9h0M189.0 741.3h0M170.4 714.4h0M174.4 715.7h0M175.4 747.3h0M166.7 757.9h0M179.4 740.5h0M145.5 750.0h0M161.7 704.4h0M182.9 726.3h0M183.1 721.6h0M177.0 725.3h0M180.1 756.8h0M134.9 725.7h0M182.1 713.0h0M160.3 741.6h0M164.2 701.1h0M187.6 734.3h0M157.2 710.4h0M163.5 702.9h0M159.7 729.0h0M172.3 725.3h0M157.9 751.3h0M173.7 725.5h0M148.4 727.1h0M141.0 721.4h0M147.5 728.0h0M190.6 717.9h0M160.1 725.9h0M153.1 722.1h0M164.3 725.1h0M146.1 736.8h0M170.2 743.5h0M156.1 707.2h0M168.1 697.6h0M174.1 707.4h0M195.9 734.2h0M133.6 739.6h0M139.7 727.4h0M148.3 706.3h0M167.0 715.8h0M197.6 731.7h0M185.4 717.3h0M154.2 710.1h0M143.5 724.0h0M160.2 709.2h0M154.3 699.1h0M169.8 759.9h0M181.3 724.5h0M153.8 748.0h0M198.4 725.4h0M184.6 734.0h0M157.6 698.8h0M189.1 725.2h0M167.6 699.5h0M178.5 722.8h0M183.0 704.7h0M176.3 738.5h0M135.7 735.3h0M187.1 712.0h0M160.1 711.0h0M140.5 747.0h0M192.0 733.5h0M138.6 746.9h0M149.2 753.3h0M190.8 727.9h0M150.6 754.1h0M171.8 746.7h0M195.2 716.0h0M193.5 730.5h0M143.4 734.1h0M169.1 754.5h0M189.0 713.1h0M160.0 744.3h0M165.5 749.9h0M152.4 710.2h0M143.4 726.9h0M157.5 729.8h0M150.9 755.5h0M160.6 751.4h0M134.1 727.5h0M145.4 706.3h0M184.7 707.7h0M139.3 712.7h0M146.9 746.1h0M171.9 711.2h0M166.0 751.3h0M164.8 717.7h0M179.6 726.5h0M150.2 717.6h0M174.7 720.0h0M169.1 737.6h0M166.5 735.1h0M182.9 708.5h0M186.3 722.0h0M178.0 701.9h0M151.0 722.5h0M163.1 741.7h0M182.8 734.6h0M186.9 718.9h0M171.0 758.5h0M183.9 735.9h0M172.0 698.1h0M156.4 748.4h0M191.2 724.2h0M176.3 740.0h0M138.5 710.6h0M188.8 716.3h0M158.1 705.6h0M159.6 742.7h0M145.7 725.3h0M149.4 707.0h0M155.4 735.2h0M187.0 739.1h0M137.8 729.3h0M167.0 715.5h0M160.8 731.3h0M193.5 712.2h0M139.7 743.8h0M183.0 742.2h0M162.3 698.9h0M143.5 716.3h0M180.2 710.7h0M171.9 732.0h0M172.6 732.6h0M178.5 729.2h0M196.8 724.9h0M180.1 744.5h0M178.1 709.2h0M166.1 754.3h0M177.4 714.4h0M170.4 704.6h0M154.5 753.3h0M163.9 708.9h0M168.2 758.3h0M187.8 726.0h0M168.0 740.3h0M153.3 718.1h0M171.9 723.0h0M142.9 733.9h0M178.4 752.7h0M181.0 702.5h0" stroke="#bfb0b0" stroke-width="0.90" stroke-linecap="round" fill="none"/><path d="M193.8 722.8h0M134.6 733.5h0M164.5 720.2h0M159.7 732.9h0M176.2 730.6h0M164.6 742.5h0M180.1 708.0h0M158.0 720.4h0M149.2 724.7h0M166.9 724.4h0M187.6 711.9h0M155.3 728.7h0M163.9 710.2h0M178.2 719.4h0M157.1 735.2h0M150.5 755.4h0M160.3 716.1h0M144.4 748.4h0M166.4 754.4h0M149.3 740.5h0M192.3 733.3h0M145.1 735.0h0M143.2 709.6h0M149.7 706.3h0M174.8 747.4h0M150.7 711.3h0M143.3 707.6h0M166.0 754.2h0M171.2 700.9h0M170.2 749.5h0M168.7 721.6h0M182.6 755.9h0M165.7 697.5h0M152.2 744.7h0M166.9 748.4h0M170.7 715.9h0M182.8 706.2h0M161.9 730.0h0M180.1 701.4h0M152.8 725.7h0M145.7 720.9h0M189.2 719.0h0M174.6 730.5h0M150.1 713.9h0M148.4 754.3h0M175.6 709.1h0M173.4 718.2h0M178.5 739.7h0M190.0 727.7h0M175.7 715.7h0M162.9 724.9h0M160.8 720.3h0M137.1 711.1h0M192.5 732.3h0M152.2 739.0h0M150.0 702.8h0M173.9 721.5h0M175.8 728.1h0M146.6 714.9h0M160.2 720.2h0M156.3 728.2h0M136.0 713.1h0M159.3 758.1h0M159.7 726.7h0M173.4 701.2h0M148.0 747.2h0M178.4 742.1h0M135.7 725.8h0M158.8 735.5h0M143.4 739.8h0M153.4 726.1h0M186.4 711.9h0M160.6 715.5h0M146.3 753.1h0M184.6 703.4h0M191.1 742.1h0M155.7 716.5h0M168.1 723.2h0M169.1 749.6h0M150.7 702.5h0M162.5 739.9h0M162.6 727.0h0M191.6 713.0h0M179.5 726.4h0M162.4 701.5h0M162.8 720.7h0M189.0 741.5h0M134.7 729.8h0M187.0 726.2h0M180.8 748.2h0M174.5 745.1h0M146.4 730.4h0M183.2 708.0h0M191.2 712.6h0M153.7 736.6h0M168.2 757.7h0M179.7 745.6h0M184.3 715.4h0M184.2 727.0h0M165.0 743.6h0M163.0 737.0h0M138.1 711.9h0M149.0 708.6h0M184.9 726.7h0M167.9 727.1h0M162.9 758.7h0M154.2 715.2h0M165.1 759.6h0M148.7 709.9h0M179.5 718.8h0M167.5 723.2h0M184.6 750.6h0M137.5 732.5h0M174.4 722.8h0M190.2 747.1h0M166.6 750.3h0M150.3 732.9h0M185.5 715.5h0M140.8 723.3h0M170.0 735.3h0M179.2 730.5h0M156.4 753.9h0M188.5 746.7h0M145.4 717.5h0M192.9 726.6h0M176.2 727.4h0M189.3 739.3h0M185.1 737.7h0M189.3 734.2h0M155.4 715.3h0M162.7 707.5h0M170.2 719.0h0M177.0 749.1h0M152.5 719.3h0M149.5 738.6h0M198.3 726.5h0M151.0 740.7h0M147.7 703.2h0M142.3 733.2h0M187.9 724.2h0M175.4 707.6h0M192.0 724.7h0M185.9 724.2h0M197.0 724.6h0M167.8 722.6h0M167.1 727.2h0M184.3 715.7h0M165.8 723.8h0M140.9 739.6h0M180.6 717.5h0M133.4 729.4h0M182.8 745.7h0M148.3 719.0h0M192.6 711.9h0M173.7 704.9h0M185.7 749.2h0M159.2 702.2h0M148.2 737.9h0M182.6 732.1h0M175.8 736.4h0M178.5 743.0h0M144.8 741.8h0M151.0 718.6h0M177.6 729.1h0M158.5 738.6h0M160.5 737.1h0M154.5 746.5h0M188.7 727.4h0M175.0 739.6h0M169.9 716.0h0M162.9 753.2h0M140.6 723.7h0M182.9 737.5h0M166.6 746.2h0M193.4 728.3h0M163.6 739.4h0" stroke="#a08680" stroke-width="0.90" stroke-linecap="round" fill="none"/><path d="M155.3 705.8h0M143.4 730.1h0M135.9 727.2h0M150.0 713.5h0M177.2 706.3h0M154.5 755.2h0M148.5 737.8h0M179.4 730.8h0M163.1 759.7h0M150.7 704.6h0M175.9 741.2h0M140.1 736.3h0M142.8 723.0h0M170.7 727.5h0M140.6 720.4h0M179.3 714.1h0M178.0 742.7h0M162.3 744.9h0M140.7 713.1h0M169.6 728.7h0M194.5 714.7h0M178.9 734.1h0M187.0 725.2h0M159.7 737.5h0M194.0 714.1h0M167.1 719.9h0M196.1 731.0h0M172.5 747.3h0M183.9 720.6h0M178.3 756.1h0M159.2 751.5h0M139.0 715.3h0M172.3 754.0h0M196.0 739.4h0M181.7 710.9h0M194.0 715.4h0M188.8 720.3h0M156.6 736.8h0M194.6 717.4h0M170.7 749.6h0M173.6 749.4h0M173.9 723.9h0M141.3 718.4h0M160.2 756.2h0M167.6 751.3h0M147.2 703.1h0M198.1 734.3h0M164.2 715.8h0M150.6 756.6h0M158.7 741.6h0M142.5 725.9h0M166.0 748.9h0M172.6 751.8h0M144.9 736.3h0M163.0 725.3h0M182.2 719.0h0M138.9 735.2h0M136.5 716.1h0M170.3 758.5h0M155.3 759.3h0M157.4 735.5h0M157.4 749.3h0M166.4 727.1h0M168.6 732.9h0M185.1 743.4h0M183.1 709.0h0M170.4 710.6h0M152.4 719.6h0M192.3 746.4h0M194.7 715.8h0M173.3 698.6h0M175.2 727.4h0M146.1 706.2h0M174.1 713.2h0M155.4 743.1h0M155.7 755.3h0M144.5 723.4h0M142.0 724.7h0M162.1 731.7h0M166.4 707.9h0M181.3 742.7h0M163.8 732.0h0M193.2 735.5h0M177.5 709.8h0M193.8 732.8h0M150.9 725.7h0M167.1 745.3h0M146.9 755.4h0M185.8 708.3h0M158.9 749.0h0M168.0 730.9h0M184.2 707.0h0M174.3 722.4h0M188.3 745.6h0M176.0 751.1h0M162.2 747.1h0M168.0 755.9h0M169.2 747.3h0M154.7 740.4h0M146.7 755.3h0M163.7 723.5h0M159.3 724.8h0M150.5 704.4h0M138.2 716.9h0M145.8 707.9h0M152.2 740.4h0M191.5 738.7h0M151.3 740.3h0M166.8 745.0h0M152.2 750.3h0M139.0 747.7h0M162.8 743.5h0M148.9 728.9h0M151.7 757.6h0M147.2 748.5h0M170.9 726.3h0M149.6 707.5h0M154.4 724.3h0M163.8 733.8h0M187.3 720.9h0M134.1 726.1h0M141.1 712.6h0M137.5 729.2h0M159.9 751.3h0M164.5 712.4h0M181.2 737.6h0M175.9 730.3h0M192.1 737.6h0M139.6 738.4h0M142.5 716.9h0M175.2 748.8h0M158.0 700.3h0M138.6 718.3h0M161.8 712.1h0M184.7 745.5h0M156.5 728.3h0M188.8 734.5h0M161.5 732.8h0M156.3 754.6h0M169.6 709.1h0M160.7 718.9h0M177.2 740.0h0M146.7 722.0h0M171.5 745.7h0M183.1 706.0h0M146.9 719.7h0M161.6 749.9h0M147.1 727.7h0M151.6 725.4h0M177.5 710.4h0M136.3 724.1h0M170.6 730.3h0M163.6 744.5h0M176.0 705.4h0M174.7 711.2h0M132.5 732.9h0M137.1 733.2h0M183.8 708.8h0M135.2 721.0h0M139.0 733.9h0M180.9 711.3h0M149.6 732.7h0M155.0 722.5h0M134.7 723.2h0M169.2 721.7h0M183.2 729.0h0M145.9 729.9h0M139.1 731.2h0M154.2 713.8h0M177.0 702.9h0M165.7 711.3h0M178.4 737.5h0" stroke="#cbc0c6" stroke-width="0.90" stroke-linecap="round" fill="none"/></g>
<clipPath id="cp103"><ellipse cx="250.3" cy="728.4" rx="32.3" ry="33.6"/></clipPath>
<ellipse cx="250.3" cy="728.4" rx="32.3" ry="33.6" fill="#a67868"/>
<g clip-path="url(#cp103)"><path d="M238.8 698.6h0M258.0 720.1h0M266.9 747.3h0M258.5 751.2h0M259.1 723.3h0M241.2 754.2h0M274.5 726.3h0M259.3 708.1h0M273.1 742.3h0M239.8 744.4h0M272.8 729.8h0M224.5 735.0h0M255.1 704.0h0M220.9 722.7h0M244.6 712.6h0M244.9 738.8h0M242.4 702.8h0M246.6 722.5h0M265.7 741.1h0M246.5 712.7h0M255.2 744.1h0M238.5 730.7h0M236.3 707.6h0M246.0 756.7h0M241.8 754.9h0M276.5 722.1h0M253.4 760.0h0M271.7 707.4h0M221.9 726.8h0M258.3 727.1h0M270.0 736.1h0M265.2 703.6h0M226.6 725.3h0M267.6 745.4h0M240.1 759.3h0M265.0 752.1h0M268.9 753.2h0M253.2 714.5h0M249.3 741.8h0M255.7 734.5h0M257.6 701.6h0M261.2 703.2h0M242.6 697.9h0M276.8 733.1h0M255.9 706.0h0M251.5 729.1h0M259.1 727.4h0M277.4 743.8h0M263.8 726.8h0M260.3 733.2h0M276.3 713.3h0M269.8 716.2h0M278.2 731.4h0M253.7 715.7h0M231.1 751.9h0M248.9 722.4h0M271.6 732.1h0M274.5 720.4h0M246.0 720.3h0M225.7 716.5h0M229.9 715.5h0M244.7 741.0h0M227.1 708.3h0M238.9 711.6h0M239.2 721.9h0M271.0 707.0h0M230.2 716.3h0M256.1 736.0h0M235.3 710.0h0M257.4 761.1h0M240.8 696.5h0M267.7 740.7h0M252.3 702.5h0M245.4 729.0h0M221.1 726.6h0M242.5 707.3h0M232.4 753.9h0M240.9 742.5h0M249.7 758.9h0M281.2 731.6h0M234.9 744.5h0M266.5 730.9h0M219.3 734.9h0M237.2 735.5h0M277.9 718.1h0M268.5 740.5h0M251.2 738.8h0M221.2 732.2h0M265.5 725.0h0M258.1 737.7h0M251.2 760.7h0M251.6 695.1h0M273.1 718.1h0M241.1 728.5h0M270.6 720.7h0M237.6 730.6h0M279.0 742.5h0M264.8 735.7h0M249.8 755.1h0M272.8 741.9h0M244.1 753.2h0M276.8 732.4h0M255.1 753.4h0M244.3 718.4h0M263.5 700.2h0M228.4 717.4h0M267.5 714.8h0M268.8 729.9h0M256.8 760.1h0M260.2 754.5h0M262.8 745.9h0M251.2 731.7h0M267.4 747.1h0M257.5 734.9h0M270.4 718.1h0M273.9 714.3h0M223.2 744.4h0M260.1 721.0h0M244.0 715.3h0M272.8 712.4h0M263.2 745.3h0M253.9 741.2h0M231.3 704.9h0M251.1 729.6h0M262.0 750.6h0M228.4 718.2h0M248.3 742.3h0M271.8 706.5h0M230.9 716.2h0M276.4 737.8h0M254.4 697.4h0M271.6 736.5h0M245.6 707.3h0M264.7 730.0h0M274.8 719.9h0M280.2 719.0h0M265.2 727.6h0M233.2 731.7h0M246.6 737.4h0M253.3 738.3h0M278.3 733.5h0M268.2 705.5h0M233.9 723.0h0M253.9 706.3h0M260.1 736.1h0M264.3 738.9h0M277.6 727.6h0M227.5 745.0h0M220.8 719.8h0M279.9 734.9h0M264.2 737.4h0M261.4 716.1h0M265.9 746.1h0M226.1 721.6h0M227.6 730.5h0M277.4 722.2h0M248.4 753.2h0M246.2 722.6h0M234.3 726.8h0M273.6 742.6h0M269.3 709.4h0M263.3 726.7h0M255.7 749.7h0M254.4 709.3h0M270.4 742.4h0M256.1 716.4h0M249.6 741.0h0M241.3 759.4h0M245.4 746.1h0M268.5 733.4h0M241.1 721.7h0M262.6 749.0h0M269.7 747.2h0M227.5 749.1h0M273.7 734.8h0M243.7 730.5h0M254.4 698.0h0M242.9 720.2h0M244.2 755.3h0M255.7 729.0h0M247.5 705.1h0M242.5 733.5h0M228.4 752.4h0M252.9 749.1h0M239.5 715.6h0M233.9 732.4h0M221.6 731.6h0M277.2 722.5h0M261.2 699.6h0M267.4 711.7h0M229.3 715.3h0M248.8 695.6h0M271.7 716.0h0M237.2 736.0h0M256.5 731.4h0M255.7 729.4h0M273.1 743.2h0M247.4 720.0h0M224.5 742.4h0M234.3 699.4h0M272.9 716.0h0M270.4 703.1h0M232.1 705.1h0M238.6 743.8h0M252.3 752.2h0M224.7 725.6h0M226.8 726.1h0M247.9 738.3h0M266.0 732.7h0M246.3 716.9h0M262.5 721.3h0M249.4 713.5h0M229.2 717.0h0M271.2 739.3h0M269.6 709.4h0M264.0 719.4h0M274.8 728.6h0M271.0 724.2h0M270.2 706.9h0M223.8 725.7h0M269.9 740.8h0M225.6 725.9h0M226.4 729.2h0M222.6 732.0h0M268.9 710.2h0M225.7 735.7h0M236.9 732.4h0M242.9 752.0h0M254.8 721.7h0M253.1 709.6h0M246.9 725.1h0M233.2 747.1h0M267.2 735.7h0M252.3 734.1h0M245.3 698.6h0M230.2 702.5h0M235.9 735.2h0M228.9 746.5h0M226.8 724.2h0M253.6 737.4h0M280.9 726.0h0M280.6 729.7h0M237.7 732.2h0M269.2 713.6h0M257.8 706.4h0M261.2 731.5h0M274.1 717.6h0M256.4 755.9h0M249.6 717.4h0M250.9 714.3h0M233.7 723.9h0M235.1 755.1h0M257.0 736.1h0M244.2 725.1h0M273.0 730.5h0M238.7 699.5h0M252.1 729.7h0M262.3 759.6h0M220.7 722.2h0M244.7 758.7h0M245.2 739.2h0M254.5 702.3h0M219.6 738.3h0M227.1 742.0h0M251.3 729.0h0M274.5 708.6h0M251.7 733.7h0M231.8 728.7h0M239.6 757.4h0M272.0 750.5h0M260.0 707.2h0M255.9 719.5h0M225.9 738.5h0M242.9 716.4h0M237.3 751.1h0M241.7 713.6h0M244.8 711.9h0M273.3 741.4h0M232.8 721.6h0M254.7 719.4h0M226.3 733.5h0M277.8 744.6h0M237.9 731.2h0M267.8 753.0h0M257.9 728.6h0M257.6 747.2h0M229.8 735.7h0M280.9 729.4h0M227.5 741.0h0M252.9 739.9h0M225.4 718.1h0M267.6 742.6h0M257.3 702.6h0M229.0 715.3h0" stroke="#875642" stroke-width="1.20" stroke-linecap="round" fill="none"/><path d="M271.9 725.4h0M280.8 737.4h0M251.3 744.7h0M241.3 720.2h0M226.0 733.7h0M238.5 729.5h0M264.7 699.8h0M243.5 705.9h0M267.3 699.9h0M257.3 712.5h0M256.1 745.9h0M254.3 746.1h0M233.0 736.0h0M237.1 718.0h0M233.9 720.1h0M225.3 736.3h0M261.1 713.7h0M236.7 728.2h0M250.2 707.0h0M271.3 705.0h0M244.1 708.2h0M268.4 701.8h0M232.5 747.8h0M277.1 741.4h0M276.3 719.1h0M269.1 743.7h0M242.5 732.7h0M224.6 729.0h0M281.7 735.0h0M263.8 755.1h0M255.4 755.0h0M275.7 748.3h0M219.8 727.5h0M261.9 731.8h0M230.5 719.2h0M241.8 731.4h0M232.9 731.5h0M268.0 733.4h0M249.7 701.4h0M267.0 716.6h0M268.9 746.4h0M256.1 730.7h0M245.8 760.1h0M266.2 750.9h0M265.4 751.5h0M248.7 736.7h0M228.2 717.8h0M253.2 701.1h0M255.4 710.7h0M274.8 738.6h0M235.6 742.1h0M250.7 713.0h0M241.3 741.9h0M258.7 740.5h0M255.5 700.2h0M247.7 715.4h0M270.8 706.8h0M243.3 743.4h0M264.2 711.0h0M254.7 748.3h0M245.9 721.5h0M257.0 746.4h0M227.0 708.9h0M249.9 736.5h0M260.0 721.2h0M243.5 721.1h0M265.9 699.4h0M233.1 753.1h0M255.5 757.9h0M233.7 708.2h0M251.1 732.1h0M250.8 695.0h0M244.8 737.5h0M261.0 705.6h0M224.2 724.3h0M267.2 742.0h0M268.4 720.0h0M234.7 737.1h0M248.2 731.3h0M265.8 700.9h0M266.6 719.8h0M263.1 734.8h0M266.6 718.6h0M252.0 758.4h0M241.3 706.9h0M230.8 712.6h0M222.3 742.6h0M277.2 725.2h0M259.1 733.8h0M245.4 733.3h0M271.6 703.5h0M265.5 723.0h0M259.1 720.1h0M260.4 738.2h0M232.8 722.6h0M251.9 760.2h0M237.9 711.9h0M262.5 731.0h0M254.9 745.0h0M228.6 743.7h0M250.7 741.3h0M233.1 752.2h0M249.0 717.1h0M252.3 703.7h0M252.0 727.6h0M263.7 712.0h0M281.6 731.4h0M244.7 702.2h0M241.0 704.8h0M248.6 719.8h0M222.6 721.3h0M237.5 742.1h0M239.3 698.5h0M231.5 712.3h0M252.9 745.8h0M238.0 741.1h0M230.2 743.8h0M264.4 708.6h0M265.4 743.1h0M264.3 735.9h0M281.0 736.4h0M264.3 752.4h0M235.9 722.9h0M254.3 746.6h0M251.3 695.0h0M242.0 726.3h0M242.4 758.1h0M227.9 715.0h0M273.3 744.7h0M249.0 740.0h0M281.0 720.5h0M245.6 700.3h0M263.7 749.4h0M245.3 739.8h0M265.0 746.8h0M258.8 696.5h0M272.5 749.4h0M281.9 722.1h0M275.1 733.1h0M250.2 729.7h0M269.4 752.2h0M226.1 717.9h0M237.8 721.5h0M274.6 714.4h0M274.0 705.9h0M262.4 750.5h0M275.2 726.7h0M270.1 748.6h0M234.3 716.9h0M251.4 714.2h0M244.5 732.4h0M237.0 701.4h0M246.8 753.2h0M248.2 756.1h0M250.9 746.0h0M262.2 724.8h0M260.6 756.5h0M279.7 729.6h0M229.9 718.4h0M249.8 736.2h0M247.7 702.1h0M273.7 732.5h0M234.0 735.5h0M259.3 709.1h0M272.7 734.8h0M233.3 737.9h0M267.1 710.8h0M274.7 713.0h0M274.1 748.1h0M262.9 757.7h0M248.5 704.1h0M259.2 715.9h0M259.2 727.0h0M259.5 698.0h0M226.1 722.5h0M274.0 730.5h0M271.4 704.3h0M276.8 736.9h0M239.3 739.2h0M253.4 706.6h0M255.3 738.3h0M222.6 725.4h0M240.4 712.4h0M235.9 708.5h0M247.3 738.3h0M248.9 752.0h0M266.6 715.2h0M240.4 736.1h0M279.3 715.7h0M268.6 732.3h0M259.5 756.1h0M253.7 744.3h0M243.4 757.7h0M265.3 751.6h0M276.0 719.4h0M224.3 714.2h0M271.2 728.2h0M233.2 723.5h0M241.4 753.8h0M281.0 734.4h0M247.9 724.3h0M246.7 734.6h0M261.4 755.3h0M232.8 713.4h0M235.3 708.8h0M265.1 728.1h0M272.7 744.2h0M245.5 746.9h0M243.8 714.8h0M272.2 733.8h0M253.6 751.1h0M267.5 741.6h0M254.0 745.9h0M263.9 752.7h0M253.1 751.8h0M240.0 752.7h0M224.4 711.9h0M271.8 709.4h0M245.3 700.8h0M241.4 760.0h0M225.2 744.9h0M260.1 704.8h0M257.7 720.7h0M268.2 742.1h0M240.2 757.8h0M270.8 708.8h0M232.0 738.5h0M261.1 722.9h0M268.8 709.9h0M255.0 715.6h0M265.1 698.9h0M226.0 735.7h0M222.8 729.9h0M257.1 754.1h0M228.7 743.2h0M238.4 724.8h0M280.5 720.3h0M270.2 734.7h0M223.1 720.1h0M261.5 752.8h0M227.2 708.4h0M278.2 737.1h0M239.5 720.1h0M228.7 706.8h0M241.7 743.4h0M254.1 714.5h0M242.5 698.6h0M272.5 709.4h0M229.1 736.6h0M266.8 710.1h0M274.2 708.1h0M244.9 738.7h0M242.2 718.5h0M273.9 738.5h0M258.6 727.0h0M256.0 732.9h0M223.7 713.8h0M259.1 719.1h0M237.4 736.4h0M260.9 752.8h0M274.8 717.9h0M227.1 747.1h0M275.2 729.8h0M223.7 723.2h0M265.9 713.7h0M257.1 702.3h0M259.5 736.2h0M268.7 701.3h0M251.1 749.4h0M241.0 700.1h0M251.9 741.3h0M247.4 760.9h0M262.8 742.5h0M282.2 723.7h0M225.7 738.9h0M256.4 709.8h0M270.2 727.6h0M251.2 701.8h0M251.6 739.0h0M248.6 750.2h0M226.2 719.1h0M229.1 736.8h0M267.7 727.8h0M245.9 729.9h0M267.6 716.9h0M239.8 760.1h0M256.8 717.6h0M255.4 708.5h0M273.0 721.2h0M238.2 757.8h0M263.3 740.0h0M221.4 717.8h0M236.3 741.8h0" stroke="#c8b8b8" stroke-width="1.20" stroke-linecap="round" fill="none"/><path d="M237.9 709.6h0M234.3 731.1h0M263.0 754.9h0M254.0 733.4h0M262.4 721.5h0M263.1 702.1h0M250.5 698.2h0M260.2 724.6h0M228.3 745.0h0M233.2 735.5h0M241.7 735.0h0M265.5 752.4h0M223.2 745.8h0M269.8 720.0h0M247.4 732.0h0M261.2 700.5h0M274.9 713.5h0M223.2 738.3h0M261.1 731.9h0M230.4 723.7h0M226.5 712.0h0M242.9 730.5h0M271.8 745.2h0M273.2 738.8h0M263.9 751.2h0M260.4 704.0h0M258.2 760.3h0M231.5 723.4h0M267.6 724.1h0M256.9 708.1h0M274.3 736.9h0M221.0 722.9h0M251.3 707.8h0M260.0 729.9h0M267.4 733.8h0M239.4 717.9h0M257.8 713.4h0M241.3 753.6h0M227.7 709.9h0M250.0 733.1h0M247.8 740.5h0M241.7 704.8h0M232.6 710.1h0M236.8 706.3h0M239.2 742.7h0M263.4 720.2h0M235.3 703.5h0M247.0 711.7h0M267.5 741.5h0M266.0 748.0h0M270.7 720.0h0M247.2 721.6h0M249.3 709.9h0M259.7 741.0h0M256.8 740.3h0M262.2 753.1h0M227.6 746.0h0M254.0 711.5h0M234.8 721.5h0M228.6 713.4h0M267.1 735.3h0M275.7 715.3h0M246.7 708.9h0M227.1 714.0h0M237.5 709.8h0M257.8 706.8h0M243.3 699.0h0M250.2 710.1h0M236.1 723.9h0M245.2 728.2h0M269.7 725.8h0M265.8 719.4h0M270.7 733.7h0M231.4 720.7h0M246.7 711.6h0M248.6 712.2h0M223.5 732.9h0M238.2 716.9h0M271.6 720.8h0M264.7 735.3h0M267.6 733.5h0M244.0 699.9h0M255.2 728.1h0M244.3 718.5h0M226.2 720.9h0M226.0 729.2h0M273.1 720.6h0M257.2 719.3h0M250.6 761.6h0M256.6 698.9h0M229.8 706.7h0M263.1 738.9h0M239.6 731.2h0M246.1 714.7h0M279.4 724.6h0M241.2 726.4h0M236.0 755.0h0M234.3 744.9h0M253.3 748.6h0M256.0 734.5h0M259.3 716.6h0M248.3 744.5h0M225.1 720.9h0M250.7 733.1h0M220.0 734.6h0M269.9 744.7h0M227.6 725.0h0M271.1 745.3h0M231.3 734.9h0M261.2 717.8h0M234.5 754.0h0M262.3 708.5h0M228.4 708.6h0M271.7 727.2h0M250.5 761.7h0M270.7 733.6h0M232.2 722.0h0M278.7 717.6h0M274.1 712.4h0M267.3 706.0h0M226.7 706.4h0M261.2 736.4h0M247.4 733.3h0M248.0 753.7h0M247.9 702.5h0M243.5 716.3h0M240.5 702.8h0M232.4 739.4h0M228.7 709.7h0M246.5 704.2h0M227.1 740.5h0M251.7 744.3h0M264.6 748.0h0M226.3 706.5h0M260.1 724.3h0M238.1 748.0h0M257.1 695.7h0M274.4 718.7h0M254.2 736.1h0M261.7 756.6h0M237.1 749.2h0M249.0 742.7h0M249.6 715.3h0M234.9 735.8h0M227.2 739.4h0M251.9 760.8h0M233.2 736.8h0M242.1 755.5h0M251.5 707.6h0M251.2 731.9h0M263.4 735.5h0M247.5 746.1h0M225.6 740.9h0M271.7 746.0h0M266.8 705.3h0M254.5 699.6h0M227.5 705.0h0M233.4 713.6h0M249.9 729.3h0M245.4 731.4h0M237.7 717.9h0M271.7 750.6h0M252.4 746.3h0M241.8 712.6h0M253.8 733.5h0M255.4 742.1h0M242.1 739.7h0M239.8 758.6h0M260.8 709.4h0M245.6 705.4h0M246.8 718.2h0M255.8 760.5h0M224.6 719.4h0M272.8 709.1h0M220.0 739.1h0M223.8 714.8h0M268.9 728.0h0M230.3 713.7h0M229.2 720.7h0M276.1 738.9h0M235.9 744.4h0M237.9 727.4h0M266.0 728.0h0M248.1 703.5h0M249.4 736.9h0M227.2 720.0h0M248.3 719.9h0M256.5 713.7h0M258.4 726.1h0M248.6 714.6h0M242.3 756.3h0M255.0 760.5h0M272.7 712.2h0M231.1 750.1h0M264.9 757.0h0M249.4 736.5h0M253.5 719.8h0M221.6 720.6h0M270.8 711.1h0M218.5 732.4h0M275.1 742.8h0M236.7 755.2h0M235.1 714.1h0M274.2 729.8h0M218.1 726.0h0M268.7 737.7h0M234.1 743.1h0M241.7 726.6h0M225.6 728.1h0M230.6 728.7h0M240.4 706.6h0M256.8 720.3h0M272.7 711.8h0M263.9 707.0h0M231.7 741.7h0M274.1 724.3h0M258.4 724.7h0M267.4 738.4h0M244.0 702.5h0M243.8 759.6h0M274.3 730.1h0M243.5 697.9h0M250.9 731.2h0M271.0 707.0h0M241.4 720.1h0M275.6 746.9h0M247.7 718.9h0M245.3 761.6h0M227.6 721.1h0M272.7 750.4h0M238.0 715.0h0M233.5 726.5h0M233.0 709.9h0M233.2 746.4h0M270.2 733.8h0M269.6 749.0h0M257.2 720.8h0M235.9 704.9h0M259.6 719.7h0M220.6 728.3h0M253.1 738.4h0M256.4 706.8h0M232.1 730.6h0M253.0 747.9h0M258.2 708.2h0M221.7 730.5h0M233.5 709.9h0M242.9 739.4h0M251.2 733.5h0M232.5 720.2h0M253.1 727.4h0M255.6 737.8h0M273.0 714.1h0M244.6 753.3h0M251.2 745.5h0M235.4 750.2h0M261.9 712.3h0M227.5 716.6h0M243.8 706.4h0M265.5 757.1h0M271.9 726.7h0M257.0 720.0h0M277.1 741.2h0M255.4 729.8h0M268.2 728.4h0M270.3 721.2h0M228.0 749.9h0M272.1 710.7h0M278.6 713.5h0M273.5 712.4h0M220.2 737.7h0M222.2 713.1h0M267.2 726.7h0M277.7 722.2h0M282.2 730.0h0M257.9 736.7h0M273.2 733.4h0M261.0 723.7h0M259.3 728.5h0M248.9 721.1h0M257.0 701.5h0M270.0 723.3h0M247.4 722.8h0M232.0 714.3h0M279.1 721.5h0M231.6 733.1h0M228.9 719.7h0M224.9 721.9h0M235.2 730.6h0M226.6 731.8h0M219.0 720.4h0M235.8 749.4h0M256.7 717.0h0M223.9 740.2h0M228.2 704.2h0M236.6 725.7h0M280.2 740.5h0M245.6 695.8h0M223.2 714.0h0M275.1 733.6h0M232.3 737.1h0M223.6 719.0h0M253.9 702.2h0M242.3 747.3h0M256.7 754.8h0M266.9 701.1h0M254.5 756.0h0M231.2 706.3h0M243.7 744.1h0M267.2 703.9h0M264.9 735.9h0M242.1 699.0h0M253.5 761.1h0M259.5 727.4h0M256.1 743.8h0M269.4 705.6h0M265.0 701.3h0" stroke="#9a6a56" stroke-width="1.20" stroke-linecap="round" fill="none"/><path d="M236.6 717.0h0M266.1 708.8h0M238.1 729.9h0M219.4 725.8h0M225.1 732.2h0M268.4 741.1h0M233.3 707.5h0M264.6 706.5h0M241.2 718.7h0M278.7 734.8h0M236.7 754.8h0M264.1 746.0h0M253.3 710.3h0M243.6 760.1h0M251.4 746.5h0M239.6 713.2h0M238.0 707.7h0M232.5 709.7h0M264.3 758.5h0M266.0 729.6h0M254.8 722.4h0M236.3 712.8h0M233.6 747.1h0M262.2 723.8h0M219.9 735.7h0M269.7 706.8h0M237.0 698.6h0M263.7 750.1h0M261.3 704.6h0M234.0 727.2h0M246.7 751.8h0M222.2 714.2h0M234.4 732.1h0M248.7 706.7h0M265.1 706.3h0M273.3 708.5h0M259.3 698.1h0M237.0 725.1h0M237.3 705.1h0M241.4 706.2h0M233.5 726.4h0M258.5 696.2h0M243.0 748.4h0M231.8 726.5h0M227.1 722.0h0M245.9 753.9h0M244.8 735.2h0M233.1 756.4h0M227.5 719.3h0M253.0 724.3h0M265.6 743.4h0M244.1 701.4h0M278.7 721.8h0M268.2 712.1h0M241.2 731.0h0M232.3 742.9h0M228.2 750.9h0M279.6 716.0h0M236.8 712.4h0M254.6 726.3h0M228.2 722.2h0M276.0 743.3h0M242.2 718.6h0M251.0 702.7h0M268.8 753.4h0M270.7 720.7h0M232.0 729.8h0M237.2 709.0h0M247.3 701.9h0M258.5 704.0h0M276.0 708.3h0M237.5 743.1h0M233.6 701.5h0M257.7 704.2h0M232.4 739.0h0M269.6 709.2h0M242.1 726.1h0M279.7 719.8h0M258.6 718.7h0M248.1 731.7h0M266.9 750.8h0M265.0 734.2h0M266.3 699.9h0M258.7 728.1h0M251.9 733.0h0M273.2 747.5h0M247.1 753.9h0M269.6 717.6h0M244.8 755.3h0M250.3 743.6h0M262.1 729.1h0M248.5 697.0h0M232.3 745.9h0M236.4 714.5h0M224.3 737.3h0M225.0 729.0h0M257.5 741.9h0M262.4 727.0h0M263.3 718.4h0M238.0 756.2h0M236.8 745.7h0M225.8 733.0h0M250.8 740.3h0M218.7 724.7h0M247.0 745.1h0M264.2 750.5h0M258.1 718.6h0M254.1 751.5h0M271.3 744.0h0M251.9 716.8h0M238.6 756.6h0M253.6 706.6h0M252.0 717.7h0M258.4 741.3h0M259.1 749.0h0M247.8 704.9h0M261.4 731.0h0M260.8 727.8h0M249.8 732.4h0M237.7 754.0h0M254.2 721.8h0M267.9 744.9h0M248.0 748.3h0M264.3 705.0h0M240.5 739.5h0M221.4 730.5h0M231.8 713.1h0M244.6 707.7h0M274.0 733.9h0M235.5 737.7h0M274.8 718.7h0M275.0 726.1h0M261.1 755.2h0M253.8 696.8h0M277.8 718.7h0M243.3 736.3h0M263.0 745.0h0M260.9 721.1h0M227.7 706.3h0M266.8 702.5h0M237.7 725.1h0M258.9 718.8h0M241.9 735.5h0M232.5 704.6h0M254.5 721.6h0M257.3 754.6h0M264.8 707.3h0M234.9 725.7h0M220.7 736.4h0M250.8 727.2h0M226.0 730.8h0M220.4 726.2h0M238.7 731.1h0M252.7 709.8h0M226.2 713.4h0M245.7 745.5h0M239.3 737.1h0M242.5 757.8h0M225.6 707.5h0M275.3 746.4h0M238.0 732.2h0M233.3 714.5h0M246.0 727.7h0M271.2 746.1h0M253.2 727.5h0M251.9 708.8h0M225.4 746.2h0M269.0 728.1h0M230.6 734.9h0M237.4 734.6h0M254.6 701.1h0M238.9 756.8h0M262.7 720.0h0M241.6 716.5h0M248.4 710.3h0M273.9 722.6h0M245.0 718.6h0M255.8 749.1h0M255.5 745.8h0M244.6 710.4h0M269.5 734.0h0M278.0 714.3h0M228.3 726.0h0M262.0 739.9h0M258.2 728.7h0M239.9 726.7h0M244.8 739.1h0M249.5 705.1h0M247.9 744.9h0M233.2 731.2h0M261.5 751.0h0M226.5 710.7h0M268.6 744.8h0M270.2 723.1h0M241.0 703.7h0M234.1 717.5h0M271.5 728.7h0M251.9 724.1h0M279.4 737.1h0M229.2 726.2h0M243.9 714.0h0M243.1 711.2h0M226.9 736.2h0M249.8 751.4h0M270.1 744.7h0M256.2 733.1h0M243.6 715.5h0M237.0 731.0h0M219.9 724.9h0M269.2 703.6h0M271.7 751.5h0M222.3 743.7h0M231.1 709.5h0M264.2 727.9h0M258.0 742.9h0M246.4 699.3h0M263.7 733.6h0M247.5 718.4h0M237.4 737.8h0M252.1 703.9h0M269.0 748.4h0M228.4 724.4h0M235.3 730.5h0M257.3 710.6h0M248.8 730.2h0M236.8 726.5h0M227.7 736.6h0M224.8 739.2h0M266.5 710.5h0M238.7 743.1h0M246.1 730.8h0M231.3 707.1h0M270.4 738.5h0M235.9 710.3h0M261.0 753.8h0M241.8 757.5h0M226.0 714.4h0M241.6 755.2h0M241.0 751.6h0M250.4 710.8h0M251.1 750.1h0M255.7 698.5h0M226.6 713.1h0M253.2 707.4h0M242.5 758.5h0M263.8 734.7h0M266.3 712.1h0M258.1 710.4h0M228.7 742.7h0M231.8 704.8h0M257.3 751.2h0M232.4 748.8h0M280.2 730.9h0M268.6 724.2h0M240.0 723.5h0M265.9 739.7h0M245.6 708.1h0M254.1 723.0h0M251.6 749.6h0M254.7 757.3h0M257.9 730.4h0M225.1 745.1h0M262.1 734.6h0M259.2 697.3h0M239.1 744.3h0M244.0 743.7h0M248.4 698.1h0M246.0 727.2h0M250.8 708.4h0M272.7 739.8h0M245.3 740.9h0M244.7 708.7h0M279.3 732.6h0M229.0 751.7h0M246.9 736.9h0M245.9 729.7h0M238.7 731.9h0M243.4 754.9h0M236.4 743.0h0M248.3 739.9h0M266.7 726.0h0M269.9 740.8h0M278.4 739.3h0M228.0 744.6h0M222.2 743.2h0M245.4 716.3h0M236.6 709.1h0M255.2 711.9h0M269.9 711.0h0M265.1 720.0h0" stroke="#d8cccc" stroke-width="1.20" stroke-linecap="round" fill="none"/><path d="M254.1 755.3h0M250.4 748.8h0M255.6 755.8h0M273.7 712.2h0M273.4 707.6h0M245.8 710.9h0M232.1 703.4h0M252.9 749.1h0M231.9 731.1h0M238.5 700.0h0M225.8 723.6h0M224.9 710.0h0M243.5 743.7h0M271.4 711.4h0M235.3 703.6h0M256.4 717.0h0M250.1 732.0h0M258.0 700.3h0M237.2 704.9h0M235.1 698.8h0M219.1 723.9h0M246.7 711.2h0M233.7 751.1h0M252.0 694.9h0M244.7 707.3h0M277.5 746.2h0M245.4 728.4h0M268.8 731.0h0M247.1 714.4h0M241.5 711.8h0M237.7 751.1h0M232.0 705.7h0M275.6 748.3h0M254.9 702.4h0M247.5 735.1h0M238.3 732.5h0M266.2 713.3h0M277.3 741.6h0M259.1 726.3h0M266.8 708.2h0M225.3 716.4h0M250.0 699.6h0M265.9 732.2h0M259.4 755.0h0M279.9 730.6h0M265.7 746.6h0M276.8 740.7h0M223.3 718.2h0M251.0 742.4h0M262.2 727.9h0M277.4 727.3h0M254.4 698.0h0M220.9 731.6h0M235.1 706.1h0M231.2 727.0h0M244.5 760.1h0M242.5 710.7h0M267.7 708.6h0M235.1 709.1h0M234.4 721.2h0M236.2 724.4h0M267.5 731.8h0M226.9 729.6h0M264.0 749.2h0M267.7 711.4h0M259.5 719.5h0M259.7 717.5h0M245.0 738.0h0M276.8 736.9h0M274.6 733.0h0M252.1 721.0h0M267.0 713.0h0M248.2 697.3h0M224.1 728.5h0M260.4 711.1h0M226.1 720.1h0M232.0 724.4h0M265.1 737.8h0M237.6 703.2h0M236.8 708.1h0M280.7 729.0h0M242.9 703.5h0M219.8 718.7h0M266.6 706.7h0M256.0 715.3h0M222.8 734.4h0M248.7 727.2h0M260.3 741.8h0M244.5 705.8h0M227.1 733.4h0M259.9 704.3h0M254.4 733.0h0M247.3 704.6h0M243.4 729.5h0M262.0 719.5h0M250.4 749.5h0M260.5 697.3h0M266.0 750.2h0M244.7 756.8h0M236.3 711.7h0M247.5 710.6h0M254.6 709.6h0M278.3 736.2h0M254.6 716.9h0M227.6 729.6h0M223.4 719.2h0M275.8 735.5h0M269.7 743.4h0M252.4 710.2h0M258.7 728.4h0M228.2 707.0h0M236.5 708.8h0M263.0 730.5h0M272.4 718.2h0M234.6 739.3h0M252.5 702.8h0M250.1 733.2h0M242.1 733.1h0M243.2 726.2h0M223.6 713.5h0M231.4 723.8h0M229.8 731.3h0M226.8 723.8h0M231.7 716.0h0M250.3 738.6h0M265.7 739.2h0M246.0 719.6h0M281.4 731.2h0M266.6 717.4h0M246.5 712.6h0M249.5 758.7h0M233.6 707.9h0M251.2 708.9h0M236.8 701.9h0M247.2 755.5h0M256.0 720.8h0M280.4 720.9h0M248.3 742.7h0M225.2 743.5h0M255.9 716.1h0M231.3 740.7h0M228.6 716.1h0M232.8 736.9h0M251.5 725.3h0M227.8 731.7h0M232.1 753.1h0M256.5 750.8h0M258.9 747.4h0M255.6 710.2h0M265.5 748.4h0M229.2 720.3h0M225.2 742.4h0M254.5 707.6h0M256.0 710.7h0M230.9 702.6h0M268.4 736.0h0M266.6 711.8h0M245.5 708.6h0M271.0 721.6h0M269.9 754.3h0M234.7 710.7h0M227.8 726.2h0M246.6 718.3h0M276.2 730.9h0M275.2 722.3h0M235.2 752.1h0M247.0 753.9h0M275.0 714.1h0M278.8 713.4h0M264.3 739.1h0M236.3 701.9h0M256.6 733.2h0M254.1 695.5h0M274.0 712.5h0M242.1 699.4h0M220.4 730.7h0M248.8 741.2h0M267.8 702.6h0M234.2 757.4h0M276.2 737.9h0M261.1 744.0h0M239.2 739.3h0M233.7 723.5h0M237.2 736.7h0M259.3 724.5h0M272.3 751.7h0M253.4 696.5h0M235.9 744.3h0M245.3 701.9h0M237.0 716.8h0M258.1 709.3h0M224.8 727.4h0M279.7 715.3h0M267.9 727.2h0M245.6 743.7h0M236.5 714.4h0M273.8 736.1h0M249.5 741.6h0M221.6 736.5h0M243.6 727.7h0M226.2 730.7h0M276.4 723.1h0M242.8 697.6h0M249.3 710.0h0M269.5 722.7h0M248.2 701.7h0M240.3 732.1h0M232.4 740.5h0M259.5 724.7h0M245.9 725.8h0M225.3 723.7h0M256.3 716.7h0M225.8 716.3h0M235.0 727.9h0M265.8 730.4h0M255.7 751.2h0M271.1 729.4h0M255.7 758.9h0M277.9 725.4h0M237.8 718.9h0M229.2 746.4h0M219.6 726.0h0M256.0 741.0h0M228.0 727.9h0M236.0 721.3h0M250.9 754.4h0M248.6 711.7h0M232.7 745.6h0M247.4 743.0h0M242.3 738.2h0M268.0 716.1h0M224.3 740.8h0M255.2 755.3h0M270.2 723.1h0M241.4 760.1h0M228.6 739.0h0M246.3 742.6h0M243.1 720.0h0M272.8 711.0h0M236.8 714.6h0M260.3 735.5h0M222.1 716.2h0M269.9 711.9h0M263.2 714.8h0M241.7 723.4h0M219.2 737.5h0M229.7 716.9h0M280.8 729.9h0M278.9 727.8h0M236.1 718.8h0M234.9 725.0h0M255.6 696.9h0M280.1 717.8h0M223.0 714.1h0M275.7 721.4h0M243.6 757.2h0M257.0 741.0h0M245.0 706.2h0M241.8 698.5h0M223.1 740.9h0M227.5 734.3h0M245.3 701.8h0M259.2 757.2h0M249.5 748.0h0M240.3 760.0h0M243.3 704.3h0M235.5 713.5h0M238.9 702.1h0M281.3 724.0h0M256.2 709.2h0M234.9 710.5h0M240.0 729.5h0M233.9 734.7h0M260.7 752.4h0M260.8 753.1h0M231.8 724.6h0M229.2 716.8h0M280.0 734.6h0M225.0 745.8h0M241.8 731.7h0M267.8 725.0h0M243.8 719.9h0M273.3 747.2h0M249.2 753.6h0M268.1 746.0h0M240.3 736.9h0M248.8 751.4h0M237.3 724.5h0M237.8 728.2h0M272.4 714.1h0M267.4 744.5h0M268.2 734.7h0M258.7 729.3h0M243.6 716.1h0M267.3 752.0h0M239.2 734.4h0M256.4 708.3h0M261.4 697.6h0M257.7 728.1h0M252.5 716.5h0M245.8 708.8h0M273.1 715.3h0M234.9 707.7h0M220.2 740.4h0M270.9 726.5h0M274.9 743.7h0" stroke="#8e5c48" stroke-width="1.20" stroke-linecap="round" fill="none"/><ellipse cx="250" cy="703" rx="34" ry="12" fill="#a86a50" opacity="0.3"/><path d="M216 716.0 C 230 714.5, 240 718.5, 252 716.3 S 270 713.5, 284 715.5 L 284 718.5 C 270 716.8, 258 720.5, 248 719.6 S 228 718.6, 216 719.6 Z" fill="#f6f2f4"/></g>
<clipPath id="cp104"><ellipse cx="332.7" cy="728.2" rx="31.8" ry="32.5"/></clipPath>
<ellipse cx="332.7" cy="728.2" rx="31.8" ry="32.5" fill="#cdb8b2"/>
<g clip-path="url(#cp104)"><path d="M342.3 735.8h0M322.5 712.7h0M336.8 723.3h0M332.4 749.1h0M337.7 749.2h0M321.9 755.9h0M309.9 725.4h0M328.0 725.6h0M313.6 705.6h0M348.2 708.8h0M337.9 730.7h0M351.3 717.0h0M340.2 743.3h0M321.5 729.1h0M313.4 729.5h0M361.1 719.5h0M338.0 717.2h0M356.1 726.6h0M301.4 724.4h0M325.5 711.3h0M316.7 703.8h0M307.6 715.0h0M329.0 750.8h0M323.1 740.8h0M343.8 712.2h0M340.1 702.3h0M310.3 729.1h0M331.6 698.7h0M325.8 738.4h0M327.4 708.6h0M358.4 721.2h0M330.2 740.1h0M325.6 738.9h0M349.6 702.4h0M361.8 724.9h0M355.1 737.1h0M321.9 704.8h0M320.6 716.9h0M356.4 725.6h0M351.6 710.8h0M348.5 743.8h0M346.2 736.4h0M330.7 749.9h0M334.2 712.6h0M325.2 729.1h0M337.2 708.4h0M361.5 732.7h0M330.8 735.0h0M356.7 713.7h0M338.0 750.6h0M340.7 750.5h0M329.1 748.7h0M330.4 717.2h0M345.0 700.9h0M313.7 730.2h0M318.2 728.7h0M325.5 725.1h0M338.3 754.7h0M355.1 716.4h0M349.4 708.2h0M314.6 726.4h0M316.8 717.8h0M329.0 743.7h0M350.9 725.9h0M352.8 724.0h0M309.1 713.4h0M319.9 719.0h0M357.7 708.5h0M345.0 754.4h0M359.5 719.1h0M350.2 739.7h0M330.1 743.9h0M348.0 740.8h0M312.0 725.9h0M347.5 737.5h0M319.0 708.3h0M352.2 726.0h0M317.4 700.1h0M307.5 732.4h0M314.4 741.5h0M333.1 719.1h0M339.4 710.3h0M302.6 725.1h0M301.2 725.5h0M316.4 734.8h0M306.0 726.2h0M327.9 731.3h0M326.7 703.1h0M325.4 718.3h0M330.4 753.7h0M324.8 735.2h0M324.2 716.4h0M345.1 701.1h0M324.1 737.9h0M316.4 706.4h0M355.4 713.4h0M351.4 728.1h0M319.4 714.4h0M303.8 725.1h0M360.3 717.5h0M362.5 738.0h0M301.7 734.1h0M334.5 707.7h0M306.5 720.8h0M357.9 709.3h0M350.6 706.2h0M328.5 750.6h0M351.8 711.0h0M315.7 733.8h0M310.7 724.5h0M326.2 740.4h0M345.3 726.7h0M333.0 740.8h0M349.3 736.8h0M319.3 701.8h0M318.4 700.7h0M310.0 719.6h0M329.7 709.6h0M307.6 710.7h0M354.8 747.4h0M346.7 724.2h0M342.0 697.4h0M314.2 742.4h0M358.3 724.7h0M336.4 733.1h0M334.2 725.5h0M303.6 717.8h0M336.6 754.4h0M351.5 738.6h0M319.2 716.5h0M347.8 709.6h0M335.1 707.1h0M352.8 710.1h0M341.3 717.7h0M315.8 724.0h0M325.5 708.6h0M329.3 744.3h0M329.8 697.0h0M308.5 746.0h0M342.6 724.3h0M355.3 711.6h0M362.2 731.7h0M343.9 738.8h0M315.9 719.0h0M341.9 756.4h0M309.5 731.4h0M356.8 718.4h0M343.5 698.4h0M342.7 717.2h0M324.6 706.3h0M338.5 697.5h0M308.2 723.9h0M317.0 755.3h0M315.7 739.9h0M334.5 758.4h0M329.1 700.0h0M333.6 749.8h0M334.2 717.8h0M308.0 715.0h0M314.9 727.4h0M330.4 753.7h0M307.4 726.7h0M344.5 708.2h0M330.6 709.6h0M315.4 723.4h0M336.6 732.6h0M341.2 715.9h0M319.7 705.9h0M340.7 711.0h0M330.1 760.1h0M355.9 707.0h0M350.2 717.0h0M344.5 749.6h0M327.1 748.7h0M319.2 713.7h0M323.3 735.8h0M321.7 713.3h0M327.0 728.8h0M323.1 758.0h0M318.2 743.0h0M313.9 719.9h0M356.1 740.1h0M344.5 753.1h0M340.1 729.0h0M315.1 718.4h0M311.4 723.1h0M326.6 744.0h0M329.1 698.9h0M344.1 744.8h0M358.4 737.4h0M322.9 720.3h0M347.0 750.8h0M320.7 720.6h0M308.6 742.8h0M309.2 744.6h0M321.0 706.0h0M308.1 719.2h0M349.8 729.1h0M323.5 712.7h0M357.3 719.5h0M341.2 757.7h0M344.7 712.7h0M323.5 746.6h0M348.2 746.4h0M332.5 754.2h0M316.3 737.2h0M351.6 747.8h0M318.6 745.5h0M333.4 723.3h0M342.1 726.5h0M355.3 711.9h0M321.5 742.1h0M322.9 718.6h0M338.3 736.4h0M347.6 716.7h0M301.0 726.5h0M314.1 729.8h0M343.1 733.3h0M326.1 708.1h0M325.0 699.3h0M306.9 710.2h0M363.1 729.3h0M350.1 745.6h0M347.5 721.6h0M313.4 716.5h0M356.5 715.7h0M311.5 745.0h0M333.3 711.6h0M336.7 737.3h0M346.3 705.6h0M326.8 730.0h0M325.2 732.0h0M340.5 747.9h0M350.6 738.0h0M355.1 746.6h0M334.1 737.6h0M314.9 724.6h0M331.7 725.0h0M310.3 736.8h0M311.3 743.0h0M359.0 744.0h0M328.2 734.3h0M361.0 742.2h0M302.1 724.7h0M347.7 753.6h0M316.2 717.1h0M327.5 733.5h0M352.9 721.7h0M347.7 747.2h0M339.1 732.7h0M336.7 717.0h0M329.0 747.6h0M336.6 710.3h0M341.4 722.9h0M335.3 697.5h0M306.1 725.2h0M323.0 747.2h0M340.4 700.1h0M358.2 740.8h0M354.9 713.0h0M313.7 740.1h0M348.6 751.9h0M344.0 705.3h0M335.1 700.4h0M340.9 739.0h0M356.5 726.4h0M330.0 748.1h0M348.1 709.1h0M305.7 723.9h0M332.0 738.1h0M347.7 748.9h0M357.0 727.9h0M350.6 701.6h0M319.6 732.7h0M362.3 736.5h0M323.5 746.4h0M364.1 731.7h0M321.1 724.2h0M318.5 711.1h0M327.9 715.5h0M331.2 750.4h0M324.2 745.7h0M354.5 713.9h0M349.1 733.3h0M352.2 715.3h0M349.9 748.1h0M347.6 736.8h0M305.2 724.6h0M340.4 724.4h0M357.4 738.1h0M310.0 727.9h0M310.0 730.8h0M344.4 721.5h0M334.8 716.2h0M357.4 721.0h0M312.6 704.1h0M324.1 751.3h0M337.9 701.3h0M331.9 746.2h0M358.7 726.1h0M312.5 744.6h0M357.2 708.1h0M320.1 709.1h0M333.9 721.7h0M322.6 714.3h0M336.0 698.2h0M322.9 718.7h0M347.7 733.1h0M341.9 722.6h0M328.7 740.9h0M318.0 719.7h0M347.3 756.6h0M353.9 745.3h0M348.7 753.2h0M307.0 732.9h0M329.6 712.3h0M322.1 717.0h0M315.4 731.6h0M331.7 743.6h0M331.9 702.8h0M325.8 758.2h0M306.0 717.0h0M347.6 700.3h0M312.3 704.2h0M339.5 705.1h0M333.5 698.6h0M324.6 724.8h0M340.3 704.2h0M343.3 739.2h0M316.7 703.6h0M338.7 723.8h0M337.9 755.9h0M356.3 721.3h0M314.4 719.4h0M356.6 745.3h0M320.9 720.1h0M319.6 699.3h0M328.1 730.4h0M319.3 739.6h0M353.0 719.0h0M328.0 699.4h0M348.2 713.1h0M315.8 710.4h0M345.2 702.9h0M327.9 758.8h0M342.6 730.8h0M343.3 742.5h0M322.7 701.1h0M340.9 734.2h0M340.4 719.6h0M327.8 758.9h0M333.2 735.7h0M354.1 705.2h0M345.9 750.6h0M320.7 741.5h0M318.0 714.9h0M329.0 726.6h0M301.9 727.6h0M345.9 721.8h0M338.3 725.8h0M304.2 732.0h0M362.0 725.5h0" stroke="#9a6654" stroke-width="1.10" stroke-linecap="round" fill="none"/><path d="M361.5 720.6h0M330.7 729.9h0M334.1 724.3h0M363.5 725.3h0M317.9 733.6h0M309.4 711.4h0M314.1 754.4h0M340.7 705.6h0M359.9 711.5h0M323.9 736.8h0M334.5 730.8h0M342.6 738.3h0M326.8 719.7h0M307.7 742.8h0M314.7 743.5h0M345.2 735.9h0M327.8 758.6h0M345.7 731.4h0M345.7 749.2h0M344.5 718.8h0M339.0 710.6h0M323.2 708.3h0M333.4 749.2h0M316.8 703.4h0M342.5 706.4h0M342.3 733.9h0M349.1 732.5h0M337.6 753.0h0M322.4 713.3h0M326.0 742.4h0M356.5 722.8h0M341.6 748.6h0M306.8 714.2h0M319.8 708.8h0M330.0 710.3h0M351.8 742.4h0M358.2 717.0h0M339.8 724.4h0M314.5 722.2h0M354.0 739.3h0M320.9 746.8h0M323.2 707.8h0M334.8 724.2h0M327.3 735.2h0M343.1 728.3h0M309.8 726.8h0M313.2 714.9h0M353.2 708.4h0M309.8 731.0h0M325.5 725.4h0M345.6 738.0h0M319.6 728.1h0M322.5 750.4h0M314.6 734.9h0M341.4 752.8h0M323.7 749.5h0M356.3 720.9h0M330.1 755.6h0M352.3 741.2h0M318.5 718.6h0M309.4 743.0h0M307.6 742.4h0M323.4 751.6h0M321.4 752.9h0M322.9 749.6h0M332.1 709.1h0M351.7 730.5h0M322.0 729.5h0M308.6 743.4h0M328.2 733.9h0M333.2 731.4h0M314.1 735.8h0M353.3 742.3h0M357.1 713.8h0M343.7 710.0h0M326.9 758.0h0M343.9 739.7h0M351.6 745.5h0M349.6 704.8h0M328.8 736.1h0M356.8 742.2h0M333.5 752.2h0M337.1 704.5h0M353.3 730.9h0M323.9 699.1h0M310.2 741.2h0M316.4 712.6h0M313.9 704.9h0M326.1 717.6h0M327.6 723.4h0M335.1 725.3h0M303.9 716.2h0M316.7 720.6h0M336.3 700.4h0M331.1 720.0h0M338.6 725.9h0M321.4 728.4h0M309.8 722.5h0M322.8 713.4h0M303.7 732.1h0M320.2 720.9h0M348.1 737.5h0M320.1 746.8h0M328.0 702.1h0M346.8 708.5h0M302.8 726.2h0M355.9 740.1h0M334.7 703.9h0M331.4 738.8h0M353.9 710.5h0M314.1 754.5h0M358.8 725.7h0M351.7 711.5h0M337.3 721.2h0M331.6 708.8h0M305.8 719.1h0M305.8 742.0h0M358.2 744.5h0M349.1 708.5h0M317.2 727.4h0M350.7 738.6h0M346.5 724.6h0M335.9 745.7h0M342.8 726.2h0M346.3 745.0h0M311.2 738.3h0M313.1 713.5h0M348.7 715.3h0M345.2 701.3h0M357.7 734.0h0M351.6 711.8h0M337.6 731.1h0M310.1 718.3h0M335.9 709.0h0M308.5 713.8h0M328.6 698.0h0M335.7 700.0h0M338.6 715.5h0M341.5 697.5h0M340.5 704.8h0M309.0 722.5h0M314.8 728.7h0M337.5 730.3h0M322.0 706.2h0M339.0 721.0h0M317.3 723.1h0M330.9 710.0h0M316.1 717.1h0M335.5 758.0h0M313.3 709.2h0M338.5 726.1h0M357.9 734.1h0M361.1 732.3h0M306.8 730.0h0M346.7 708.1h0M322.5 701.0h0M353.3 748.1h0M327.6 720.2h0M357.1 735.0h0M325.2 748.6h0M321.8 707.6h0M331.4 704.4h0M306.0 742.0h0M337.6 740.8h0M342.1 720.3h0M332.1 745.8h0M305.2 733.9h0M343.3 756.0h0M338.5 696.7h0M329.4 716.5h0M313.6 744.9h0M315.1 712.7h0M308.1 736.2h0M316.5 715.0h0M349.5 721.4h0M323.6 750.6h0M346.1 730.3h0M338.3 701.0h0M314.3 729.8h0M313.0 752.1h0M350.3 744.5h0M326.6 713.9h0M320.3 718.7h0M363.9 724.3h0M321.5 714.0h0M336.7 731.8h0M358.2 734.5h0M344.5 743.0h0M338.6 718.6h0M348.3 747.0h0M333.2 749.1h0M358.5 734.2h0M346.9 707.4h0M352.8 722.7h0M305.1 720.6h0M329.9 757.6h0M340.1 738.3h0M338.0 742.1h0M360.0 734.6h0M352.0 739.4h0M317.0 740.1h0M361.1 736.5h0M357.9 713.7h0M340.0 752.6h0M347.8 728.3h0M318.7 705.2h0M341.2 705.6h0M329.7 702.1h0M321.7 703.7h0M344.0 712.0h0M348.8 751.7h0M333.7 705.6h0M313.3 725.1h0M304.6 733.3h0M334.8 714.6h0M354.1 715.5h0M331.9 728.5h0M360.5 714.3h0M322.6 723.7h0M329.3 708.0h0M320.6 700.9h0M314.3 720.1h0M333.2 749.3h0M325.0 724.3h0M331.5 755.8h0M338.0 701.8h0M335.9 738.6h0M346.3 702.0h0M359.1 711.5h0M319.8 735.8h0M356.1 709.2h0M354.1 722.1h0M337.1 708.2h0M341.3 754.2h0M348.6 701.9h0M358.9 713.6h0M309.5 740.6h0M329.7 719.6h0M341.2 742.6h0M344.3 704.2h0M308.6 734.5h0M325.5 750.6h0M322.0 752.0h0M336.4 725.6h0M338.1 702.8h0M345.5 757.3h0M302.7 728.5h0M311.3 749.0h0M343.3 741.5h0M348.4 719.5h0M362.2 719.1h0M330.1 716.9h0M307.9 720.4h0M313.0 731.5h0M321.0 719.1h0M336.0 696.2h0M342.8 752.6h0M326.6 738.4h0M320.2 749.3h0M340.6 756.4h0M336.6 743.8h0M333.1 711.8h0M333.5 711.2h0M333.5 705.3h0M346.0 703.4h0M345.6 745.6h0M327.3 725.3h0M356.9 743.4h0M327.4 718.1h0M345.5 754.1h0M321.2 754.5h0M307.3 736.8h0M346.0 713.0h0M351.9 749.8h0M316.4 742.6h0M352.0 715.4h0M342.4 739.0h0M314.9 713.3h0M352.4 703.9h0M337.6 704.8h0M353.0 717.8h0M341.1 729.5h0M334.1 725.9h0M318.0 724.0h0M321.6 738.3h0M348.6 736.4h0M339.9 711.3h0M335.5 718.5h0M346.6 749.1h0M327.3 716.0h0M330.9 724.2h0M309.0 720.1h0M342.3 732.1h0M360.1 735.0h0M321.8 753.9h0M304.3 717.2h0M335.0 738.7h0M326.7 750.2h0M340.5 736.2h0M361.1 729.3h0M316.4 717.4h0M341.3 750.2h0M322.5 724.0h0M330.3 724.0h0M347.8 722.8h0M321.7 715.5h0M334.6 728.0h0M360.0 743.1h0M355.3 717.3h0M315.4 743.1h0M315.0 749.0h0M331.5 697.8h0M340.8 755.1h0M323.1 757.7h0M340.3 744.2h0M333.9 747.1h0M350.8 733.9h0M331.5 727.4h0M324.6 699.0h0M346.8 719.6h0M320.8 707.2h0M324.6 716.4h0M304.2 726.5h0M337.1 700.1h0M315.8 730.6h0M318.5 714.3h0M343.9 720.1h0M309.7 732.8h0M307.9 709.2h0M341.6 748.9h0M345.6 717.1h0M324.4 701.6h0M350.6 754.6h0M342.8 750.9h0M323.6 753.0h0M340.9 741.3h0M324.8 713.0h0M327.3 702.7h0M315.0 722.3h0M321.0 720.7h0M314.4 715.0h0M317.9 726.8h0M350.8 726.3h0M315.6 755.0h0M339.9 752.0h0M318.2 735.0h0M313.4 747.8h0M313.5 742.8h0M361.1 723.1h0M335.5 724.5h0M336.5 701.9h0M331.6 745.9h0M357.4 742.0h0M334.6 701.1h0M330.6 703.3h0M311.0 749.0h0M362.0 723.8h0M316.6 738.5h0M361.4 726.3h0M303.9 723.1h0M328.1 743.3h0M318.8 755.6h0M339.9 747.2h0M323.1 747.6h0M332.8 758.1h0M353.3 727.0h0M350.8 753.2h0M333.0 720.7h0M347.0 713.5h0M323.9 758.2h0" stroke="#e2d8d8" stroke-width="1.10" stroke-linecap="round" fill="none"/><path d="M362.3 729.7h0M328.6 756.1h0M331.4 715.6h0M332.5 727.3h0M360.0 741.2h0M347.2 755.8h0M362.5 722.5h0M347.0 739.8h0M354.1 735.9h0M308.8 713.5h0M329.3 732.5h0M334.3 730.5h0M305.9 728.7h0M323.8 735.2h0M341.7 730.5h0M350.8 750.0h0M336.7 699.9h0M336.2 723.0h0M331.7 708.1h0M318.9 740.7h0M350.6 709.5h0M306.3 712.7h0M340.2 703.4h0M308.8 716.4h0M303.8 732.0h0M308.0 720.7h0M322.9 744.5h0M313.9 746.2h0M309.6 731.4h0M338.4 735.1h0M338.3 719.5h0M346.2 708.4h0M339.4 731.2h0M312.6 717.1h0M352.9 743.0h0M346.4 746.9h0M342.7 756.4h0M351.4 740.9h0M311.1 718.0h0M308.0 714.4h0M325.7 748.7h0M352.1 718.5h0M325.6 746.1h0M351.8 736.2h0M351.8 712.5h0M351.5 722.3h0M355.8 733.9h0M342.7 716.8h0M325.7 729.9h0M341.8 711.5h0M310.8 707.9h0M340.4 735.5h0M344.8 706.2h0M347.6 732.8h0M341.4 741.1h0M325.7 756.3h0M333.9 760.0h0M358.2 739.0h0M334.1 741.8h0M332.5 714.9h0M322.5 707.4h0M316.9 748.1h0M336.5 759.0h0M326.2 704.0h0M338.7 711.2h0M331.4 715.7h0M332.9 731.6h0M352.9 715.8h0M356.4 748.6h0M355.2 747.8h0M318.6 735.5h0M352.2 738.3h0M338.5 722.6h0M360.2 733.2h0M327.6 706.2h0M349.2 709.8h0M353.3 726.8h0M342.5 756.7h0M306.3 722.2h0M328.2 724.6h0M321.1 705.3h0M323.1 758.9h0M333.6 696.6h0M329.9 739.9h0M306.7 731.2h0M325.0 732.7h0M333.6 710.5h0M322.9 714.1h0M313.4 740.7h0M352.8 711.5h0M350.0 749.9h0M333.7 728.1h0M330.2 757.9h0M330.9 751.8h0M330.5 757.5h0M318.8 735.3h0M341.8 705.5h0M319.2 717.6h0M355.4 731.1h0M339.1 715.1h0M360.5 740.0h0M325.3 699.8h0M358.2 745.0h0M304.7 734.2h0M355.2 719.8h0M339.5 737.1h0M346.3 745.8h0M340.1 744.2h0M334.4 698.3h0M317.0 749.7h0M320.0 730.1h0M334.6 756.2h0M359.3 738.7h0M314.8 706.6h0M303.5 719.2h0M335.6 721.7h0M319.4 723.3h0M321.7 705.7h0M342.1 702.1h0M360.9 723.0h0M362.4 728.7h0M348.3 741.9h0M336.8 718.0h0M349.0 737.8h0M351.4 748.1h0M315.4 720.9h0M309.4 732.9h0M353.5 750.4h0M317.4 753.4h0M317.3 712.2h0M349.4 703.1h0M341.4 717.0h0M324.4 754.9h0M315.2 717.7h0M328.2 753.4h0M336.2 731.7h0M357.1 720.2h0M310.6 738.2h0M315.1 719.3h0M313.6 735.0h0M353.3 733.2h0M313.6 705.5h0M359.9 725.4h0M310.1 745.9h0M335.7 703.5h0M345.4 731.1h0M333.9 727.5h0M346.7 723.3h0M336.8 735.0h0M344.9 707.5h0M321.4 723.9h0M352.5 713.9h0M344.5 713.0h0M335.6 735.4h0M332.4 741.4h0M343.8 752.1h0M306.0 737.4h0M348.5 741.4h0M317.7 734.0h0M332.5 734.4h0M333.2 724.3h0M315.1 703.5h0M323.4 702.7h0M304.6 713.8h0M339.7 750.3h0M320.4 747.6h0M341.8 704.3h0M327.8 733.8h0M353.0 727.1h0M335.7 726.2h0M333.4 699.9h0M342.5 699.6h0M336.1 700.8h0M320.2 711.5h0M322.2 700.3h0M358.1 718.9h0M303.6 727.7h0M350.6 719.8h0M333.1 709.1h0M326.2 701.2h0M309.4 721.7h0M344.3 703.2h0M332.2 740.8h0M352.2 726.4h0M350.7 723.3h0M318.3 739.3h0M313.7 714.0h0M350.1 731.4h0M342.2 754.5h0M346.1 709.1h0M329.9 721.6h0M305.4 727.3h0M322.4 717.5h0M324.0 758.9h0M327.0 760.0h0M340.7 750.9h0M335.1 710.8h0M349.4 734.2h0M323.1 745.8h0M338.7 712.5h0M312.1 741.0h0M335.8 729.8h0M337.7 756.2h0M354.2 718.6h0M314.1 743.6h0M307.1 720.1h0M306.0 718.2h0M308.2 734.8h0M320.5 709.6h0M311.4 748.8h0M344.5 732.2h0M354.8 720.4h0M321.3 733.0h0M310.8 723.8h0M353.7 710.2h0M350.3 742.2h0M341.6 725.1h0M349.5 712.3h0M343.6 730.5h0M330.1 718.9h0M337.2 726.3h0M352.1 725.6h0M344.8 745.3h0M329.5 696.1h0M350.3 719.3h0M307.7 720.5h0M311.6 749.9h0M327.1 746.9h0M342.3 702.3h0M352.6 749.9h0M325.1 741.6h0M334.6 702.8h0M308.3 737.8h0M341.0 751.5h0M319.4 710.7h0M335.5 713.6h0M328.4 701.5h0M359.4 745.6h0M341.4 751.6h0M351.1 740.7h0M316.3 731.6h0M327.3 714.4h0M328.0 709.2h0M328.0 711.3h0M321.9 721.2h0M327.3 742.0h0M340.6 734.1h0M315.8 748.3h0M342.9 748.8h0M358.3 712.7h0M353.9 741.2h0M352.2 725.4h0M311.7 730.0h0M346.0 739.7h0M329.3 697.6h0M344.6 748.8h0M346.2 753.9h0M328.7 731.3h0M348.5 752.2h0M316.5 701.3h0M330.6 735.4h0M361.4 723.0h0M316.1 720.2h0M328.2 714.2h0M331.1 741.3h0M336.7 730.0h0M322.4 713.5h0M306.2 725.0h0M336.6 741.3h0M336.4 716.4h0M343.4 746.4h0M356.4 710.5h0M353.4 749.6h0M357.7 716.1h0M328.7 749.0h0M347.7 734.1h0M358.2 718.8h0M317.2 736.9h0M309.7 730.2h0M349.7 736.8h0M344.4 758.1h0M304.2 728.7h0M332.8 731.9h0M331.2 735.4h0M355.0 750.9h0M338.1 749.2h0M361.2 741.5h0M313.5 729.2h0M345.1 737.2h0M352.6 704.5h0M353.0 726.6h0M318.8 745.7h0M324.1 717.8h0M347.6 744.8h0M355.2 743.0h0M323.4 747.1h0M327.3 715.2h0M311.8 737.9h0M347.2 711.3h0M319.3 743.2h0M319.9 711.0h0M335.4 717.0h0M352.5 708.8h0M345.3 743.4h0M329.3 708.8h0M315.2 712.1h0M313.0 747.3h0M328.8 747.6h0M304.6 723.5h0M325.6 753.8h0M357.1 742.8h0M318.3 702.6h0M350.9 745.9h0" stroke="#a87868" stroke-width="1.10" stroke-linecap="round" fill="none"/><path d="M348.4 709.3h0M318.6 713.2h0M336.5 719.0h0M319.0 730.1h0M351.6 704.3h0M339.7 749.7h0M330.2 702.6h0M351.6 716.6h0M321.0 737.5h0M309.7 707.9h0M331.0 751.7h0M331.1 725.0h0M352.3 718.5h0M342.9 701.4h0M319.9 715.9h0M319.9 752.0h0M330.0 707.3h0M328.7 719.7h0M350.5 738.9h0M317.4 721.3h0M317.2 715.6h0M302.1 731.1h0M362.7 719.4h0M344.0 702.7h0M337.1 715.7h0M321.0 743.3h0M313.1 741.6h0M314.0 711.6h0M343.8 702.1h0M324.1 701.9h0M309.5 729.8h0M351.9 749.4h0M335.2 734.0h0M337.1 745.4h0M353.3 739.2h0M334.4 707.3h0M305.9 733.5h0M323.9 757.7h0M326.6 707.1h0M331.6 697.1h0M312.4 708.5h0M359.8 721.9h0M345.3 752.7h0M335.9 734.2h0M340.8 753.7h0M320.2 720.5h0M342.8 731.8h0M339.0 757.3h0M361.2 716.0h0M326.0 707.6h0M357.8 734.3h0M354.8 733.0h0M312.3 721.4h0M323.0 747.9h0M309.4 720.6h0M335.9 703.5h0M308.7 738.5h0M335.5 752.2h0M352.6 727.6h0M332.6 719.8h0M321.7 751.2h0M343.5 715.5h0M338.4 738.5h0M332.1 738.0h0M340.1 720.9h0M354.0 708.4h0M343.9 706.5h0M313.8 708.5h0M340.4 714.7h0M348.3 735.0h0M333.5 739.7h0M307.7 715.5h0M322.4 735.1h0M316.3 738.1h0M345.1 732.4h0M351.5 726.1h0M327.6 696.1h0M307.8 729.0h0M339.6 742.9h0M337.1 712.4h0M355.4 717.9h0M348.0 728.0h0M330.6 748.9h0M351.3 746.1h0M312.0 743.1h0M316.5 723.0h0M329.5 734.7h0M302.2 720.5h0M341.0 746.4h0M314.0 705.6h0M322.1 727.6h0M362.3 739.7h0M312.6 734.4h0M335.2 703.6h0M348.7 723.2h0M334.0 725.8h0M315.6 751.9h0M336.8 702.1h0M323.0 724.3h0M336.1 758.5h0M346.9 713.3h0M342.9 718.5h0M344.2 758.5h0M318.4 716.6h0M347.3 736.3h0M345.2 715.8h0M349.7 732.2h0M352.4 738.5h0M323.4 716.3h0M353.9 743.3h0M321.1 712.8h0M340.9 745.4h0M302.6 721.2h0M312.8 723.4h0M331.6 699.7h0M355.1 750.2h0M321.9 755.8h0M340.7 735.5h0M319.4 734.3h0M309.5 733.4h0M363.3 735.3h0M321.1 702.0h0M319.6 724.1h0M347.2 753.3h0M321.9 751.9h0M305.2 727.1h0M302.6 738.1h0M312.6 718.2h0M337.1 708.3h0M302.8 728.4h0M351.6 723.9h0M347.0 723.5h0M340.0 727.6h0M350.6 745.3h0M320.4 725.4h0M345.7 701.9h0M328.2 759.5h0M326.5 752.6h0M330.5 734.7h0M324.3 758.1h0M334.7 756.6h0M343.5 717.4h0M335.4 719.8h0M333.3 727.5h0M340.1 701.1h0M353.4 703.7h0M335.2 725.0h0M360.4 723.8h0M349.1 750.9h0M346.6 734.6h0M314.7 737.2h0M339.5 758.1h0M346.0 721.0h0M356.1 729.0h0M335.9 744.3h0M326.0 752.3h0M349.1 732.0h0M352.1 732.8h0M329.0 754.2h0M317.5 752.7h0M307.1 744.4h0M334.2 746.2h0M323.9 757.4h0M311.4 743.0h0M327.4 732.4h0M322.9 711.7h0M344.1 729.3h0M313.6 724.7h0M319.2 727.0h0M353.5 704.9h0M344.0 756.0h0M316.2 750.9h0M306.4 739.7h0M306.9 713.5h0M314.0 752.5h0M308.0 730.2h0M343.1 697.5h0M308.6 719.8h0M335.7 753.5h0M301.9 735.1h0M321.8 703.2h0M312.7 731.9h0M307.0 726.4h0M336.7 751.1h0M349.5 755.4h0M347.9 710.8h0M309.5 707.7h0M358.5 730.5h0M339.9 752.0h0M318.4 706.1h0M345.6 713.7h0M309.8 723.4h0M360.7 725.2h0M319.4 747.5h0M343.5 750.1h0M325.9 708.1h0M315.7 709.8h0M333.8 704.4h0M341.6 711.7h0M327.0 757.0h0M352.6 705.6h0M345.2 702.5h0M332.1 719.5h0M335.0 751.7h0M337.0 707.2h0M327.7 737.7h0M324.9 716.2h0M324.4 703.3h0M341.1 708.5h0M337.8 702.0h0M337.8 699.8h0M338.3 725.4h0M343.0 697.7h0M358.4 709.2h0M346.3 706.5h0M352.0 744.9h0M311.7 704.3h0M329.8 711.0h0M323.3 719.4h0M324.0 731.7h0M352.5 734.2h0M309.1 726.2h0M332.8 739.1h0M316.9 703.3h0M301.1 728.7h0M340.1 721.5h0M323.1 711.9h0M341.1 725.1h0M342.3 721.8h0M340.5 742.1h0M314.5 727.7h0M314.3 705.0h0M309.1 723.6h0M351.1 706.4h0M336.0 744.0h0M351.4 704.7h0M330.7 751.7h0M350.0 738.9h0M330.9 729.3h0M318.0 707.3h0M358.3 730.9h0M325.0 724.7h0M316.6 732.2h0M352.7 704.4h0M354.3 742.4h0M351.3 735.4h0M353.9 743.5h0M353.3 744.8h0M346.2 725.3h0M340.4 736.8h0M362.2 720.1h0M343.9 713.2h0M314.2 746.2h0M315.8 735.3h0M313.7 728.3h0M321.3 748.8h0M332.7 741.0h0M333.6 696.9h0M315.9 718.1h0M329.9 757.4h0M363.7 730.7h0M320.7 728.5h0M337.8 755.6h0M353.6 716.6h0M345.1 713.6h0M350.2 718.7h0M314.2 707.6h0M325.4 750.7h0M342.9 715.3h0M345.5 747.2h0M311.6 726.4h0M305.4 718.4h0M332.4 705.7h0M314.1 706.1h0M356.7 729.1h0M352.1 704.8h0M320.3 727.7h0M313.9 705.0h0M343.6 732.6h0M324.0 750.5h0M359.1 726.6h0M346.1 751.2h0M311.3 717.8h0M308.3 740.2h0M314.1 706.7h0M337.9 748.3h0M340.8 758.6h0M335.9 725.3h0M340.2 731.1h0M341.2 712.1h0M322.2 724.2h0M322.9 707.2h0M334.5 715.9h0M333.9 703.8h0M326.1 724.3h0M318.6 752.4h0M314.4 741.5h0M353.0 747.0h0M325.8 715.9h0M315.7 749.9h0M337.4 752.9h0M313.5 731.4h0M332.5 725.6h0M329.0 723.5h0M321.7 741.3h0M328.9 743.3h0M318.1 743.4h0M340.7 702.0h0" stroke="#d8caca" stroke-width="1.10" stroke-linecap="round" fill="none"/><path d="M341.4 717.5h0M348.3 743.8h0M327.6 702.9h0M308.5 712.4h0M317.5 727.6h0M314.2 720.4h0M326.3 728.1h0M324.8 742.1h0M303.3 733.6h0M317.9 700.2h0M321.7 710.3h0M345.6 703.4h0M339.5 737.3h0M314.8 706.3h0M311.8 744.1h0M349.6 739.2h0M326.5 721.9h0M345.8 732.0h0M362.0 736.1h0M332.5 751.5h0M319.3 721.0h0M318.3 702.7h0M317.4 747.2h0M301.9 721.7h0M331.7 750.0h0M314.0 716.0h0M305.3 717.5h0M322.6 735.9h0M340.7 737.6h0M362.8 726.1h0M338.8 732.9h0M354.0 748.6h0M306.2 717.2h0M316.9 755.1h0M356.2 712.8h0M349.7 723.0h0M341.6 747.3h0M313.8 724.9h0M333.4 712.2h0M341.2 703.5h0M327.7 748.5h0M328.5 712.1h0M327.8 721.4h0M342.7 712.5h0M333.8 701.9h0M307.2 721.6h0M328.6 726.6h0M334.6 722.8h0M360.5 728.1h0M331.1 705.8h0M325.0 757.8h0M336.5 749.7h0M319.2 742.4h0M324.9 759.5h0M351.1 741.0h0M322.5 724.4h0M352.3 725.8h0M348.3 725.5h0M326.3 759.8h0M345.8 702.3h0M360.0 718.5h0M319.1 743.8h0M355.2 708.9h0M333.2 754.4h0M339.0 727.8h0M358.0 720.5h0M323.2 755.6h0M344.7 717.9h0M322.9 728.0h0M316.7 747.6h0M333.4 754.0h0M310.4 738.0h0M340.4 721.4h0M332.1 711.4h0M337.8 731.8h0M309.5 737.8h0M356.9 747.0h0M336.1 711.1h0M324.8 747.6h0M333.0 714.4h0M323.0 742.5h0M326.5 701.4h0M308.8 721.4h0M317.5 709.9h0M326.6 759.6h0M321.6 707.5h0M312.2 724.8h0M357.7 742.6h0M338.3 698.5h0M313.0 703.3h0M332.4 716.9h0M361.5 719.5h0M308.3 718.7h0M310.0 726.8h0M311.3 723.5h0M316.2 720.6h0M330.0 736.9h0M354.6 749.0h0M346.9 704.9h0M322.3 720.3h0M348.3 749.3h0M344.7 741.2h0M344.7 715.5h0M337.4 708.5h0M354.7 748.8h0M327.4 725.6h0M344.6 753.8h0M322.4 757.3h0M355.1 722.9h0M307.3 737.7h0M339.4 707.6h0M328.6 747.0h0M354.1 742.7h0M316.6 738.0h0M330.5 720.4h0M313.4 742.9h0M356.7 720.5h0M349.8 716.7h0M320.5 723.2h0M345.3 729.6h0M333.8 732.3h0M346.8 736.9h0M335.2 701.3h0M343.6 740.3h0M330.3 757.5h0M347.9 730.3h0M348.5 725.0h0M350.0 720.2h0M363.1 733.2h0M306.6 728.4h0M332.4 759.5h0M309.5 714.0h0M342.9 735.4h0M349.5 750.7h0M347.9 700.1h0M306.7 733.3h0M321.4 752.1h0M333.3 695.7h0M320.1 727.0h0M307.3 714.0h0M359.6 723.2h0M325.1 737.3h0M336.9 717.2h0M305.1 734.9h0M325.2 740.5h0M320.1 724.9h0M332.9 726.9h0M342.0 722.1h0M344.6 753.6h0M324.9 701.7h0M310.1 715.6h0M346.6 710.9h0M320.6 726.7h0M313.0 713.0h0M328.7 698.7h0M328.1 758.2h0M320.6 736.8h0M359.7 720.6h0M320.6 741.0h0M343.6 705.1h0M346.2 727.6h0M332.9 755.5h0M328.0 749.7h0M308.4 728.6h0M360.2 721.5h0M342.9 747.0h0M329.6 739.9h0M352.2 707.2h0M325.8 748.5h0M324.2 749.4h0M315.9 718.0h0M345.3 722.6h0M343.2 715.1h0M357.1 725.9h0M308.2 709.9h0M325.0 706.5h0M308.1 737.5h0M346.4 735.6h0M324.0 711.2h0M361.5 739.6h0M340.3 725.3h0M350.4 714.3h0M307.8 745.0h0M327.3 736.3h0M313.4 745.6h0M317.5 708.1h0M354.1 710.9h0M320.8 724.7h0M353.6 713.1h0M311.4 721.2h0M345.2 746.6h0M339.8 718.5h0M336.0 702.0h0M353.2 716.0h0M354.9 748.2h0M362.6 735.2h0M309.0 738.9h0M328.0 714.5h0M313.7 740.6h0M327.9 706.4h0M357.8 711.9h0M333.9 697.2h0M352.5 727.4h0M333.4 757.5h0M312.7 735.5h0M337.9 758.7h0M332.7 759.0h0M316.7 708.5h0M321.3 705.1h0M318.7 722.4h0M361.3 715.2h0M327.4 745.4h0M361.1 735.6h0M346.9 754.4h0M310.3 745.6h0M326.2 723.4h0M315.1 703.9h0M341.2 706.9h0M354.2 713.0h0M351.1 712.3h0M324.4 697.6h0M357.3 722.5h0M322.5 740.8h0M352.0 724.4h0M339.5 699.2h0M327.2 757.4h0M327.8 706.2h0M358.9 739.2h0M315.4 749.4h0M325.7 710.0h0M340.5 752.2h0M352.8 735.1h0M341.3 728.0h0M307.1 719.1h0M330.7 710.0h0M343.3 712.3h0M329.8 737.2h0M351.1 735.6h0M307.2 723.1h0M360.6 742.4h0M347.0 742.0h0M344.8 717.6h0M313.9 752.1h0M343.6 735.9h0M308.4 708.4h0M347.1 700.9h0M345.2 730.2h0M329.2 701.0h0M353.5 718.2h0M309.8 740.7h0M328.9 717.8h0M317.9 719.4h0M304.4 731.4h0M350.5 732.0h0M323.4 743.8h0M363.7 722.8h0M318.4 734.1h0M309.5 721.4h0M314.7 732.6h0M336.7 703.5h0M357.4 725.8h0M353.5 715.1h0M359.6 729.2h0M338.5 753.3h0M313.5 750.8h0M306.8 742.2h0M340.8 733.2h0M342.6 749.8h0M319.4 754.9h0M349.3 740.5h0M356.8 709.0h0M322.9 716.9h0M312.9 736.9h0M347.5 747.9h0M334.9 756.1h0M344.6 702.6h0M329.7 698.4h0M338.9 730.0h0M328.6 755.3h0M355.0 740.3h0M324.9 715.3h0M359.7 720.7h0M316.1 726.1h0M351.1 747.1h0M322.2 706.7h0M328.2 719.8h0M345.1 704.0h0M345.8 757.8h0M341.3 697.9h0M315.0 705.8h0M356.2 739.6h0M349.5 706.8h0M326.6 716.6h0M335.7 735.7h0M318.8 708.5h0M353.5 744.4h0M354.2 710.9h0M335.3 707.5h0M346.4 712.9h0M317.1 751.2h0M327.2 750.6h0M318.3 748.6h0M319.3 738.2h0M331.2 732.0h0M303.6 738.9h0M352.7 726.0h0M346.1 724.4h0M362.5 719.2h0M307.8 718.9h0M327.1 721.8h0M328.2 718.6h0M322.8 754.1h0M334.5 732.5h0M342.2 709.0h0M319.4 733.2h0M340.3 731.4h0M314.9 732.0h0M309.1 744.8h0M306.7 715.9h0M350.2 743.4h0M312.4 716.1h0M349.0 735.0h0M339.3 746.5h0M356.6 721.9h0M320.7 756.4h0M319.7 729.4h0M331.7 724.9h0M321.6 703.6h0M360.3 737.5h0M305.5 732.7h0M340.5 746.4h0M331.6 711.8h0M323.3 719.7h0M335.9 755.9h0M325.9 746.2h0M341.5 720.8h0M344.6 746.9h0M301.7 735.1h0M328.4 741.1h0M318.7 753.9h0M343.1 749.6h0M339.7 720.5h0M337.3 703.6h0M321.6 741.1h0M328.7 698.9h0M318.0 722.4h0M339.9 747.7h0" stroke="#b08474" stroke-width="1.10" stroke-linecap="round" fill="none"/><circle cx="305" cy="768" r="23.7" fill="#f4f4f6"/></g>
<text x="95.80" y="763.30" font-size="9.0" fill="#000" textLength="24.8" lengthAdjust="spacingAndGlyphs" >PRKDC</text>
<text x="262.80" y="762.80" font-size="9.0" fill="#000" textLength="24.9" lengthAdjust="spacingAndGlyphs" >PRKDC</text>
<circle cx="447.7" cy="673.4" r="0.8" fill="#000"/>
<text x="455.20" y="675.00" font-size="4.6" fill="#c0a83c" textLength="24.8" lengthAdjust="spacingAndGlyphs" >Tumor Core</text>
<path d="M445.9 681.9 L447.7 678.3 L449.5 681.9 Z" fill="#000"/>
<text x="455.20" y="681.60" font-size="4.6" fill="#4a7cc0" textLength="20" lengthAdjust="spacingAndGlyphs" >Periphery</text>
<defs><linearGradient id="gG" x1="0" y1="0" x2="0" y2="1"><stop offset="0" stop-color="#c2a93a"/><stop offset="1" stop-color="#c2a93a" stop-opacity="0.02"/></linearGradient><linearGradient id="gB" x1="0" y1="0" x2="0" y2="1"><stop offset="0" stop-color="#3b78c8"/><stop offset="1" stop-color="#3b78c8" stop-opacity="0.02"/></linearGradient></defs>
<rect x="456.4" y="698.6" width="4.2" height="55.4" fill="url(#gG)"/>
<rect x="461.8" y="698.6" width="4.2" height="55.4" fill="url(#gB)"/>
<text x="453.60" y="757.20" font-size="4.6" fill="#333" text-anchor="end" >0</text>
<line x1="453.8" y1="755.6" x2="455" y2="755.6" stroke="#333" stroke-width="0.3"/>
<text x="453.60" y="748.78" font-size="4.6" fill="#333" text-anchor="end" >2</text>
<line x1="453.8" y1="747.2" x2="455" y2="747.2" stroke="#333" stroke-width="0.3"/>
<text x="453.60" y="740.37" font-size="4.6" fill="#333" text-anchor="end" >4</text>
<line x1="453.8" y1="738.8" x2="455" y2="738.8" stroke="#333" stroke-width="0.3"/>
<text x="453.60" y="731.95" font-size="4.6" fill="#333" text-anchor="end" >6</text>
<line x1="453.8" y1="730.4" x2="455" y2="730.4" stroke="#333" stroke-width="0.3"/>
<text x="453.60" y="723.53" font-size="4.6" fill="#333" text-anchor="end" >8</text>
<line x1="453.8" y1="721.9" x2="455" y2="721.9" stroke="#333" stroke-width="0.3"/>
<text x="453.60" y="715.12" font-size="4.6" fill="#333" text-anchor="end" >10</text>
<line x1="453.8" y1="713.5" x2="455" y2="713.5" stroke="#333" stroke-width="0.3"/>
<text x="453.60" y="706.70" font-size="4.6" fill="#333" text-anchor="end" >12</text>
<line x1="453.8" y1="705.1" x2="455" y2="705.1" stroke="#333" stroke-width="0.3"/>
<text transform="translate(446.60,727.20) rotate(-90)" font-size="4.6" fill="#333" text-anchor="middle" textLength="47.5" lengthAdjust="spacingAndGlyphs" >log2 Counts Per Million</text>
<line x1="499.5" y1="694.5" x2="499.5" y2="747.3" stroke="#ccc" stroke-width="0.6"/>
<line x1="499.5" y1="747.3" x2="544" y2="747.3" stroke="#ccc" stroke-width="0.6"/>
<text x="497.90" y="748.90" font-size="4.6" fill="#333" text-anchor="end" >0</text>
<text x="497.90" y="739.72" font-size="4.6" fill="#333" text-anchor="end" >1</text>
<text x="497.90" y="730.54" font-size="4.6" fill="#333" text-anchor="end" >2</text>
<text x="497.90" y="721.36" font-size="4.6" fill="#333" text-anchor="end" >3</text>
<text x="497.90" y="712.18" font-size="4.6" fill="#333" text-anchor="end" >4</text>
<text x="497.90" y="703.00" font-size="4.6" fill="#333" text-anchor="end" >5</text>
<rect x="509.9" y="698.0" width="9.9" height="49.3" fill="#c2a83a"/>
<rect x="524.5" y="706.1" width="9.5" height="41.2" fill="#3e7bc4"/>
<line x1="514.9" y1="696" x2="514.9" y2="698" stroke="#777" stroke-width="0.4"/>
<line x1="529.3" y1="700.8" x2="529.3" y2="711" stroke="#777" stroke-width="0.4"/>
<text transform="translate(493.30,720.50) rotate(-90)" font-size="4.6" fill="#333" text-anchor="middle" textLength="45" lengthAdjust="spacingAndGlyphs" >log2 Counts Per Million</text>
<text transform="translate(517.00,749.80) rotate(-35)" font-size="4.5" fill="#333" text-anchor="end" >Tumor Core</text>
<text transform="translate(531.80,749.80) rotate(-35)" font-size="4.5" fill="#333" text-anchor="end" >Periphery</text>
<path d="M565.4 743.4h0M592.5 739.5h0M569.0 748.1h0M596.5 740.6h0M571.3 746.8h0M572.7 743.0h0M587.5 744.6h0M582.7 741.4h0M562.5 747.8h0M591.7 749.1h0M574.4 749.7h0M566.8 742.9h0M575.5 747.4h0M594.4 748.0h0M577.1 745.6h0M584.8 745.8h0M588.7 747.7h0M595.5 749.9h0M587.2 746.4h0M560.3 745.8h0M575.5 744.5h0M565.6 748.0h0M580.1 746.3h0M600.7 739.1h0M569.9 746.4h0M581.9 743.3h0M589.4 746.7h0M584.3 743.0h0M587.8 751.3h0M565.2 742.8h0M583.6 745.6h0M564.5 743.6h0M583.7 747.7h0M584.3 744.9h0M569.4 742.5h0M580.0 741.8h0M584.6 745.2h0M565.5 745.4h0M567.9 745.5h0M577.7 741.9h0M562.3 740.6h0M561.2 738.9h0M587.3 741.7h0M589.5 748.8h0M596.8 742.9h0M588.7 740.3h0M560.3 747.8h0M554.6 747.9h0M588.5 745.7h0M580.9 742.3h0M585.3 743.8h0M585.0 745.4h0M564.7 743.1h0M583.7 743.2h0M592.5 742.8h0M603.1 736.7h0M568.5 741.2h0M574.4 746.3h0M557.0 742.3h0M574.2 746.9h0M568.4 745.6h0M594.2 743.9h0M573.2 741.6h0M596.6 741.7h0M584.1 737.7h0M562.9 748.5h0M580.2 735.4h0M584.6 741.3h0M597.9 744.6h0M594.5 740.3h0M577.3 753.2h0M592.9 743.6h0M594.8 749.1h0M562.2 747.1h0M585.4 743.8h0M565.9 738.8h0M598.3 741.8h0M580.2 743.1h0M570.6 746.9h0M563.1 746.3h0M558.0 745.7h0M573.7 744.2h0M582.4 749.8h0M572.7 743.5h0M602.0 742.7h0M560.5 741.1h0M589.3 748.8h0M573.3 745.2h0M559.2 744.5h0M571.9 738.7h0M578.5 748.4h0M580.8 743.5h0M593.6 749.4h0M576.9 745.6h0M579.0 742.0h0M560.5 742.0h0M590.2 742.6h0M597.6 749.1h0M569.6 741.0h0M584.9 740.3h0M593.2 742.3h0M572.0 740.3h0M577.6 743.2h0M586.4 745.4h0M574.5 749.7h0M584.2 742.7h0M580.1 744.5h0M590.3 745.1h0M581.9 742.9h0M571.7 746.6h0M564.9 738.7h0M593.8 743.6h0M577.7 741.9h0M580.5 749.0h0M589.7 745.2h0M583.5 746.8h0M597.2 736.4h0M582.9 741.6h0M583.0 743.3h0M584.2 742.5h0M590.1 750.6h0M575.1 740.5h0M574.4 747.2h0M571.9 741.7h0M560.3 747.9h0M587.7 748.0h0M567.9 739.5h0M578.3 750.9h0M565.3 743.2h0M573.6 749.9h0M581.3 744.6h0M584.2 749.5h0M583.4 742.3h0M571.0 734.8h0M575.4 744.8h0M565.0 745.3h0M562.8 745.6h0M600.1 735.9h0M563.2 739.0h0M596.7 746.7h0M596.1 740.3h0M568.8 742.8h0M586.6 742.2h0M578.0 743.5h0M569.8 736.3h0M565.9 744.8h0M591.0 743.9h0M588.6 743.2h0M585.1 744.2h0M569.0 745.5h0M574.6 742.8h0M582.9 742.6h0M565.5 737.9h0M566.9 738.0h0M593.7 742.1h0M592.6 749.3h0M591.7 747.1h0M589.5 746.7h0M570.3 742.0h0M568.3 740.7h0M571.5 744.1h0M596.7 747.2h0M557.7 747.2h0M591.4 746.6h0M580.4 744.7h0M592.6 746.3h0M598.2 740.0h0M568.6 747.9h0M582.9 743.4h0M603.5 746.8h0M577.0 741.8h0M584.1 743.4h0M586.5 746.5h0M566.1 742.7h0M589.1 739.4h0M570.3 742.9h0M599.0 737.2h0M595.7 737.8h0M563.3 741.6h0M577.4 748.6h0M581.4 746.5h0M575.5 743.5h0M571.1 741.5h0M568.2 739.2h0M593.5 746.3h0M561.8 743.5h0M582.8 745.3h0M571.0 743.4h0M568.1 744.9h0M595.8 750.3h0M577.9 745.0h0M574.2 751.0h0M585.4 744.3h0M588.7 741.9h0M570.3 742.6h0M596.7 743.4h0M573.5 744.7h0M578.3 741.7h0M568.3 745.0h0M569.6 744.8h0M596.5 745.1h0M599.7 740.1h0M602.7 745.4h0M570.2 746.9h0M594.4 747.0h0M560.8 744.8h0M590.8 741.8h0M594.5 740.8h0M594.2 746.4h0M577.2 743.5h0M567.3 745.1h0M582.3 748.5h0M595.5 745.0h0M603.0 747.5h0M592.4 746.6h0M575.0 747.4h0M577.1 745.0h0M566.7 743.9h0M585.3 743.6h0M580.4 749.0h0M597.4 741.8h0M563.3 739.0h0M596.5 742.9h0M600.6 735.1h0M568.8 745.7h0M563.4 741.1h0M569.7 741.2h0M558.3 741.6h0M577.5 750.0h0M576.4 740.6h0M562.4 731.1h0M561.9 727.8h0M559.0 730.2h0M563.1 738.1h0M555.7 718.4h0M556.4 723.1h0M563.6 735.6h0M558.5 724.1h0M563.3 724.9h0M555.2 728.1h0M571.0 738.6h0M554.4 715.7h0M561.3 715.9h0M563.0 734.3h0M564.9 738.9h0M560.0 721.6h0M566.8 737.9h0M568.3 738.5h0M557.3 715.7h0M564.2 743.9h0M563.1 722.3h0M562.6 729.8h0M558.9 719.7h0M559.2 732.7h0M555.6 724.7h0M563.0 732.6h0M551.9 722.4h0M552.9 712.8h0M568.0 741.8h0M553.7 726.5h0M558.7 715.4h0M567.0 746.4h0M554.0 724.3h0M564.1 734.9h0M557.8 727.1h0M567.1 735.2h0M563.4 726.1h0M566.9 744.0h0M557.6 713.9h0M556.5 714.7h0M563.1 721.9h0M561.8 733.2h0M567.5 738.4h0M552.7 716.5h0M557.3 723.1h0M559.7 723.2h0M559.0 726.1h0M560.2 725.0h0M567.5 740.1h0M556.9 719.7h0M558.6 727.5h0M564.8 739.6h0M553.4 711.9h0M557.5 724.5h0M558.4 732.2h0M564.5 737.0h0M559.6 718.7h0M552.7 718.0h0M554.6 725.3h0M561.9 728.1h0M553.9 722.4h0M562.4 733.5h0M560.2 731.5h0M567.4 738.1h0M559.6 711.3h0M558.7 726.4h0M560.1 733.5h0M570.3 733.4h0M555.7 718.9h0M569.0 740.1h0M559.0 727.5h0M556.2 725.6h0M558.7 722.6h0M564.0 734.4h0M560.1 726.4h0M554.7 726.1h0M554.5 716.2h0M557.9 717.5h0M563.9 736.2h0M561.6 733.5h0M563.0 724.5h0M559.0 720.4h0M571.4 739.9h0M558.1 721.6h0M566.9 744.0h0M551.7 721.0h0M554.5 716.2h0M560.5 734.6h0M556.9 717.8h0M566.5 742.1h0M566.1 738.4h0M554.4 717.1h0M558.8 726.7h0M559.3 727.4h0M561.7 737.7h0M563.7 739.1h0M561.0 745.2h0M562.7 737.9h0M556.6 725.9h0M545.7 716.8h0M566.0 734.8h0M556.8 728.6h0M557.0 730.4h0M566.7 739.9h0M563.1 738.9h0M561.5 719.0h0M555.2 720.8h0M561.6 730.8h0M557.1 713.9h0M557.7 733.3h0M596.0 738.5h0M578.8 708.7h0M582.8 714.1h0M588.8 724.5h0M587.2 731.8h0M586.9 721.8h0M581.9 722.7h0M597.5 749.0h0M588.4 719.3h0M581.8 706.3h0M595.2 742.7h0M583.0 723.9h0M583.1 708.1h0M586.9 724.5h0M595.6 732.8h0M576.0 711.8h0M590.5 729.8h0M590.7 720.4h0M594.1 729.4h0M577.0 714.1h0M580.7 712.3h0M579.0 710.7h0M582.8 717.6h0M585.7 722.0h0M589.7 720.6h0M592.7 733.6h0M578.1 711.1h0M592.8 731.6h0M584.5 717.0h0M577.3 713.1h0M593.6 737.2h0M589.0 720.1h0M582.8 711.8h0M587.0 727.2h0M586.4 718.6h0M584.2 715.1h0M595.2 738.6h0M584.3 728.4h0M597.6 738.1h0M588.4 724.4h0M590.8 727.4h0M593.4 737.6h0M588.1 721.3h0M580.1 719.6h0M591.7 740.1h0M590.9 737.1h0M591.3 724.7h0M581.8 716.4h0M588.2 721.4h0M582.3 719.5h0M594.1 736.9h0M592.0 733.9h0M585.1 725.6h0M580.9 709.1h0M600.4 739.5h0M584.3 726.9h0M585.2 731.2h0M586.9 718.3h0M587.8 721.7h0M587.1 714.4h0M583.1 718.1h0M579.0 712.1h0M586.7 731.5h0M581.5 716.1h0M580.6 712.9h0M590.4 723.7h0M584.2 722.6h0M587.5 729.0h0M593.8 732.6h0M587.8 722.5h0M591.1 733.6h0M592.2 728.8h0M585.2 713.6h0M582.3 716.1h0M595.0 728.3h0M591.6 730.2h0M590.3 732.9h0M583.0 709.0h0M593.0 727.1h0M595.4 740.1h0M578.4 709.3h0M582.0 715.7h0M599.0 737.1h0M587.1 730.0h0M587.8 720.0h0M592.5 737.4h0M587.2 725.3h0M590.8 728.4h0M595.6 731.6h0M592.6 738.7h0M587.1 742.3h0M568.3 723.2h0M585.6 731.1h0M565.4 731.5h0M590.9 749.0h0M575.6 720.1h0M563.8 730.8h0M575.6 734.1h0M566.7 741.9h0M560.6 745.4h0M560.2 740.0h0M575.8 741.3h0M588.2 736.7h0M561.5 712.5h0M592.3 736.7h0M579.2 724.7h0M572.2 742.4h0M555.5 725.6h0M572.3 733.5h0M570.2 711.4h0M574.5 715.6h0M557.2 751.4h0M577.9 738.2h0M582.6 734.9h0M578.6 723.7h0M564.9 736.0h0M564.0 731.7h0M555.9 746.7h0M556.0 744.6h0M587.8 743.5h0M595.2 751.3h0M575.1 726.6h0M559.8 736.3h0M560.4 722.8h0M555.6 748.8h0M563.9 720.5h0M564.6 733.4h0M589.6 744.0h0M585.9 730.8h0M577.3 732.3h0M581.5 748.7h0M575.9 737.3h0M577.5 727.3h0M577.3 723.6h0M560.9 732.2h0M565.8 736.1h0M558.0 716.5h0M594.0 742.1h0M566.1 718.9h0M561.0 738.9h0M572.9 721.9h0M596.8 751.2h0M589.7 749.2h0M560.8 741.4h0M569.1 746.1h0M572.7 745.7h0M559.5 750.8h0M574.4 747.1h0M557.2 731.7h0M591.9 730.6h0M592.6 731.0h0M599.7 749.6h0M566.1 711.0h0M578.8 724.4h0M566.5 722.9h0M556.8 740.6h0M556.9 738.7h0M581.2 738.6h0M609.0 691.3h0M604.9 696.9h0M614.4 695.5h0M610.3 691.4h0M605.8 693.3h0M611.1 695.4h0M617.5 693.1h0M602.2 701.8h0M599.5 697.6h0M607.8 689.4h0M610.3 692.6h0M613.4 693.9h0M611.3 694.6h0M603.8 693.6h0M610.6 695.7h0M609.7 696.9h0M619.2 694.7h0M618.6 689.2h0M608.0 703.0h0M606.5 690.3h0M602.4 689.9h0M603.6 694.6h0M598.2 693.7h0M603.1 700.3h0M611.0 690.0h0M611.0 694.3h0M604.7 694.1h0M610.4 694.7h0M610.6 688.8h0M614.9 686.4h0M609.5 689.6h0M603.1 691.7h0M606.8 694.2h0M599.4 687.3h0M608.8 698.2h0M612.5 699.9h0M606.7 689.1h0M602.0 698.3h0M596.0 688.3h0M616.3 692.4h0M607.0 701.1h0M611.1 694.9h0M598.5 690.2h0M604.3 700.4h0M601.2 692.5h0M607.4 691.5h0M598.4 697.1h0M598.1 694.8h0M604.1 687.0h0M612.5 696.6h0M598.2 697.0h0M609.8 699.4h0M604.9 697.0h0M597.9 693.4h0M610.2 697.5h0M605.7 688.8h0M607.2 698.0h0M606.5 692.2h0M607.5 693.0h0M596.8 681.9h0M615.0 699.6h0M610.0 693.3h0M613.7 691.9h0M609.9 694.1h0M607.9 695.1h0M607.1 690.6h0M613.0 698.1h0M611.3 693.0h0M615.7 693.4h0M604.7 693.9h0M607.7 696.9h0M607.9 693.2h0M608.2 690.0h0M607.6 700.1h0M606.7 689.4h0M600.9 695.1h0M607.6 685.1h0M598.7 692.8h0M613.2 692.6h0M610.4 698.9h0M597.9 692.1h0M605.9 692.7h0M611.7 688.3h0M603.0 696.8h0M608.7 696.6h0M604.3 693.6h0M608.9 692.8h0M607.6 695.1h0M608.7 686.2h0M607.2 698.1h0M609.5 700.9h0M614.8 694.1h0M603.1 695.5h0M598.5 694.3h0M596.1 695.9h0M612.1 693.1h0M614.1 693.3h0M602.3 691.0h0M598.3 692.0h0M603.9 700.5h0M609.8 694.8h0M596.0 688.9h0M612.5 695.3h0M610.2 698.4h0M605.5 691.4h0M610.0 686.7h0M616.6 699.7h0M604.5 692.6h0M594.1 691.2h0M598.8 697.0h0M609.3 694.7h0M614.7 690.7h0M618.5 692.5h0M608.2 688.7h0M610.1 691.9h0M603.5 705.1h0M613.1 696.9h0M612.4 691.2h0M595.6 697.8h0M606.9 690.7h0M605.0 685.7h0M606.6 689.0h0M599.2 695.9h0M605.9 683.4h0M598.4 690.3h0M600.4 696.8h0M607.6 692.9h0M602.7 696.1h0M606.4 692.5h0M610.2 694.8h0M606.5 693.1h0M607.3 694.3h0M603.7 687.4h0M606.3 695.1h0M603.9 694.8h0M611.0 694.0h0M607.7 699.8h0M608.0 684.8h0M616.9 691.1h0M610.0 699.3h0M642.3 679.5h0M643.3 680.2h0M644.4 681.6h0M642.5 679.4h0M642.9 683.0h0M645.9 679.5h0M645.6 683.5h0M645.7 691.1h0M647.8 680.4h0M644.1 674.8h0M648.1 672.6h0M650.0 676.6h0M649.1 683.2h0M649.8 680.6h0M644.1 672.0h0M643.7 678.0h0M648.5 677.4h0M644.0 682.5h0M648.0 675.4h0M647.9 681.6h0M644.5 683.7h0M645.2 682.0h0M648.6 675.5h0M646.0 675.2h0M646.4 689.1h0M641.7 675.2h0M644.9 679.4h0M651.9 680.8h0M649.2 679.2h0M646.2 682.1h0M644.0 679.3h0M647.5 674.3h0M649.0 682.4h0M649.5 676.5h0M646.6 673.2h0M646.4 683.6h0M641.8 683.3h0M642.9 677.0h0M640.5 678.0h0M644.7 675.4h0M646.0 672.9h0M647.2 679.2h0M646.5 677.5h0M647.5 674.9h0M646.9 678.4h0M639.8 685.1h0M642.2 678.3h0M648.1 676.7h0M647.7 674.8h0M649.9 678.6h0M649.3 680.5h0M646.8 680.7h0M648.0 681.3h0M647.2 678.0h0M648.4 681.3h0M648.1 679.4h0M642.3 678.5h0M646.4 678.8h0M648.5 685.6h0M648.0 674.0h0M644.3 676.5h0M649.6 686.0h0M650.7 675.3h0M646.6 680.6h0M641.7 677.6h0M642.1 682.8h0M642.3 684.2h0M645.9 674.3h0M645.1 680.5h0M647.0 681.0h0M597.0 676.7h0" stroke="#c4ac48" stroke-width="1.00" stroke-linecap="round" fill="none"/>
<path d="M590.6 699.4h0M587.3 693.0h0M593.7 696.4h0M589.0 693.3h0M587.5 694.2h0M585.3 695.7h0M591.0 698.6h0M583.0 694.2h0M589.3 692.9h0M598.2 700.7h0M588.2 697.5h0M599.7 698.7h0M597.1 701.5h0M585.6 702.2h0M587.6 701.6h0M588.8 695.2h0M593.3 691.3h0M593.0 697.6h0M593.2 696.7h0M591.5 694.1h0M594.5 704.6h0M581.0 692.3h0M584.6 695.5h0M591.0 692.6h0M586.0 698.5h0M593.0 694.2h0M596.0 697.2h0M586.5 693.4h0M590.5 691.9h0M595.6 703.2h0M579.9 697.4h0M584.4 698.4h0M580.7 694.1h0M587.9 701.3h0M583.3 701.2h0M584.4 696.0h0M589.9 696.3h0M590.5 699.0h0M590.6 701.5h0M599.4 699.2h0M597.6 695.4h0M593.2 699.5h0M599.4 696.3h0M590.3 694.9h0M583.2 693.5h0" stroke="#e2e2e2" stroke-width="1.10" stroke-linecap="round" fill="none"/>
<path d="M556.8 716.5h0M556.5 714.2h0M557.8 715.3h0M559.5 715.7h0M556.8 715.4h0M559.5 715.9h0M558.4 715.4h0M557.2 713.1h0M559.2 715.7h0M557.3 711.9h0M558.1 714.9h0M556.9 714.2h0M557.1 715.0h0M556.5 716.6h0M558.1 716.6h0M556.5 715.6h0M561.0 708.5h0M565.5 708.8h0M568.5 708.0h0M570.5 711.0h0M571.0 713.0h0M567.0 712.5h0M560.0 749.2h0M563.0 712.0h0" stroke="#4a80c4" stroke-width="1.10" stroke-linecap="round" fill="none"/>
<ellipse cx="635.3" cy="717.2" rx="4.60" ry="3.42" fill="#8c8c8c" transform="rotate(8.6 635.3 717.2)"/>
<ellipse cx="660.5" cy="722.0" rx="11.50" ry="5.04" fill="#8c8c8c" transform="rotate(-12.6 660.5 722.0)"/>
<ellipse cx="646.5" cy="729.0" rx="4.23" ry="4.68" fill="#8c8c8c" transform="rotate(0.0 646.5 729.0)"/>
<ellipse cx="662.7" cy="741.5" rx="4.32" ry="2.07" fill="#8c8c8c" transform="rotate(-5.7 662.7 741.5)"/>
<ellipse cx="656.2" cy="750.0" rx="6.81" ry="4.14" fill="#8c8c8c" transform="rotate(35.5 656.2 750.0)"/>
<ellipse cx="675.0" cy="737.3" rx="2.02" ry="2.07" fill="#8c8c8c" transform="rotate(0.0 675.0 737.3)"/>
<ellipse cx="643.2" cy="745.3" rx="1.66" ry="1.26" fill="#8c8c8c" transform="rotate(0.0 643.2 745.3)"/>
<ellipse cx="626.6" cy="733.5" rx="1.38" ry="1.08" fill="#8c8c8c" transform="rotate(0.0 626.6 733.5)"/>
<path d="M638.3 719.4h0M632.9 718.7h0M638.4 719.3h0M638.1 718.4h0M634.6 714.3h0M638.4 715.6h0M633.1 716.0h0M634.1 715.2h0M636.7 713.7h0M634.4 717.9h0M638.6 718.4h0M639.5 717.9h0M634.6 714.3h0M637.1 719.3h0M637.7 714.9h0M635.1 714.0h0M638.0 718.2h0M635.8 714.4h0M637.9 715.2h0M634.8 720.5h0M636.6 716.0h0M638.7 719.3h0M639.2 717.2h0M632.7 718.1h0M630.7 717.7h0M632.2 714.8h0M637.8 717.9h0M636.5 718.1h0M634.9 716.7h0M640.1 717.8h0M632.1 718.2h0M638.5 715.0h0M631.2 716.1h0M630.9 718.7h0M635.5 720.9h0M638.6 717.4h0M631.3 717.9h0M632.9 714.6h0M634.0 720.2h0M635.8 715.6h0M635.3 716.7h0M636.6 714.3h0M633.3 718.3h0M634.7 719.2h0M634.7 717.0h0M632.7 713.8h0M633.2 719.7h0M635.2 718.0h0M632.7 718.7h0M637.5 715.8h0M637.7 720.5h0M632.6 717.6h0M637.4 717.3h0M635.3 718.7h0M635.4 715.4h0M632.8 714.0h0M633.2 716.6h0M637.9 715.5h0M638.5 715.0h0M639.7 718.7h0M638.6 715.7h0M634.9 719.3h0M630.8 715.3h0M634.8 713.5h0M633.8 715.6h0M634.5 719.9h0M631.4 714.8h0M638.1 718.8h0M633.1 718.9h0M633.3 718.8h0M638.1 715.9h0M636.7 720.6h0M634.8 715.6h0M632.5 718.8h0M638.8 717.2h0M638.2 718.8h0M635.4 719.3h0M637.8 717.2h0M636.2 720.9h0M634.6 713.9h0M639.8 716.8h0M640.2 717.2h0M637.0 715.1h0M634.2 714.5h0M635.4 717.9h0M633.3 720.3h0M634.4 717.1h0M637.2 717.9h0M631.1 717.0h0M635.2 718.5h0M634.6 714.0h0M636.0 717.3h0M639.8 717.8h0M639.9 718.6h0M636.3 716.5h0M637.3 715.8h0M639.0 718.3h0M633.8 714.7h0M636.8 714.0h0M634.2 717.6h0M635.8 719.7h0M633.9 719.2h0M637.9 719.3h0M635.7 715.5h0M637.3 719.9h0M635.6 718.2h0M637.0 714.3h0M638.8 719.8h0M635.8 716.2h0M633.6 719.2h0M662.3 721.3h0M656.1 718.1h0M654.7 723.7h0M653.9 719.5h0M661.2 724.9h0M663.1 723.1h0M661.7 719.0h0M664.3 717.1h0M668.2 723.2h0M659.2 724.0h0M655.8 727.7h0M655.5 720.1h0M655.4 725.1h0M649.0 722.1h0M654.8 723.3h0M663.1 726.5h0M654.0 725.0h0M670.1 719.1h0M672.3 720.1h0M671.4 720.3h0M669.6 721.9h0M669.9 717.5h0M663.4 719.4h0M657.7 727.8h0M663.3 724.5h0M658.3 722.1h0M655.1 720.8h0M657.7 726.3h0M662.5 716.7h0M650.5 722.5h0M656.9 719.5h0M658.4 724.2h0M659.9 722.1h0M661.3 718.1h0M666.7 718.4h0M654.3 721.9h0M656.6 721.6h0M667.4 719.7h0M665.4 725.9h0M666.9 718.7h0M666.0 724.8h0M661.2 726.6h0M654.3 722.3h0M653.3 725.1h0M663.8 725.6h0M655.9 721.5h0M669.2 721.9h0M650.9 721.6h0M654.0 719.7h0M656.6 717.7h0M659.4 722.1h0M651.6 723.4h0M659.5 716.5h0M652.3 727.5h0M668.4 718.5h0M666.6 725.0h0M658.7 717.7h0M669.5 717.5h0M666.3 721.0h0M653.9 727.8h0M669.9 723.1h0M662.5 717.6h0M656.1 719.0h0M652.5 719.7h0M651.0 723.6h0M663.8 723.7h0M661.3 717.9h0M665.5 725.7h0M649.8 722.8h0M653.0 721.3h0M666.4 717.7h0M664.7 724.3h0M657.8 722.3h0M660.6 726.5h0M668.8 718.3h0M663.2 721.5h0M663.2 725.9h0M656.4 728.0h0M669.6 718.9h0M652.1 725.6h0M657.7 727.5h0M654.3 722.4h0M654.8 725.1h0M651.9 725.0h0M652.4 721.3h0M657.4 718.5h0M665.7 721.8h0M671.7 719.3h0M666.3 720.2h0M662.4 717.5h0M662.8 726.6h0M660.7 717.8h0M671.0 720.0h0M654.8 721.0h0M665.2 726.2h0M656.5 727.0h0M654.8 723.4h0M660.5 726.6h0M657.5 723.0h0M667.6 720.7h0M659.2 722.1h0M655.6 721.7h0M668.2 717.1h0M650.5 721.5h0M656.7 724.4h0M661.6 717.6h0M665.5 717.9h0M663.8 723.7h0M654.3 722.5h0M654.6 721.9h0M670.7 722.9h0M667.9 716.9h0M651.7 720.1h0M654.2 725.0h0M663.7 721.7h0M658.6 725.5h0M652.8 724.2h0M659.9 718.1h0M654.2 719.3h0M648.9 724.1h0M652.5 725.3h0M667.4 717.5h0M662.6 721.3h0M659.5 726.8h0M671.0 719.0h0M657.7 722.4h0M653.1 723.1h0M659.8 720.4h0M661.6 717.0h0M650.0 722.0h0M655.5 726.8h0M650.0 722.3h0M653.5 723.2h0M668.9 719.1h0M664.5 725.8h0M658.9 720.7h0M662.2 718.1h0M665.1 720.8h0M656.3 721.0h0M651.8 725.8h0M652.8 721.2h0M661.2 723.6h0M659.6 722.8h0M658.3 722.4h0M650.1 721.0h0M661.1 716.4h0M656.3 722.6h0M665.8 724.8h0M661.4 717.5h0M670.7 721.2h0M657.9 725.6h0M665.7 725.1h0M659.8 726.9h0M655.5 726.4h0M655.6 721.7h0M664.4 716.1h0M650.0 722.7h0M657.8 721.9h0M664.4 717.5h0M662.5 717.7h0M654.6 718.3h0M660.6 722.6h0M649.1 723.1h0M661.1 725.3h0M662.9 723.3h0M669.7 716.9h0M653.9 727.0h0M657.4 721.7h0M667.7 723.3h0M654.8 718.3h0M661.1 720.4h0M651.6 724.4h0M659.2 717.7h0M667.8 724.5h0M658.2 717.5h0M654.1 724.5h0M652.8 725.2h0M670.5 717.0h0M663.8 717.0h0M670.3 717.9h0M660.3 722.4h0M660.8 718.2h0M658.9 725.9h0M658.9 727.7h0M656.1 717.9h0M659.0 717.0h0M659.7 726.7h0M655.5 720.9h0M672.1 721.3h0M666.3 723.0h0M653.3 721.9h0M669.3 719.9h0M662.2 727.2h0M656.7 726.3h0M650.7 725.1h0M668.9 717.1h0M657.5 720.5h0M668.9 723.3h0M657.9 717.1h0M670.4 717.9h0M655.5 727.8h0M657.3 721.8h0M665.9 720.2h0M671.7 717.9h0M651.0 727.2h0M663.5 719.2h0M656.0 717.6h0M657.2 727.7h0M655.2 721.1h0M657.6 725.2h0M652.5 722.0h0M667.5 721.9h0M661.4 724.5h0M668.1 723.1h0M655.9 723.1h0M655.7 718.5h0M663.2 723.0h0M655.8 726.8h0M662.9 717.5h0M662.3 718.6h0M668.8 720.0h0M666.3 716.9h0M670.2 720.7h0M659.8 721.0h0M662.8 717.5h0M668.2 721.8h0M648.9 725.8h0M659.7 717.6h0M662.0 721.8h0M672.1 719.0h0M670.8 721.2h0M652.6 720.5h0M661.2 721.8h0M649.0 724.6h0M669.7 719.1h0M652.2 721.4h0M650.6 725.7h0M665.8 723.2h0M653.9 720.6h0M654.6 725.7h0M671.3 719.3h0M661.6 716.3h0M668.3 720.9h0M669.9 722.6h0M670.0 722.5h0M659.4 717.5h0M656.5 727.1h0M670.5 722.8h0M655.1 720.8h0M661.8 725.1h0M662.2 719.9h0M664.0 719.0h0M661.8 722.3h0M661.2 725.6h0M657.6 720.6h0M653.4 727.0h0M652.1 720.9h0M653.5 725.7h0M669.7 722.5h0M661.6 720.2h0M657.8 718.4h0M663.1 721.5h0M667.2 717.1h0M670.3 723.4h0M668.0 720.2h0M658.3 718.5h0M671.7 718.4h0M661.1 720.7h0M654.5 725.3h0M665.7 724.9h0M656.0 720.8h0M656.6 720.2h0M661.6 718.0h0M656.1 720.5h0M660.5 722.4h0M650.8 726.0h0M651.9 724.0h0M664.7 721.1h0M657.7 723.9h0M665.6 719.5h0M655.4 725.1h0M670.2 718.4h0M655.3 722.4h0M649.5 722.8h0M659.1 726.9h0M657.8 727.1h0M666.6 718.2h0M671.4 721.1h0M650.4 721.8h0M654.2 727.2h0M655.5 721.9h0M667.9 723.6h0M650.4 720.9h0M653.5 727.9h0M654.9 724.4h0M655.2 722.9h0M667.6 717.8h0M654.1 723.6h0M667.4 722.6h0M663.4 716.5h0M656.0 726.8h0M653.6 726.4h0M658.0 727.9h0M653.6 720.4h0M654.7 720.4h0M653.3 726.6h0M654.3 727.4h0M663.8 719.4h0M664.1 720.2h0M659.7 724.7h0M663.4 724.0h0M658.4 724.0h0M662.4 717.3h0M651.9 724.5h0M653.0 724.9h0M671.7 721.8h0M650.8 720.4h0M671.5 719.1h0M653.3 720.0h0M660.0 725.0h0M666.1 725.7h0M657.8 724.0h0M665.7 723.6h0M659.7 720.1h0M662.7 718.2h0M656.8 726.3h0M672.0 721.6h0M667.3 724.8h0M669.8 717.4h0M666.9 722.5h0M652.4 720.4h0M662.2 719.3h0M651.2 722.1h0M662.6 719.1h0M657.2 726.4h0M664.8 718.2h0M652.6 724.7h0M660.6 717.1h0M660.6 717.7h0M658.7 719.1h0M667.4 724.1h0M653.9 727.1h0M670.2 722.9h0M662.2 719.2h0M653.0 724.5h0M652.9 725.6h0M665.9 724.3h0M651.8 724.5h0M651.2 723.0h0M665.0 717.3h0M650.9 722.6h0M654.7 724.5h0M653.6 726.6h0M656.8 726.1h0M659.8 723.4h0M650.0 722.3h0M662.1 723.7h0M649.0 723.3h0M664.7 717.8h0M670.2 719.6h0M653.7 718.8h0M657.0 723.1h0M657.7 727.2h0M660.1 717.3h0M655.0 727.4h0M652.7 725.9h0M666.0 716.2h0M658.3 726.4h0M658.1 727.0h0M659.6 724.5h0M668.1 724.8h0M651.1 723.5h0M659.6 718.6h0M648.5 724.4h0M655.7 719.3h0M652.6 725.5h0M666.3 719.9h0M660.6 722.2h0M652.1 719.4h0M663.8 723.7h0M655.1 718.5h0M651.4 726.9h0M666.7 723.3h0M670.9 718.8h0M670.3 720.2h0M667.9 721.9h0M665.5 723.6h0M657.3 723.9h0M657.0 718.2h0M657.2 724.0h0M654.9 724.4h0M667.9 720.7h0M672.1 721.3h0M661.5 725.6h0M661.2 723.4h0M658.1 719.6h0M654.8 720.5h0M655.5 724.8h0M661.5 725.5h0M652.6 723.4h0M665.6 725.4h0M662.7 717.3h0M664.7 726.5h0M652.4 725.7h0M659.8 724.8h0M668.7 720.8h0M661.5 725.2h0M655.1 720.9h0M659.2 721.6h0M662.3 722.8h0M651.7 725.8h0M662.1 716.7h0M666.3 720.5h0M648.9 722.2h0M665.2 718.5h0M655.8 727.4h0M662.6 725.5h0M658.2 717.0h0M660.3 717.7h0M665.2 724.6h0M644.9 732.1h0M646.2 730.6h0M650.6 727.4h0M645.1 728.9h0M646.4 725.4h0M646.5 724.6h0M649.5 725.4h0M646.9 729.2h0M650.0 726.7h0M648.9 727.3h0M648.1 727.8h0M646.5 731.7h0M645.7 730.7h0M644.1 731.4h0M646.6 732.6h0M642.8 731.5h0M643.3 726.0h0M642.5 730.3h0M646.6 726.8h0M647.7 725.6h0M646.7 724.7h0M647.8 731.3h0M646.3 726.7h0M644.3 728.1h0M643.2 728.0h0M648.3 727.2h0M646.8 730.7h0M642.9 730.8h0M649.1 728.8h0M646.7 728.6h0M649.5 728.1h0M645.4 730.2h0M647.4 733.7h0M647.6 730.8h0M646.7 730.5h0M647.8 726.3h0M642.9 727.7h0M647.9 727.3h0M646.5 727.0h0M642.9 730.9h0M644.2 731.6h0M642.3 729.3h0M644.2 733.4h0M645.4 733.3h0M649.6 727.3h0M650.4 728.2h0M644.1 725.9h0M648.0 725.5h0M649.8 730.7h0M642.3 727.2h0M649.5 731.5h0M642.3 730.0h0M645.3 725.6h0M650.1 727.7h0M647.2 729.2h0M647.0 728.1h0M648.5 727.5h0M648.7 731.5h0M647.8 727.3h0M645.3 732.5h0M643.8 732.6h0M645.7 732.6h0M642.7 729.0h0M647.3 728.6h0M650.2 728.4h0M646.5 726.7h0M644.4 728.9h0M650.0 729.8h0M644.3 729.4h0M649.0 728.0h0M648.1 724.7h0M648.2 724.4h0M641.9 729.6h0M648.5 731.0h0M643.8 726.2h0M650.1 728.9h0M647.7 724.6h0M645.7 727.3h0M650.5 729.7h0M646.9 731.4h0M644.9 729.8h0M644.9 732.6h0M649.4 729.0h0M648.1 725.9h0M648.3 729.0h0M646.7 728.4h0M644.4 732.2h0M649.4 725.2h0M644.2 729.1h0M649.2 728.1h0M647.9 725.5h0M646.2 733.9h0M645.2 731.9h0M645.1 733.4h0M645.6 725.9h0M646.4 727.7h0M645.9 725.4h0M646.4 734.0h0M646.3 728.2h0M645.7 724.2h0M649.1 731.6h0M647.1 730.7h0M646.8 732.1h0M648.4 729.7h0M644.1 727.5h0M646.8 726.2h0M642.5 726.8h0M646.3 724.9h0M645.4 731.9h0M647.0 729.5h0M648.1 725.4h0M645.8 731.9h0M648.1 729.0h0M646.9 726.2h0M648.2 726.0h0M645.1 730.4h0M644.4 732.5h0M646.5 733.6h0M649.8 726.8h0M645.0 731.0h0M649.1 728.0h0M651.0 729.7h0M647.2 732.3h0M645.9 726.0h0M643.1 727.0h0M646.4 733.0h0M645.5 724.3h0M642.2 727.3h0M648.7 730.9h0M648.5 728.0h0M649.5 732.1h0M643.3 730.6h0M645.0 725.0h0M643.1 732.1h0M642.5 727.5h0M648.8 728.8h0M645.7 732.7h0M645.4 727.3h0M648.9 726.5h0M645.9 726.9h0M648.0 733.5h0M647.9 732.4h0M648.9 733.2h0M648.3 732.0h0M650.0 725.7h0M647.9 725.4h0M647.9 731.5h0M646.5 732.4h0M650.4 730.7h0M644.1 728.7h0M664.5 741.7h0M664.3 742.3h0M661.8 741.3h0M662.8 739.9h0M658.4 740.9h0M661.8 741.7h0M663.5 743.5h0M660.4 742.6h0M661.0 742.8h0M664.1 740.3h0M660.7 741.7h0M662.6 742.3h0M662.7 740.5h0M662.7 742.8h0M662.2 742.9h0M660.2 743.1h0M660.0 742.2h0M659.7 741.8h0M661.9 743.7h0M666.2 741.1h0M664.7 739.3h0M659.0 741.9h0M664.7 741.6h0M663.5 743.6h0M665.8 739.8h0M664.6 740.1h0M660.7 741.8h0M661.8 739.5h0M661.4 742.1h0M658.5 741.9h0M663.0 742.2h0M661.5 742.1h0M664.1 741.0h0M662.0 742.9h0M662.2 740.6h0M661.9 742.3h0M661.9 741.2h0M666.7 741.0h0M666.3 740.5h0M665.3 740.2h0M658.4 742.6h0M661.9 743.3h0M660.0 740.9h0M663.2 743.7h0M661.3 742.2h0M661.3 742.9h0M661.5 742.0h0M665.8 742.5h0M660.0 743.0h0M665.2 742.3h0M664.8 742.4h0M664.9 739.3h0M658.5 741.7h0M661.4 740.3h0M665.5 741.6h0M658.9 740.7h0M666.8 741.4h0M661.4 743.6h0M665.8 739.9h0M663.0 742.5h0M661.5 743.3h0M664.0 742.3h0M663.0 739.2h0M664.7 741.2h0M665.4 741.3h0M665.6 742.3h0M664.4 742.6h0M660.4 742.2h0M659.9 741.8h0M663.2 739.7h0M663.0 742.9h0M662.6 742.3h0M661.6 741.5h0M661.7 740.5h0M666.9 741.8h0M662.1 743.3h0M662.8 740.1h0M662.5 739.8h0M661.8 741.7h0M661.3 740.5h0M666.9 740.9h0M660.4 741.9h0M663.7 740.5h0M662.0 740.5h0M664.1 743.6h0M661.8 740.2h0M661.0 743.6h0M663.1 740.6h0M663.3 740.4h0M666.1 741.1h0M659.3 748.1h0M652.6 752.1h0M656.8 748.6h0M658.8 752.5h0M653.8 752.1h0M653.6 749.2h0M655.7 746.3h0M651.3 749.6h0M659.7 750.9h0M655.1 754.3h0M658.2 753.1h0M652.9 747.2h0M652.6 749.3h0M653.4 752.1h0M658.6 751.7h0M651.3 745.1h0M657.3 745.8h0M659.3 754.9h0M654.0 750.3h0M658.5 746.0h0M660.1 751.0h0M657.0 753.0h0M656.0 745.3h0M655.3 746.5h0M657.1 755.0h0M655.3 748.1h0M662.3 750.9h0M656.4 748.6h0M658.5 754.8h0M655.6 748.1h0M662.1 750.6h0M658.8 749.3h0M657.1 750.3h0M660.2 751.8h0M652.8 746.9h0M653.2 751.0h0M657.5 746.5h0M658.7 755.0h0M657.6 750.4h0M652.7 747.6h0M661.8 753.7h0M652.4 747.4h0M656.1 753.4h0M654.0 747.8h0M651.5 749.6h0M655.8 747.6h0M654.6 748.9h0M652.0 751.9h0M651.7 747.6h0M652.7 745.7h0M649.7 747.0h0M655.1 749.9h0M655.6 750.1h0M654.2 750.6h0M655.8 746.0h0M660.9 748.7h0M655.9 746.2h0M655.2 752.1h0M659.6 751.0h0M651.4 745.1h0M657.0 747.2h0M651.0 749.9h0M655.6 745.2h0M652.3 751.3h0M656.2 746.8h0M659.6 751.4h0M662.4 753.3h0M660.0 749.9h0M651.4 748.8h0M660.1 748.4h0M654.1 747.6h0M656.6 745.9h0M657.7 754.8h0M656.8 749.4h0M657.9 751.8h0M659.3 749.6h0M659.7 753.2h0M656.6 750.1h0M659.1 754.6h0M657.8 748.3h0M657.8 745.8h0M659.8 747.9h0M656.6 747.7h0M656.0 751.2h0M650.7 746.8h0M656.6 752.7h0M659.2 746.8h0M659.4 751.8h0M658.5 746.5h0M653.3 744.6h0M660.4 751.9h0M656.7 745.2h0M650.3 745.9h0M660.4 752.2h0M650.4 748.4h0M650.9 749.9h0M654.8 747.2h0M659.7 752.3h0M660.9 754.5h0M660.9 748.3h0M653.8 745.6h0M655.3 747.1h0M657.4 749.1h0M654.4 748.2h0M654.8 746.6h0M656.8 749.5h0M655.0 749.7h0M655.0 753.1h0M654.5 752.4h0M657.7 754.5h0M654.3 750.2h0M657.4 751.6h0M655.9 751.6h0M654.3 752.1h0M658.3 749.1h0M655.3 750.1h0M655.9 750.8h0M651.5 744.9h0M657.0 747.3h0M653.5 749.5h0M655.6 745.8h0M654.2 746.4h0M656.5 750.3h0M656.3 750.9h0M652.9 752.7h0M656.3 746.7h0M656.1 750.1h0M655.1 754.0h0M658.1 750.5h0M658.9 747.3h0M659.1 750.7h0M660.2 751.1h0M656.1 746.0h0M656.7 747.8h0M653.0 750.9h0M652.9 750.9h0M653.0 746.6h0M658.0 746.0h0M657.2 754.4h0M651.4 744.8h0M656.6 747.5h0M658.6 753.1h0M656.7 745.1h0M657.5 745.6h0M649.7 748.3h0M652.2 752.3h0M654.8 746.3h0M655.1 750.5h0M655.6 752.8h0M656.5 753.3h0M653.2 744.5h0M656.8 747.8h0M660.7 752.3h0M656.8 745.1h0M660.0 755.4h0M661.4 753.4h0M661.7 750.4h0M657.4 750.5h0M650.5 747.4h0M651.5 747.8h0M657.4 745.7h0M653.7 752.3h0M650.0 747.8h0M660.2 755.2h0M653.1 751.6h0M651.6 747.4h0M657.4 748.6h0M661.8 753.8h0M652.6 745.5h0M659.3 748.3h0M652.1 750.8h0M656.5 753.2h0M659.7 752.1h0M652.3 752.2h0M650.9 748.1h0M653.6 751.6h0M653.6 753.1h0M659.3 752.6h0M657.7 753.1h0M657.0 753.9h0M661.2 748.6h0M662.0 749.9h0M659.9 747.8h0M660.8 755.0h0M658.9 746.7h0M652.0 746.2h0M658.1 755.1h0M658.6 750.1h0M652.3 746.5h0M655.4 750.0h0M676.5 738.3h0M674.6 739.1h0M675.4 735.8h0M675.5 737.4h0M675.1 736.7h0M675.3 735.9h0M676.0 735.7h0M673.4 735.9h0M673.3 737.1h0M675.1 738.0h0M673.3 738.7h0M677.1 737.8h0M674.4 736.4h0M673.5 735.7h0M676.1 736.8h0M674.8 739.5h0M674.4 738.3h0M675.4 738.0h0M676.3 736.0h0M674.9 736.5h0M675.1 735.3h0M673.1 738.3h0M675.7 735.4h0M674.8 735.5h0M674.2 738.9h0M642.5 744.6h0M643.0 744.0h0M641.8 744.9h0M643.0 744.4h0M642.0 745.6h0M644.4 745.7h0M644.9 745.1h0M644.1 744.3h0M641.4 745.6h0M643.4 745.6h0M642.4 744.2h0M644.3 745.3h0M643.4 746.6h0M644.1 745.8h0M643.1 746.1h0M644.1 746.0h0M642.7 746.0h0M642.8 745.1h0M627.3 734.0h0M627.0 733.6h0M627.2 732.7h0M627.8 734.0h0M626.3 734.4h0M625.6 733.5h0M627.2 733.2h0M627.4 732.6h0M625.6 733.9h0M626.9 734.2h0M627.5 734.3h0M626.1 733.6h0M636.1 736.8h0M636.6 726.0h0M669.8 748.2h0M672.7 747.2h0M667.4 735.4h0M641.0 735.0h0M670.2 737.0h0" stroke="#727272" stroke-width="1.20" stroke-linecap="round" stroke-opacity="0.9" fill="none"/>
<path d="M651.5 745.5 L 660 752.5" stroke="#f4f4f4" stroke-width="0.5"/>
<rect x="648.4" y="735.2" width="29.3" height="21.5" fill="none" stroke="#e8b0bc" stroke-width="0.5"/>
</svg></body></html>
